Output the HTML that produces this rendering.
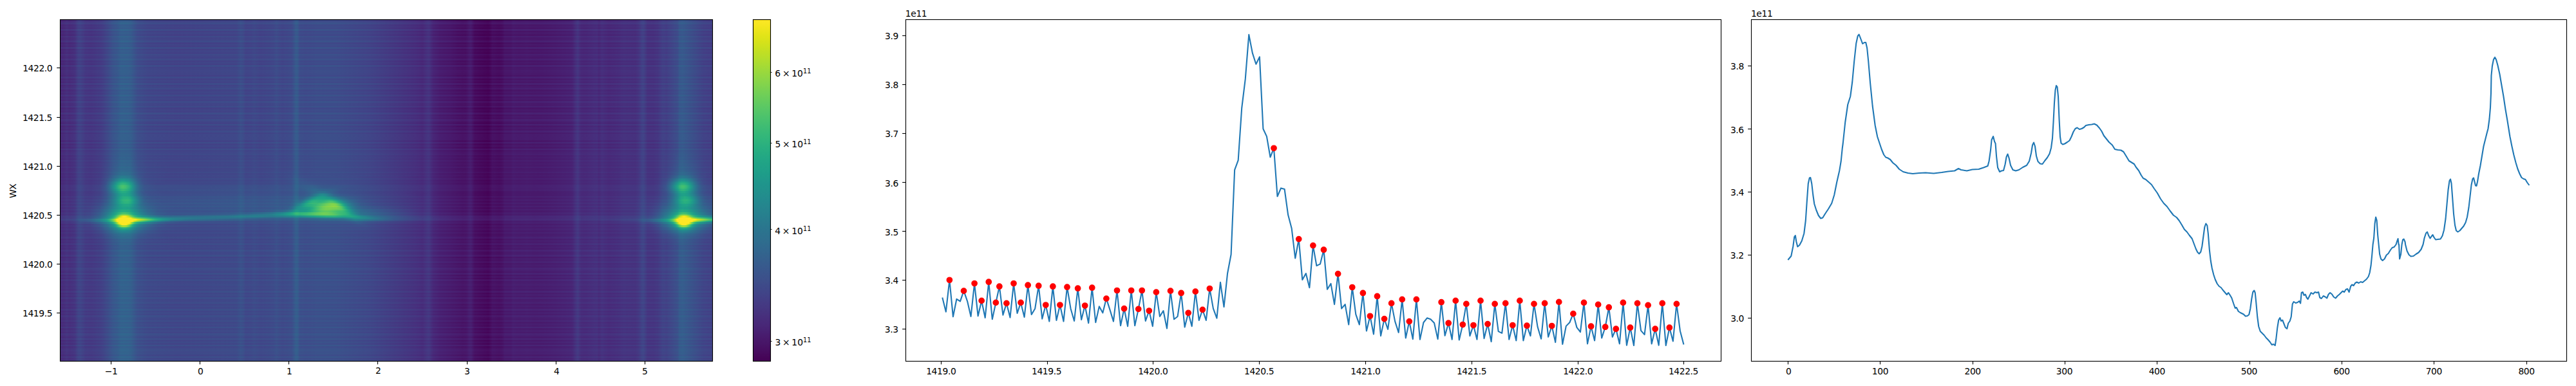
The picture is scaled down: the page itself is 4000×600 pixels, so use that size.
<!DOCTYPE html>
<html lang="en"><head><meta charset="utf-8"><title>wx spectra</title>
<style>html,body{margin:0;padding:0;background:#fff}svg{display:block}text{font-family:'DejaVu Sans','Liberation Sans',sans-serif;fill:#000;letter-spacing:-0.4px}tspan{letter-spacing:0}</style></head><body>
<div id="fig" style="position:relative;width:4000px;height:600px;overflow:hidden;background:#fff">
<style>#hm{position:absolute;left:93px;top:30px;width:1014px;height:532px;overflow:hidden;background:#3f4788}#hm i{position:absolute;left:0;width:100%;display:block}
.r0{background:linear-gradient(90deg,#472d7c 0.06%,#46317e 0.68%,#453681 1.06%,#46327f 1.43%,#453882 2.3%,#404788 2.8%,#3f4889 3.17%,#433e85 3.92%,#433c84 4.91%,#414387 6.41%,#3c4f8a 7.4%,#37598c 8.15%,#355d8d 8.77%,#32658e 9.39%,#32648e 10.39%,#34618d 10.88%,#3a538b 11.88%,#3d4c8a 13.37%,#3e4989 17.97%,#3d4c8a 27.05%,#3a548b 27.67%,#3b518b 28.05%,#3e4b89 28.42%,#3d4c8a 29.29%,#3c4e8a 29.79%,#3e4a89 30.78%,#3d4e8a 32.65%,#3b528b 33.15%,#3d4c8a 34.02%,#3c508b 35.51%,#37598c 35.88%,#34608d 36.13%,#345f8d 36.38%,#3b528b 36.75%,#3b508b 37.75%,#3a538b 39.49%,#3b528b 42.35%,#3e4a89 47.33%,#463480 54.66%,#47307d 55.53%,#453681 56.03%,#443a83 56.41%,#453782 56.65%,#472b7a 57.15%,#482475 58.15%,#481e70 60.01%,#48186a 61.75%,#481a6c 62.25%,#482273 62.75%,#482173 63%,#481466 63.5%,#460b5e 65.61%,#470f62 65.86%,#481769 66.23%,#481466 67.35%,#48186a 67.85%,#481d6f 68.1%,#481d6f 69.09%,#482273 69.34%,#482071 70.21%,#482172 71.58%,#482071 72.7%,#482072 73.45%,#482273 74.69%,#482374 75.81%,#482978 78.42%,#453781 79.04%,#433c84 79.29%,#47307d 79.79%,#472e7c 80.41%,#463480 82.28%,#472e7c 82.52%,#453580 83.02%,#472f7d 84.02%,#46337f 85.63%,#453781 86.26%,#453581 88.12%,#443b83 88.62%,#404688 89.12%,#3f4888 89.37%,#443882 89.99%,#453882 90.86%,#443c84 91.6%,#404788 92.35%,#414487 92.85%,#3c4f8a 94.09%,#3a538b 94.59%,#39568c 94.71%,#365d8d 94.84%,#345f8d 95.34%,#3f4788 98.57%,#404588 99.94%)}
.r1{background:linear-gradient(90deg,#482979 0.06%,#472d7b 0.68%,#46327f 1.06%,#472e7c 1.43%,#463480 2.3%,#414387 2.8%,#414487 3.17%,#443a83 3.92%,#453882 4.91%,#423f85 6.41%,#3e4b89 7.4%,#39558c 8.15%,#375a8c 8.77%,#34618d 9.39%,#34608d 10.39%,#355e8d 10.88%,#3c4f8a 11.88%,#3f4889 13.37%,#404588 17.85%,#3f4889 27.05%,#3c508b 27.67%,#3d4d8a 28.05%,#404788 28.42%,#3f4889 29.29%,#3e4a89 29.79%,#404688 30.78%,#3e4a89 32.65%,#3c4e8a 33.15%,#3f4889 34.02%,#3d4c8a 35.51%,#39568c 35.88%,#365c8d 36.13%,#365c8d 36.38%,#3c4f8a 36.75%,#3d4c8a 37.62%,#3c4f8a 39.49%,#3c4e8a 42.35%,#404688 47.2%,#47307d 54.66%,#472c7a 55.53%,#46327e 56.03%,#453681 56.41%,#46337f 56.65%,#482777 57.15%,#481f71 58.15%,#48196c 60.01%,#481366 61.75%,#481568 62.25%,#481d6f 62.75%,#481d6f 63%,#470f62 63.5%,#450659 65.61%,#460a5d 65.86%,#471265 66.23%,#470f61 67.35%,#481366 67.85%,#48196b 68.1%,#48196b 69.09%,#481d6f 69.34%,#481b6d 70.21%,#481d6f 71.58%,#481b6d 72.57%,#481c6e 73.45%,#481d6f 74.69%,#481f70 75.81%,#482475 78.42%,#46337f 79.04%,#453882 79.29%,#472b7a 79.79%,#482a79 80.41%,#46307e 82.28%,#472a79 82.52%,#46317e 83.02%,#472b7a 84.02%,#472f7d 85.63%,#46337f 86.26%,#46317e 88.12%,#453781 88.62%,#414287 89.12%,#414487 89.37%,#463480 89.99%,#463480 90.86%,#453782 91.6%,#414387 92.35%,#424086 92.85%,#3e4b8a 94.09%,#3c4f8a 94.59%,#3b528b 94.71%,#37598c 94.84%,#365c8d 95.34%,#414387 98.57%,#424186 99.94%)}
.r2{background:linear-gradient(90deg,#46327e 0.06%,#453681 0.68%,#443a83 1.06%,#453681 1.43%,#433c84 2.3%,#3e4b89 2.8%,#3e4c8a 3.17%,#414287 3.92%,#424086 4.91%,#3f4788 6.41%,#3a538b 7.4%,#365d8d 8.15%,#34618d 8.77%,#31688e 9.39%,#31668e 10.76%,#39568c 11.88%,#3c508b 13.37%,#3d4d8a 17.97%,#3c508b 27.05%,#38578c 27.67%,#39558c 28.05%,#3c4e8a 28.42%,#3c4f8b 29.29%,#3b528b 29.79%,#3d4e8a 30.78%,#3b518b 32.65%,#39568c 33.15%,#3c508b 34.02%,#3a548b 35.51%,#365d8d 35.88%,#33638d 36.13%,#33638d 36.38%,#39568c 36.75%,#3a548c 37.75%,#39568c 39.49%,#39568c 42.35%,#3d4e8a 47.33%,#453882 54.66%,#463480 55.66%,#433e85 56.41%,#443b84 56.65%,#472f7d 57.15%,#482878 58.15%,#482273 60.01%,#481d6f 61.75%,#481e70 62.25%,#482676 62.75%,#482676 63%,#48186b 63.5%,#471163 65.61%,#481467 65.86%,#481b6d 66.23%,#48186b 67.35%,#481c6e 67.85%,#482273 68.22%,#482273 69.09%,#482676 69.34%,#482575 70.34%,#482676 71.58%,#482475 72.7%,#482575 73.45%,#482777 75.19%,#482877 75.81%,#472d7b 78.42%,#443b84 79.04%,#424086 79.29%,#46337f 79.91%,#453580 81.16%,#443982 82.28%,#46337f 82.52%,#443983 83.02%,#46337f 84.02%,#453782 85.63%,#443b84 86.26%,#443983 88.12%,#433f85 88.62%,#3e4a89 89.12%,#3e4b8a 89.37%,#433d84 89.99%,#433c84 90.98%,#424186 91.73%,#3e4b89 92.35%,#3f4889 92.85%,#3a538b 94.22%,#37598c 94.71%,#34608d 94.84%,#33638d 95.34%,#3e4b8a 98.57%,#3f4989 99.94%)}
.r3{background:linear-gradient(90deg,#482878 0.06%,#472c7a 0.68%,#46307e 1.06%,#472d7b 1.43%,#46327f 2.3%,#424186 2.8%,#414287 3.17%,#443882 3.92%,#453781 4.91%,#433e85 6.41%,#3e4a89 7.4%,#3a548c 8.15%,#38588c 8.77%,#34608d 9.39%,#355f8d 10.39%,#365d8d 10.88%,#3d4d8a 11.88%,#3f4788 13.37%,#414487 17.85%,#3f4788 27.05%,#3c4f8a 27.67%,#3d4c8a 28.05%,#404588 28.42%,#404688 29.29%,#3f4989 29.79%,#404588 30.78%,#3f4889 32.65%,#3d4d8a 33.15%,#404788 34.02%,#3e4b89 35.51%,#3a548c 35.88%,#375b8d 36.13%,#375b8d 36.38%,#3d4d8a 36.75%,#3e4b8a 37.62%,#3d4e8a 39.49%,#3d4d8a 42.35%,#404588 47.2%,#472f7d 54.54%,#472a79 55.53%,#47307d 56.03%,#463480 56.41%,#46327e 56.65%,#482576 57.15%,#481e70 58.15%,#48186a 60.01%,#471264 61.75%,#481366 62.25%,#481c6e 62.75%,#481c6d 63%,#470d60 63.5%,#450458 65.61%,#46085b 65.86%,#471063 66.23%,#470e61 66.98%,#470d60 67.35%,#471164 67.85%,#48176a 68.1%,#48176a 69.09%,#481c6e 69.34%,#481a6c 70.21%,#481b6d 71.58%,#481a6c 72.33%,#481a6c 73.57%,#481d6f 75.81%,#482374 78.42%,#46317e 79.04%,#453781 79.29%,#482a79 79.79%,#482878 80.41%,#472f7d 82.28%,#482978 82.52%,#472f7d 83.02%,#482979 84.02%,#472d7c 85.63%,#46317e 86.26%,#47307d 88.12%,#453580 88.62%,#424186 89.12%,#414287 89.37%,#46337f 89.99%,#46327f 90.86%,#453681 91.6%,#424186 92.35%,#433f85 92.85%,#3e4a89 94.09%,#3d4e8a 94.59%,#3b518b 94.71%,#38588c 94.84%,#375b8d 95.34%,#414287 98.57%,#423f85 99.94%)}
.r4{background:linear-gradient(90deg,#472c7b 0.06%,#47307d 0.68%,#463580 1.06%,#46317e 1.43%,#453781 2.3%,#404588 2.8%,#404688 3.17%,#433d84 3.92%,#443b83 4.91%,#414286 6.41%,#3d4e8a 7.4%,#38588c 8.15%,#365c8d 8.77%,#33638d 9.39%,#33638d 10.39%,#34608d 10.88%,#3b518b 11.88%,#3e4b89 13.37%,#3f4889 17.85%,#3e4b89 27.05%,#3a528b 27.67%,#3c508b 28.05%,#3f4989 28.42%,#3e4a89 29.29%,#3d4d8a 29.79%,#3f4989 30.78%,#3d4c8a 32.65%,#3b518b 33.15%,#3e4b89 34.02%,#3c4f8a 35.51%,#38588c 35.88%,#355f8d 36.13%,#355e8d 36.38%,#3b518b 36.75%,#3c4f8a 37.75%,#3b518b 39.37%,#3b518b 42.35%,#3f4989 47.33%,#46327f 54.66%,#472e7c 55.53%,#463480 56.03%,#443982 56.41%,#453681 56.65%,#482a79 57.15%,#482273 58.15%,#481c6e 60.01%,#481769 61.75%,#48186a 62.25%,#482072 62.75%,#482071 63%,#471265 63.5%,#46095d 65.61%,#470d60 65.86%,#481568 66.23%,#471265 67.35%,#481669 67.85%,#481c6e 68.1%,#481c6e 69.09%,#482072 69.34%,#481e70 70.21%,#482071 71.58%,#481e70 72.7%,#481f71 73.45%,#482072 74.69%,#482273 75.81%,#482777 78.42%,#453581 79.04%,#443b83 79.29%,#472e7c 79.79%,#472c7b 80.41%,#46337f 82.28%,#472d7b 82.52%,#463380 83.02%,#472d7c 84.02%,#46327e 85.63%,#453581 86.26%,#463480 88.12%,#443983 88.62%,#404588 89.12%,#404688 89.37%,#453782 89.99%,#453681 90.86%,#443a83 91.6%,#404588 92.35%,#414387 92.85%,#3d4e8a 94.09%,#3b518b 94.59%,#3a548c 94.71%,#365c8d 94.84%,#355e8d 95.34%,#404688 98.57%,#414387 99.94%)}
.r5{background:linear-gradient(90deg,#472f7d 0.06%,#46337f 0.68%,#453782 1.06%,#463480 1.43%,#443983 2.3%,#3f4889 2.8%,#3f4989 3.17%,#423f85 3.92%,#433d85 4.91%,#404487 6.41%,#3c508b 7.4%,#375a8c 8.15%,#355e8d 8.77%,#32668e 9.39%,#32658e 10.39%,#33628d 10.88%,#3a548b 11.88%,#3d4e8a 13.37%,#3e4b89 17.97%,#3d4d8a 27.05%,#39558c 27.67%,#3a528b 28.05%,#3d4c8a 28.42%,#3d4d8a 29.29%,#3c4f8b 29.79%,#3e4b8a 30.78%,#3c4f8a 32.65%,#3a538b 33.15%,#3d4d8a 34.02%,#3b518b 35.51%,#375b8d 35.88%,#34618d 36.13%,#34608d 36.38%,#3a548b 36.75%,#3b528b 37.75%,#3a548b 39.49%,#3a538b 42.35%,#3e4b8a 47.33%,#453581 54.66%,#46317e 55.53%,#453782 56.03%,#443b84 56.41%,#443982 56.65%,#472d7b 57.15%,#482576 58.15%,#481f71 60.01%,#481a6c 61.75%,#481b6d 62.25%,#482374 62.75%,#482374 63%,#481568 63.5%,#470d60 65.61%,#471164 65.86%,#48186b 66.23%,#481568 67.35%,#48196b 67.85%,#481f70 68.1%,#481f70 69.09%,#482374 69.34%,#482172 70.21%,#482374 71.58%,#482172 72.7%,#482273 73.45%,#482374 75.06%,#482575 75.81%,#472a79 78.42%,#453882 79.04%,#433d85 79.29%,#46317e 79.79%,#472f7d 80.41%,#453681 82.28%,#47307d 82.52%,#453681 83.02%,#46307e 84.02%,#463480 85.63%,#453882 86.26%,#453781 88.12%,#433c84 88.62%,#3f4889 89.12%,#3f4989 89.37%,#443a83 89.99%,#443983 90.86%,#433d84 91.6%,#3f4889 92.35%,#404588 92.85%,#3b518b 94.22%,#38578c 94.71%,#355e8d 94.84%,#34608d 95.34%,#3f4989 98.57%,#404688 99.94%)}
.r6{background:linear-gradient(90deg,#46307e 0.06%,#463480 0.68%,#443982 1.06%,#453580 1.43%,#443b83 2.3%,#3e4989 2.8%,#3e4a89 3.17%,#424186 3.92%,#433f85 4.91%,#404688 6.41%,#3b518b 7.4%,#365b8d 8.15%,#34608d 8.77%,#31678e 9.39%,#31668e 10.39%,#33648d 10.88%,#39558c 11.88%,#3c4f8a 13.37%,#3d4c8a 17.97%,#3c4f8a 27.05%,#39568c 27.67%,#3a548b 28.05%,#3d4d8a 28.42%,#3c4e8a 29.29%,#3b518b 29.79%,#3d4d8a 30.78%,#3c508b 32.65%,#3a548c 33.15%,#3c4f8a 34.02%,#3a528b 35.51%,#365c8d 35.88%,#33628d 36.13%,#33628d 36.38%,#39558c 36.75%,#3a538b 37.75%,#39558c 39.49%,#3a548c 42.35%,#3d4d8a 47.33%,#453781 54.66%,#46337f 55.66%,#433d84 56.41%,#443a83 56.65%,#472e7c 57.15%,#482777 58.15%,#482172 60.01%,#481b6d 61.75%,#481d6f 62.25%,#482575 62.75%,#482475 63%,#481769 63.5%,#470f62 65.61%,#471265 65.86%,#481a6c 66.23%,#481769 67.35%,#481b6d 67.85%,#482172 68.22%,#482072 69.09%,#482575 69.34%,#482374 70.34%,#482475 71.58%,#482273 72.7%,#482374 73.45%,#482576 75.19%,#482676 75.81%,#472c7b 78.42%,#443a83 79.04%,#433f85 79.29%,#46317e 79.91%,#463480 81.16%,#453782 82.28%,#46317e 82.52%,#453882 83.02%,#46327e 84.02%,#453681 85.63%,#443a83 86.26%,#453882 88.12%,#433d85 88.62%,#3f4989 89.12%,#3e4a89 89.37%,#443b84 89.99%,#443b83 90.86%,#424086 91.73%,#3e4989 92.35%,#404788 92.85%,#3b528b 94.22%,#38588c 94.71%,#355f8d 94.84%,#33628d 95.34%,#3e4a89 98.57%,#3f4788 99.94%)}
.r7{background:linear-gradient(90deg,#472b7a 0.06%,#472e7c 0.68%,#46337f 1.06%,#472f7d 1.43%,#453581 2.3%,#414487 2.8%,#404588 3.17%,#443b84 3.92%,#443983 4.91%,#424086 6.41%,#3d4c8a 7.4%,#39578c 8.15%,#375b8d 8.77%,#33628d 9.39%,#34618d 10.39%,#355f8d 10.88%,#3c508b 11.88%,#3e4a89 13.37%,#404788 17.85%,#3e4989 27.05%,#3b518b 27.67%,#3c4f8a 28.05%,#3f4889 28.42%,#3f4989 29.29%,#3e4c8a 29.79%,#3f4788 30.78%,#3e4b89 32.65%,#3c4f8b 33.15%,#3e4989 34.02%,#3d4d8a 35.51%,#38578c 35.88%,#355d8d 36.13%,#365d8d 36.38%,#3c508b 36.75%,#3d4e8a 37.75%,#3c508b 39.37%,#3c508b 42.35%,#3f4889 47.2%,#46317e 54.66%,#472d7b 55.53%,#46337f 56.03%,#453782 56.41%,#463480 56.65%,#482878 57.15%,#482172 58.15%,#481b6d 60.01%,#481567 61.75%,#481769 62.25%,#481f70 62.75%,#481f70 63%,#471063 63.5%,#46085b 65.61%,#460c5f 65.86%,#481466 66.23%,#471063 67.35%,#481567 67.85%,#481a6c 68.1%,#481a6c 69.09%,#481f70 69.34%,#481d6e 70.21%,#481e70 71.58%,#481d6e 72.7%,#481e6f 73.45%,#481f70 74.69%,#482072 75.81%,#482676 78.42%,#463480 79.04%,#443983 79.29%,#472d7b 79.79%,#472b7a 80.41%,#46327e 82.28%,#472c7a 82.52%,#46327f 83.02%,#472c7b 84.02%,#46307e 85.63%,#463480 86.26%,#46337f 88.12%,#453882 88.62%,#414487 89.12%,#404588 89.37%,#453681 89.99%,#453580 90.86%,#443982 91.6%,#414487 92.35%,#424186 92.85%,#3d4d8a 94.09%,#3b508b 94.59%,#3a538b 94.71%,#375a8d 94.84%,#365d8d 95.34%,#404588 98.57%,#414287 99.94%)}
.r8{background:linear-gradient(90deg,#482676 0.06%,#472a79 0.68%,#472f7d 1.06%,#472b7a 1.43%,#46317e 2.3%,#424086 2.8%,#424186 3.17%,#453782 3.92%,#453580 4.91%,#433c84 6.41%,#3f4889 7.4%,#3a538b 8.15%,#38578c 8.77%,#355f8d 9.39%,#355e8d 10.39%,#365b8d 10.88%,#3d4c8a 11.88%,#404688 13.37%,#414387 17.85%,#404688 27.05%,#3d4d8a 27.67%,#3e4b89 28.05%,#414487 28.42%,#404588 29.29%,#3f4888 29.79%,#414387 30.78%,#3f4788 32.65%,#3e4c8a 33.15%,#404588 34.02%,#3e4a89 35.51%,#3a538b 35.88%,#375a8c 36.13%,#37598c 36.38%,#3d4c8a 36.75%,#3e4a89 37.62%,#3d4c8a 39.37%,#3d4c8a 42.35%,#414487 47.2%,#472e7c 54.54%,#482978 55.53%,#472f7d 56.03%,#46337f 56.41%,#47307d 56.65%,#482475 57.15%,#481c6e 58.15%,#48176a 59.89%,#471264 61.01%,#471163 62.13%,#481b6d 62.87%,#481669 63.12%,#460b5e 63.5%,#450356 65.61%,#45065a 65.86%,#470f62 66.23%,#460c5f 66.98%,#460b5e 67.35%,#471062 67.85%,#481668 68.1%,#481668 69.09%,#481a6c 69.34%,#48186a 70.21%,#481a6c 71.58%,#48196b 72.2%,#48186b 73.57%,#481c6e 75.81%,#482173 78.42%,#47307d 79.04%,#453580 79.29%,#482878 79.79%,#482777 80.41%,#472d7c 82.28%,#482777 82.52%,#472e7c 83.02%,#482878 84.02%,#472c7b 85.63%,#47307d 86.26%,#472e7c 88.12%,#463480 88.62%,#424086 89.12%,#424186 89.37%,#46317e 89.99%,#46317e 90.86%,#463580 91.6%,#424086 92.35%,#433d85 92.85%,#3f4989 94.09%,#3d4c8a 94.59%,#3c4f8b 94.71%,#38578c 94.84%,#37598c 95.34%,#424186 98.57%,#433e85 99.94%)}
.r9{background:linear-gradient(90deg,#482575 0.06%,#482978 0.68%,#472d7c 1.06%,#482a79 1.43%,#47307d 2.3%,#433f85 2.8%,#424086 3.17%,#453681 3.92%,#463480 4.91%,#443b83 6.41%,#3f4788 7.4%,#3b528b 8.15%,#39568c 8.77%,#355e8d 9.39%,#365d8d 10.39%,#375a8c 10.88%,#3e4b89 11.88%,#404487 13.37%,#424186 17.85%,#414487 27.05%,#3d4c8a 27.67%,#3e4a89 28.05%,#414387 28.42%,#414487 29.29%,#404688 29.79%,#414287 30.66%,#404688 32.65%,#3e4a89 33.15%,#414487 34.02%,#3f4889 35.51%,#3b528b 35.88%,#38598c 36.13%,#38588c 36.38%,#3e4b89 36.75%,#3f4989 37.62%,#3e4b89 39.37%,#3e4a89 42.35%,#414287 47.2%,#472c7b 54.54%,#482777 55.53%,#472d7c 56.03%,#46327e 56.41%,#472f7d 56.65%,#482273 57.15%,#481b6d 58.15%,#481668 59.89%,#471063 61.01%,#470f62 62.13%,#48196b 62.75%,#48186b 63%,#46095d 63.5%,#440154 65.61%,#450558 65.86%,#470d60 66.23%,#460a5d 66.98%,#46095d 67.35%,#470e61 67.85%,#481467 68.1%,#481467 69.09%,#48196b 69.34%,#481669 70.21%,#48186a 71.58%,#481769 72.08%,#48176a 73.45%,#48186b 74.56%,#481a6c 75.81%,#482071 78.42%,#472e7c 79.04%,#463480 79.29%,#482777 79.79%,#482576 80.41%,#472c7b 82.28%,#482676 82.52%,#472c7b 83.02%,#482676 84.02%,#472a7a 85.63%,#472e7c 86.26%,#472d7b 88.12%,#46327f 88.62%,#433e85 89.12%,#423f86 89.37%,#47307d 89.99%,#472f7d 90.86%,#46337f 91.6%,#433f85 92.35%,#433c84 92.85%,#3f4788 94.09%,#3e4b89 94.59%,#3c4e8a 94.71%,#39568c 94.84%,#38588c 95.34%,#423f85 98.57%,#433d84 99.94%)}
.r10{background:linear-gradient(90deg,#482878 0.06%,#472c7b 0.68%,#46307e 1.06%,#472d7b 1.43%,#46337f 2.3%,#424286 2.8%,#414387 3.17%,#443982 3.92%,#453782 4.91%,#423f85 6.41%,#3e4b8a 7.4%,#39568c 8.15%,#365b8d 8.77%,#33638d 9.39%,#34618d 10.76%,#3c508b 11.88%,#3f4889 13.37%,#414487 17.35%,#3f4788 27.05%,#3c4f8a 27.67%,#3d4c8a 28.05%,#404588 28.42%,#404788 29.29%,#3f4989 29.79%,#404588 30.78%,#3f4889 32.65%,#3d4d8a 33.15%,#3f4788 34.02%,#3e4b89 35.51%,#3a558c 35.88%,#365b8d 36.13%,#375b8d 36.38%,#3d4d8a 36.75%,#3e4b8a 37.62%,#3d4e8a 39.49%,#3d4d8a 42.35%,#404588 47.2%,#472f7d 54.54%,#472a79 55.53%,#47307d 56.03%,#463480 56.41%,#46327e 56.65%,#482576 57.15%,#481e70 58.15%,#48186a 60.01%,#471264 61.75%,#481466 62.25%,#481c6e 62.75%,#481c6d 63%,#470d60 63.5%,#450458 65.61%,#46085b 65.86%,#471063 66.23%,#470e61 66.98%,#470d60 67.35%,#471164 67.85%,#48176a 68.1%,#48176a 69.09%,#481c6e 69.34%,#481a6c 70.21%,#481b6d 71.58%,#481a6c 72.33%,#481a6c 73.57%,#481d6f 75.81%,#482374 78.42%,#46317e 79.04%,#453781 79.29%,#482a79 79.79%,#482878 80.41%,#472f7d 82.28%,#482978 82.52%,#472f7d 83.02%,#482979 84.02%,#472d7c 85.63%,#46317e 86.26%,#47307d 88.12%,#453581 88.62%,#424186 89.12%,#414287 89.37%,#46337f 89.99%,#46337f 90.86%,#453782 91.6%,#414387 92.35%,#424086 92.85%,#3d4d8a 94.09%,#3b518b 94.59%,#3a548b 94.71%,#365b8d 94.84%,#355e8d 95.34%,#414387 98.69%,#424086 99.94%)}
.r11{background:linear-gradient(90deg,#472b7a 0.06%,#472f7c 0.68%,#46337f 1.06%,#47307d 1.43%,#453581 2.3%,#404487 2.8%,#404588 3.17%,#443c84 3.92%,#443a83 4.91%,#414287 6.41%,#3c4f8a 7.4%,#375a8c 8.15%,#355f8d 8.77%,#31678e 9.39%,#32658e 10.76%,#3a538b 11.88%,#3e4c8a 13.37%,#3f4788 17.23%,#3e4a89 27.05%,#3b518b 27.67%,#3c4f8a 28.05%,#3f4889 28.42%,#3f4989 29.29%,#3d4c8a 29.79%,#3f4888 30.78%,#3e4b89 32.65%,#3c508b 33.15%,#3e4a89 34.02%,#3d4e8a 35.51%,#38578c 35.88%,#355d8d 36.13%,#365d8d 36.38%,#3c508b 36.75%,#3d4e8a 37.75%,#3b508b 39.37%,#3c508b 42.35%,#3f4889 47.2%,#46317e 54.66%,#472d7b 55.53%,#46337f 56.03%,#453782 56.41%,#463480 56.65%,#482878 57.15%,#482172 58.15%,#481b6d 60.01%,#481567 61.75%,#481769 62.25%,#481f70 62.75%,#481f70 63%,#471063 63.5%,#46085b 65.61%,#460c5f 65.86%,#481466 66.23%,#471063 67.35%,#481567 67.85%,#481a6c 68.1%,#481a6c 69.09%,#481f70 69.34%,#481d6e 70.21%,#481e70 71.58%,#481d6e 72.7%,#481e6f 73.45%,#481f70 74.69%,#482072 75.81%,#482676 78.42%,#463480 79.04%,#443983 79.29%,#472d7b 79.79%,#472b7a 80.41%,#46327e 82.28%,#472c7a 82.52%,#46327f 83.02%,#472c7b 84.02%,#46307e 85.63%,#463480 86.26%,#46337f 88.12%,#453882 88.62%,#414487 89.12%,#404588 89.37%,#453681 89.99%,#453681 90.86%,#443a83 91.6%,#404688 92.35%,#414487 92.85%,#3b518b 94.22%,#38588c 94.71%,#355f8d 94.84%,#33618d 95.34%,#404688 98.69%,#414387 99.94%)}
.r12{background:linear-gradient(90deg,#482677 0.06%,#472a7a 0.68%,#472f7d 1.06%,#472b7a 1.43%,#46317e 2.3%,#424086 2.8%,#424186 3.17%,#453882 3.92%,#453681 4.79%,#433e85 6.28%,#3e4a89 7.28%,#38588c 8.15%,#355d8d 8.77%,#32658e 9.39%,#33638d 10.76%,#3c508b 12%,#3f4889 13.5%,#414387 16.98%,#404688 27.05%,#3d4e8a 27.67%,#3e4b89 28.05%,#414487 28.42%,#404588 29.29%,#3f4889 29.79%,#414487 30.78%,#3f4788 32.65%,#3d4c8a 33.15%,#404688 34.02%,#3e4a89 35.51%,#3a538b 35.88%,#375a8c 36.13%,#375a8c 36.38%,#3d4c8a 36.75%,#3e4a89 37.62%,#3d4c8a 39.37%,#3d4c8a 42.35%,#414487 47.2%,#472e7c 54.54%,#482978 55.53%,#472f7d 56.03%,#46337f 56.41%,#46307e 56.65%,#482475 57.15%,#481c6e 58.15%,#48176a 59.89%,#471264 61.01%,#471163 62.13%,#481b6d 62.87%,#481669 63.12%,#460b5e 63.5%,#450356 65.61%,#45065a 65.86%,#470f62 66.23%,#460c5f 66.98%,#460b5e 67.35%,#471062 67.85%,#481668 68.1%,#481668 69.09%,#481a6c 69.34%,#48186a 70.21%,#481a6c 71.58%,#48196b 72.2%,#48186b 73.57%,#481c6e 75.81%,#482173 78.42%,#47307d 79.04%,#453580 79.29%,#482878 79.79%,#482777 80.41%,#472d7c 82.28%,#482777 82.52%,#472e7c 83.02%,#482878 84.02%,#472c7b 85.63%,#47307d 86.26%,#472f7c 88.12%,#463480 88.62%,#424086 89.12%,#424186 89.37%,#46327f 89.99%,#46327f 90.86%,#453781 91.6%,#414387 92.35%,#424186 92.85%,#3c4f8a 94.09%,#3a538b 94.59%,#39568c 94.71%,#355d8d 94.84%,#34608d 95.34%,#3b508b 97.2%,#414387 98.82%,#424086 99.94%)}
.r13{background:linear-gradient(90deg,#472f7d 0.06%,#46337f 0.68%,#453882 1.06%,#463480 1.43%,#443a83 2.3%,#3f4989 2.8%,#3e4a89 3.17%,#424086 3.92%,#423f85 4.91%,#3f4889 6.41%,#39568c 7.4%,#34618d 8.15%,#31678e 8.77%,#2e6e8e 9.39%,#2f6d8e 10.76%,#37598c 12%,#3b518b 13.5%,#3e4b89 16.85%,#3d4e8a 27.05%,#39558c 27.67%,#3a538b 28.05%,#3d4c8a 28.42%,#3d4d8a 29.29%,#3c508b 29.79%,#3e4c8a 30.78%,#3c4f8a 32.65%,#3a538b 33.15%,#3d4e8a 34.02%,#3b518b 35.51%,#375b8d 35.88%,#34618d 36.13%,#34618d 36.38%,#3a548b 36.75%,#3b528b 37.75%,#3a548c 39.49%,#3a538b 42.35%,#3e4b8a 47.33%,#453581 54.66%,#46317e 55.53%,#453782 56.03%,#443b84 56.41%,#443982 56.65%,#472d7b 57.15%,#482576 58.15%,#481f71 60.01%,#481a6c 61.75%,#481b6d 62.25%,#482374 62.75%,#482374 63%,#481568 63.5%,#470d60 65.61%,#471164 65.86%,#48186b 66.23%,#481568 67.35%,#48196b 67.85%,#481f70 68.1%,#481f71 69.09%,#482374 69.34%,#482172 70.21%,#482374 71.58%,#482172 72.7%,#482273 73.45%,#482374 75.06%,#482575 75.81%,#472a7a 78.42%,#453882 79.04%,#433d85 79.29%,#46317e 79.79%,#472f7d 80.41%,#453681 82.28%,#47307d 82.52%,#453681 83.02%,#46307e 84.02%,#463480 85.63%,#453882 86.26%,#453782 88.12%,#433d84 88.62%,#3f4889 89.12%,#3e4a89 89.37%,#443b84 89.99%,#443b84 90.86%,#424086 91.6%,#3d4c8a 92.35%,#3e4b89 92.85%,#37598c 94.22%,#34608d 94.71%,#31678e 94.84%,#306a8e 95.34%,#375a8c 97.2%,#3d4c8a 98.94%,#3f4989 99.94%)}
.r14{background:linear-gradient(90deg,#482979 0.06%,#472d7c 0.68%,#46327f 1.06%,#472e7c 1.43%,#463480 2.3%,#414387 2.8%,#404587 3.17%,#443b84 3.92%,#443a83 4.79%,#414387 6.28%,#3a538b 7.4%,#34608d 8.15%,#31688e 8.89%,#2e6f8e 9.51%,#2f6c8e 10.76%,#38588c 12%,#3d4e8a 13.5%,#404688 16.48%,#3f4989 27.05%,#3b508b 27.67%,#3d4e8a 28.05%,#3f4788 28.42%,#3f4889 29.29%,#3e4b89 29.79%,#404788 30.78%,#3e4a89 32.65%,#3c4f8a 33.15%,#3f4889 34.02%,#3d4d8a 35.51%,#39568c 35.88%,#365c8d 36.13%,#365c8d 36.38%,#3c4f8a 36.75%,#3d4d8a 37.62%,#3c4f8b 39.49%,#3c4f8a 42.35%,#404688 47.33%,#47307d 54.66%,#472c7b 55.53%,#46327e 56.03%,#453681 56.41%,#46337f 56.65%,#482777 57.15%,#481f71 58.15%,#48196c 60.01%,#481466 61.75%,#481568 62.25%,#481d6f 62.75%,#481d6f 63%,#470f62 63.5%,#450659 65.61%,#460a5d 65.86%,#471265 66.23%,#470f62 67.35%,#481366 67.85%,#48196b 68.1%,#48196b 69.09%,#481d6f 69.34%,#481b6d 70.21%,#481d6f 71.58%,#481b6d 72.57%,#481c6e 73.45%,#481d6f 74.69%,#481f70 75.81%,#482475 78.42%,#46337f 79.04%,#453882 79.29%,#472b7a 79.79%,#482a79 80.41%,#46307e 82.28%,#472a79 82.52%,#46317e 83.02%,#472b7a 84.02%,#472f7d 85.63%,#46337f 86.26%,#46327e 88.12%,#453782 88.62%,#414387 89.12%,#404587 89.37%,#453681 89.99%,#453781 90.86%,#433c84 91.6%,#3f4989 92.35%,#3f4889 92.85%,#38578c 94.09%,#365c8d 94.59%,#345f8d 94.71%,#31668e 94.84%,#30698e 95.34%,#365c8d 96.95%,#3f4989 98.82%,#404587 99.94%)}
.r15{background:linear-gradient(90deg,#482878 0.06%,#472c7b 0.68%,#46317e 1.06%,#472d7b 1.43%,#46337f 2.3%,#414287 2.8%,#414487 3.17%,#443a83 3.92%,#443983 4.79%,#414487 6.28%,#39568c 7.4%,#33638d 8.15%,#2f6c8e 8.89%,#2c738e 9.51%,#2d708e 10.76%,#375b8d 12%,#3c4f8a 13.5%,#404688 16.11%,#3f4788 26.93%,#3c4f8b 27.67%,#3d4d8a 28.05%,#404688 28.42%,#3f4788 29.29%,#3e4a89 29.79%,#404588 30.78%,#3f4989 32.65%,#3d4d8a 33.15%,#3f4788 34.02%,#3e4b8a 35.51%,#39558c 35.88%,#365b8d 36.13%,#365b8d 36.38%,#3d4e8a 36.75%,#3d4c8a 37.62%,#3c4e8a 39.49%,#3d4d8a 42.35%,#404588 47.45%,#472e7c 54.66%,#472a7a 55.53%,#46307e 56.03%,#463480 56.41%,#46327e 56.65%,#482576 57.15%,#481e70 58.15%,#48186a 60.01%,#471264 61.75%,#481466 62.25%,#481c6e 62.75%,#481c6d 63%,#470d60 63.5%,#450458 65.61%,#46085b 65.86%,#471163 66.23%,#470e61 66.98%,#470d60 67.35%,#471164 67.85%,#48176a 68.1%,#48176a 69.09%,#481c6e 69.34%,#481a6c 70.21%,#481b6d 71.58%,#481a6c 72.33%,#481a6c 73.57%,#481d6f 75.81%,#482374 78.42%,#46317e 79.04%,#453781 79.29%,#482a79 79.79%,#482878 80.41%,#472f7d 82.28%,#482978 82.52%,#472f7d 83.02%,#482979 84.02%,#472d7c 85.63%,#46317e 86.26%,#46307e 88.12%,#453681 88.62%,#414287 89.12%,#414487 89.37%,#453581 89.99%,#453681 90.86%,#433c84 91.6%,#3e4a89 92.35%,#3e4a89 92.85%,#365c8d 94.22%,#32648e 94.71%,#2f6b8e 94.84%,#2e6e8e 95.34%,#33638d 96.7%,#3e4b89 98.82%,#404588 99.94%)}
.r16{background:linear-gradient(90deg,#472e7c 0.06%,#46327e 0.68%,#453681 1.06%,#46337f 1.43%,#443983 2.3%,#3f4889 2.8%,#3f4989 3.17%,#424086 3.92%,#424086 4.79%,#3d4c8a 6.28%,#355e8d 7.4%,#2e6e8e 8.27%,#277e8e 9.39%,#287d8e 10.51%,#2a768e 11.01%,#33628d 12.13%,#39568c 13.5%,#3d4c8a 15.98%,#3e4b8a 22.95%,#3d4d8a 27.05%,#3a558c 27.67%,#3b528b 28.05%,#3e4b8a 28.42%,#3d4d8a 29.29%,#3c4f8a 29.79%,#3e4b89 30.78%,#3c4e8a 32.65%,#3a538b 33.15%,#3d4d8a 34.02%,#3b518b 35.51%,#375a8c 35.88%,#34608d 36.13%,#34608d 36.38%,#3a538b 36.75%,#3b518b 37.75%,#3a538b 39.49%,#3a538b 42.35%,#3e4a89 47.57%,#463480 54.66%,#47307d 55.53%,#453681 56.03%,#443a83 56.41%,#453782 56.65%,#472b7a 57.15%,#482475 58.15%,#481e70 60.01%,#48186a 61.75%,#481a6c 62.25%,#482273 62.75%,#482273 63%,#481466 63.5%,#460b5f 65.61%,#470f62 65.86%,#481769 66.23%,#481466 67.35%,#48186a 67.85%,#481d6f 68.1%,#481e6f 69.09%,#482273 69.34%,#482071 70.21%,#482173 71.58%,#482071 72.7%,#482172 73.45%,#482273 74.69%,#482374 75.81%,#482978 78.42%,#453781 79.04%,#433c84 79.29%,#47307d 79.79%,#472e7c 80.41%,#463580 82.28%,#472f7c 82.52%,#453580 83.02%,#472f7d 84.02%,#46337f 85.63%,#453782 86.26%,#453681 88.12%,#433c84 88.62%,#3f4889 89.12%,#3e4989 89.37%,#443c84 89.99%,#433d85 90.86%,#414487 91.6%,#3b528b 92.35%,#3a538b 92.85%,#31678e 94.22%,#2d6f8e 94.71%,#2a768e 94.84%,#297b8e 95.34%,#2c718e 96.46%,#3a548c 98.69%,#3d4c8a 99.94%)}
.r17{background:linear-gradient(90deg,#482878 0.06%,#472c7b 0.68%,#46317e 1.06%,#472d7c 1.43%,#46327e 2.18%,#443b83 2.55%,#414387 2.8%,#414487 3.17%,#443c84 3.92%,#443c84 4.79%,#3e4a89 6.28%,#355f8d 7.4%,#2d718e 8.27%,#24878e 9.39%,#23888e 9.89%,#25838e 10.63%,#31668e 12%,#39568c 13.37%,#3f4889 15.73%,#404688 21.33%,#3f4889 27.05%,#3c508b 27.67%,#3d4d8a 28.05%,#404788 28.42%,#3f4889 29.29%,#3e4a89 29.79%,#404688 30.78%,#3e4a89 32.65%,#3c4e8a 33.15%,#3f4889 34.02%,#3d4c8a 35.51%,#39558c 35.88%,#365c8d 36.13%,#365b8d 36.38%,#3c4e8a 36.75%,#3d4c8a 37.62%,#3c4e8a 39.49%,#3d4e8a 42.35%,#404688 47.57%,#472e7c 54.66%,#472a7a 55.53%,#46307e 56.03%,#463580 56.41%,#46327f 56.65%,#482676 57.15%,#481e70 58.15%,#48186a 60.01%,#471265 61.75%,#481466 62.25%,#481c6e 62.75%,#481c6e 63%,#470d60 63.5%,#450458 65.61%,#46085b 65.86%,#471163 66.23%,#470e61 66.98%,#470d60 67.35%,#471164 67.85%,#48176a 68.1%,#48176a 69.09%,#481c6e 69.34%,#481a6c 70.21%,#481b6d 71.58%,#481a6c 72.33%,#481a6c 73.57%,#481d6f 75.81%,#482374 78.42%,#46317e 79.04%,#453781 79.29%,#482a79 79.79%,#482878 80.41%,#472f7d 82.28%,#482978 82.52%,#472f7d 83.02%,#482979 84.02%,#472e7c 85.63%,#46327e 86.26%,#46307e 88%,#453781 88.62%,#414387 89.12%,#404588 89.37%,#453781 89.99%,#443982 90.73%,#424186 91.6%,#3b518b 92.35%,#3a538b 92.85%,#2c728e 94.59%,#2b768e 94.71%,#287d8e 94.84%,#25848e 95.34%,#27808e 95.96%,#38578c 98.45%,#3f4989 99.94%)}
.r18{background:linear-gradient(90deg,#472d7b 0.06%,#46317e 0.68%,#453581 1.06%,#46327f 1.43%,#453882 2.3%,#3f4788 2.8%,#3f4989 3.17%,#424186 3.92%,#424186 4.79%,#3b518b 6.28%,#30688e 7.4%,#23898d 8.77%,#1e9d89 9.39%,#1fa187 9.76%,#1f998a 10.51%,#2b758e 11.75%,#34608d 13.12%,#3c4f8a 15.24%,#3e4a89 17.97%,#3d4c8a 27.05%,#3a548c 27.67%,#3b528b 28.05%,#3e4b89 28.42%,#3d4c8a 29.29%,#3c4f8a 29.79%,#3e4a89 30.78%,#3d4e8a 32.65%,#3b528b 33.15%,#3d4c8a 34.02%,#3c508b 35.51%,#37598c 35.88%,#34608d 36.13%,#345f8d 36.38%,#3a528b 36.75%,#3b508b 37.75%,#3a538b 39.49%,#3b528b 42.35%,#3d4d8a 46.46%,#46337f 54.66%,#472f7d 55.53%,#453580 56.03%,#443983 56.41%,#453681 56.65%,#472a79 57.15%,#482374 58.15%,#481d6e 60.01%,#481769 61.75%,#48186b 62.25%,#482172 62.75%,#482072 63%,#471265 63.5%,#460a5d 65.61%,#470e60 65.86%,#481568 66.23%,#471265 67.35%,#481669 67.85%,#481c6e 68.1%,#481c6e 69.09%,#482072 69.34%,#481e70 70.21%,#482071 71.58%,#481e70 72.7%,#481f71 73.45%,#482072 74.69%,#482273 75.81%,#482777 78.42%,#453681 79.04%,#443b83 79.29%,#472e7c 79.79%,#472d7b 80.41%,#46337f 82.28%,#472d7c 82.52%,#463480 83.02%,#472e7c 84.02%,#46327f 85.63%,#453681 86.26%,#453580 88%,#443b84 88.62%,#3f4889 89.12%,#3f4989 89.37%,#433c84 89.99%,#433e85 90.73%,#3f4889 91.6%,#37598c 92.35%,#365c8d 92.85%,#277f8e 94.47%,#23898e 94.71%,#20918c 94.84%,#1e9b8a 95.21%,#1e9c89 95.58%,#1f958c 96.08%,#2d718e 97.45%,#37598c 98.94%,#3c4f8b 99.94%)}
.r19{background:linear-gradient(90deg,#482878 0.06%,#472c7b 0.68%,#46317e 1.06%,#472e7c 1.43%,#46327f 2.18%,#443b84 2.55%,#414487 2.8%,#404588 3.17%,#433e85 3.79%,#433e85 4.66%,#3d4d8a 6.03%,#31688e 7.28%,#228d8d 8.52%,#1f9f88 8.89%,#26ac82 9.14%,#3aba76 9.51%,#41bd72 9.76%,#3ebc74 10.01%,#2aaf7f 10.51%,#20a586 10.76%,#1f988b 11.01%,#26838e 11.5%,#2d708e 12.25%,#365d8d 13.5%,#3d4c8a 15.36%,#3f4788 17.85%,#3f4989 27.05%,#3b518b 27.67%,#3c4e8a 28.05%,#3f4888 28.42%,#3f4989 29.29%,#3e4b8a 29.79%,#3f4788 30.78%,#3e4b89 32.65%,#3c4f8a 33.15%,#3f4989 34.02%,#3d4d8a 35.51%,#39568c 35.88%,#365d8d 36.13%,#365c8d 36.38%,#3c4f8a 36.75%,#3d4d8a 37.75%,#3c4f8b 39.37%,#3c4f8a 42.35%,#3e4c8a 44.84%,#3e4a89 47.08%,#424186 49.32%,#472d7b 54.91%,#472b7a 55.66%,#453580 56.41%,#46327f 56.65%,#482676 57.15%,#481e70 58.15%,#48186a 60.01%,#471265 61.75%,#481466 62.25%,#481c6e 62.75%,#481c6e 63%,#470d60 63.5%,#450458 65.61%,#46085c 65.86%,#471163 66.23%,#470e61 66.98%,#470d60 67.35%,#471264 67.85%,#48176a 68.1%,#48176a 69.09%,#481c6e 69.34%,#481a6c 70.21%,#481b6d 71.58%,#481a6c 72.33%,#481a6c 73.57%,#481d6f 75.81%,#482374 78.42%,#46317e 79.04%,#453781 79.29%,#472a79 79.79%,#482878 80.41%,#472f7d 82.28%,#482979 82.52%,#47307d 83.02%,#482979 84.02%,#472e7c 85.63%,#46327f 86.26%,#46317e 88%,#453882 88.62%,#404487 89.12%,#404688 89.37%,#443983 89.99%,#433c84 90.73%,#3f4888 91.6%,#375a8c 92.35%,#355f8d 92.85%,#287c8e 93.97%,#218f8d 94.47%,#1e9c89 94.71%,#22a785 94.84%,#33b67a 95.21%,#3aba76 95.46%,#38b977 95.71%,#29af80 96.08%,#20a486 96.33%,#1f988b 96.58%,#277f8e 97.2%,#306a8e 98.07%,#39568c 99.32%,#3c4f8a 99.94%)}
.r20{background:linear-gradient(90deg,#472d7b 0.06%,#46317e 0.68%,#453681 1.06%,#46327f 1.43%,#453781 2.18%,#424086 2.55%,#3f4889 2.8%,#3e4a89 3.17%,#414387 3.79%,#414487 4.66%,#3a558c 6.03%,#2d718e 7.28%,#20948c 8.27%,#1fa088 8.52%,#22a884 8.64%,#2bb17e 8.77%,#39ba76 8.89%,#60ca60 9.14%,#89d548 9.39%,#99d93d 9.51%,#a5db36 9.64%,#aadc32 9.76%,#aadc32 9.89%,#a5db36 10.01%,#9bd93c 10.14%,#8ed645 10.26%,#6bcd5a 10.51%,#35b778 10.88%,#29af80 11.01%,#21a685 11.13%,#1f988b 11.38%,#25848e 11.88%,#2f6c8e 13%,#39578c 14.74%,#3d4e8a 16.36%,#3e4b8a 21.83%,#3d4e8a 27.05%,#39558c 27.67%,#3a538b 28.05%,#3d4c8a 28.42%,#3d4d8a 29.29%,#3c508b 29.79%,#3d4c8a 30.78%,#3c4f8a 32.65%,#3a538b 33.15%,#3d4d8a 34.02%,#3b518b 35.51%,#375a8d 35.88%,#34618d 36.13%,#34608d 36.38%,#3a538b 36.75%,#3b518b 37.75%,#3a548b 39.49%,#3a538b 42.35%,#3b518b 44.71%,#3b518b 46.83%,#3f4889 48.45%,#46327f 54.79%,#47307d 55.66%,#443983 56.41%,#453681 56.65%,#472a7a 57.15%,#482374 58.15%,#481d6f 60.01%,#481769 61.75%,#48196b 62.25%,#482172 62.75%,#482072 63%,#471265 63.5%,#460a5d 65.61%,#470e61 65.86%,#481668 66.23%,#471265 67.35%,#481669 67.85%,#481c6e 68.1%,#481c6e 69.09%,#482072 69.34%,#481e70 70.21%,#482071 71.58%,#481e70 72.7%,#481f71 73.45%,#482072 74.69%,#482273 75.81%,#482878 78.42%,#453681 79.04%,#443b83 79.29%,#472e7c 79.79%,#472d7b 80.41%,#463380 82.28%,#472d7c 82.52%,#463480 83.02%,#472e7c 84.02%,#46327f 85.63%,#453681 86.26%,#453681 88%,#433c84 88.62%,#3f4989 89.12%,#3e4b89 89.37%,#433f85 89.99%,#414287 90.73%,#3c4f8a 91.6%,#33628d 92.35%,#31688e 92.85%,#26818e 93.72%,#1f978b 94.22%,#1f9e89 94.34%,#22a785 94.47%,#2ab07f 94.59%,#3aba76 94.71%,#53c568 94.84%,#7cd250 95.09%,#8cd645 95.21%,#99d93d 95.34%,#a0da39 95.46%,#a1da38 95.58%,#9dd93b 95.71%,#93d741 95.83%,#85d44a 95.96%,#4dc36b 96.33%,#3cbb75 96.46%,#2eb37d 96.58%,#24aa83 96.7%,#1fa287 96.83%,#1f948c 97.08%,#26818e 97.57%,#31688e 98.69%,#39568c 99.94%)}
.r21{background:linear-gradient(90deg,#482777 0.06%,#472c7b 0.68%,#46317e 1.06%,#472d7c 1.43%,#46327f 2.18%,#443b84 2.55%,#414487 2.8%,#404588 3.17%,#423f85 3.79%,#424186 4.66%,#3a548c 6.03%,#2b748e 7.28%,#20918c 8.02%,#1f9e89 8.27%,#21a685 8.4%,#29af80 8.52%,#38b977 8.64%,#4fc46a 8.77%,#6dce59 8.89%,#b1dd2e 9.14%,#d2e21b 9.27%,#ede51b 9.39%,#fde725 9.51%,#fde725 10.14%,#f5e61f 10.26%,#dee318 10.39%,#c3e023 10.51%,#84d44b 10.76%,#65cb5e 10.88%,#4ac26d 11.01%,#36b878 11.13%,#28ae80 11.26%,#21a685 11.38%,#1f988b 11.63%,#25858e 12.13%,#2f6b8e 13.37%,#3a538b 15.11%,#3f4989 16.85%,#3f4788 21.7%,#3e4989 27.05%,#3b518b 27.67%,#3c4f8a 28.05%,#3f4889 28.42%,#3f4989 29.29%,#3e4c8a 29.79%,#3f4788 30.78%,#3e4b89 32.65%,#3c4f8b 33.15%,#3f4989 34.02%,#3d4d8a 35.51%,#39568c 35.88%,#365d8d 36.13%,#365c8d 36.38%,#3c4f8b 36.75%,#3d4d8a 37.75%,#3c508b 39.49%,#3c4f8b 42.35%,#3d4d8a 44.47%,#3b528b 46.08%,#3e4a89 47.33%,#414487 48.57%,#472e7c 54.66%,#482a79 55.53%,#47307d 56.03%,#463480 56.41%,#46317e 56.65%,#482575 57.15%,#481d6f 58.15%,#481769 60.01%,#471163 61.75%,#471265 62.25%,#481b6d 62.75%,#481a6c 63%,#460c5f 63.5%,#450356 65.61%,#46075a 65.86%,#470f62 66.23%,#470c5f 66.98%,#460b5f 67.35%,#471063 67.85%,#481668 68.1%,#481668 69.09%,#481a6c 69.34%,#48186a 70.21%,#481a6c 71.58%,#48196b 72.2%,#48196b 73.57%,#481c6e 75.81%,#482273 78.42%,#46307e 79.04%,#453581 79.29%,#482978 79.79%,#482777 80.41%,#472e7c 82.28%,#482878 82.52%,#472e7c 83.02%,#482878 84.02%,#472d7b 85.63%,#46317e 86.26%,#46317e 88%,#453882 88.62%,#404588 89.12%,#404788 89.37%,#443b84 89.99%,#424086 90.73%,#3c4e8a 91.6%,#33638d 92.35%,#2f6a8e 92.85%,#26838e 93.59%,#1f958b 93.97%,#1e9d89 94.09%,#21a685 94.22%,#2ab07f 94.34%,#3bbb75 94.47%,#55c667 94.59%,#75d054 94.71%,#a0da39 94.84%,#c2df23 94.96%,#dfe318 95.09%,#f5e61f 95.21%,#fde725 95.34%,#fde725 95.83%,#efe51c 95.96%,#d8e219 96.08%,#bade28 96.21%,#7ad251 96.46%,#5dc963 96.58%,#44bf70 96.7%,#31b57b 96.83%,#25ac82 96.95%,#20a387 97.08%,#1f958b 97.33%,#26838e 97.82%,#31678e 99.07%,#38588c 99.94%)}
.r22{background:linear-gradient(90deg,#472f7d 0.06%,#463480 0.68%,#443982 1.06%,#453581 1.43%,#433d84 2.3%,#3d4c8a 2.8%,#3c4f8a 3.17%,#3e4a89 3.79%,#3c4e8a 4.66%,#32648e 6.03%,#26818e 7.15%,#1f9a8a 7.77%,#22a785 8.02%,#28ae80 8.15%,#33b67a 8.27%,#43bf71 8.4%,#5bc864 8.52%,#79d151 8.64%,#9fda3a 8.77%,#c8e020 8.89%,#f1e51d 9.02%,#fde725 9.14%,#fde725 10.63%,#ede51b 10.76%,#c8e020 10.88%,#a3da37 11.01%,#81d34d 11.13%,#65cc5e 11.26%,#4fc46a 11.38%,#3fbc73 11.5%,#33b67a 11.63%,#25ab82 11.88%,#1f9f88 12.25%,#24878e 13.25%,#31678e 14.99%,#38588c 16.36%,#3c508b 18.35%,#3c4f8b 26.55%,#3b518b 27.18%,#38578c 27.67%,#39558c 28.05%,#3c4f8a 28.42%,#3c508b 29.29%,#3b528b 29.79%,#3c4e8a 30.78%,#3b528b 32.65%,#39568c 33.15%,#3c508b 34.14%,#3a538b 35.51%,#365d8d 35.88%,#33638d 36.13%,#33628d 36.38%,#39568c 36.75%,#3a548c 37.75%,#38578c 39.61%,#38578c 42.35%,#38578c 44.34%,#355e8d 45.71%,#39558c 46.95%,#3d4e8a 48.2%,#463480 54.79%,#46317e 55.66%,#443a83 56.41%,#453882 56.65%,#472c7a 57.15%,#482475 58.15%,#481e70 60.01%,#48186a 61.75%,#481a6c 62.25%,#482273 62.75%,#482172 63%,#481366 63.5%,#460b5e 65.61%,#470f62 65.86%,#481669 66.23%,#481366 67.35%,#48176a 67.85%,#481d6f 68.1%,#481d6f 69.09%,#482172 69.34%,#481f71 70.21%,#482172 71.58%,#481f71 72.7%,#482071 73.45%,#482172 74.69%,#482374 75.81%,#482878 78.42%,#453781 79.04%,#443c84 79.29%,#472f7d 79.79%,#472e7c 80.41%,#463480 82.28%,#472e7c 82.52%,#453580 83.02%,#47307d 84.02%,#453580 85.63%,#443983 86.26%,#443983 88%,#433e85 88.5%,#3b508b 89.24%,#3c508b 89.49%,#3f4889 89.86%,#3e4a89 90.36%,#365b8d 91.48%,#2b768e 92.48%,#287c8e 92.85%,#20928c 93.47%,#1f9e89 93.72%,#21a585 93.84%,#27ad81 93.97%,#34b679 94.09%,#47c06f 94.22%,#61ca60 94.34%,#83d44b 94.47%,#acdc31 94.59%,#d8e219 94.71%,#fde725 94.84%,#fde725 96.33%,#e7e419 96.46%,#c1df24 96.58%,#9cd93b 96.7%,#7cd250 96.83%,#61ca60 96.95%,#4bc26c 97.08%,#3bbb75 97.2%,#30b47c 97.33%,#23a983 97.57%,#1e9d89 97.95%,#277e8e 99.19%,#2d6f8e 99.94%)}
.r23{background:linear-gradient(90deg,#47307d 0.06%,#453580 0.68%,#443a83 1.06%,#453782 1.43%,#423f85 2.3%,#3b518b 2.92%,#3a548b 3.3%,#3a538b 3.92%,#355d8d 4.79%,#29798e 6.16%,#1f978b 7.15%,#20a387 7.4%,#29af7f 7.65%,#3ebc74 7.9%,#4dc36b 8.02%,#60ca61 8.15%,#76d053 8.27%,#91d742 8.4%,#b2dd2d 8.52%,#d8e219 8.64%,#fde725 8.77%,#fde725 11.13%,#ebe51a 11.26%,#d2e21b 11.38%,#bbde27 11.5%,#97d83f 11.75%,#7cd24f 12%,#5fca61 12.38%,#39ba76 13%,#26ac81 13.5%,#1fa187 13.87%,#21908d 14.49%,#2b758e 15.73%,#33638d 17.1%,#38588c 19.22%,#3c508b 24.94%,#3b518b 27.18%,#38578c 27.67%,#3a548c 28.05%,#3d4e8a 28.42%,#3c4f8a 29.29%,#3b518b 29.79%,#3d4d8a 30.78%,#3c508b 32.65%,#3a548c 33.27%,#3c4f8b 34.02%,#3b528b 35.51%,#365b8d 35.88%,#34618d 36.13%,#34618d 36.38%,#3a548c 36.75%,#3a538b 37.75%,#38598c 40.24%,#38588c 42.72%,#375b8d 44.09%,#31678e 45.34%,#33638d 46.21%,#39578c 47.82%,#453580 54.54%,#472f7d 55.53%,#453580 56.03%,#443982 56.41%,#453681 56.65%,#482a79 57.15%,#482273 58.15%,#481c6e 60.01%,#481568 61.75%,#481769 62.25%,#481f70 62.75%,#481f70 63%,#471163 63.5%,#46085b 65.61%,#460c5f 65.86%,#481466 66.23%,#471063 67.35%,#481567 67.85%,#481a6c 68.1%,#481a6c 69.09%,#481e70 69.34%,#481c6e 70.21%,#481e70 71.58%,#481c6e 72.7%,#481d6f 73.45%,#481f70 74.69%,#482071 75.81%,#482676 78.42%,#463480 79.04%,#443983 79.29%,#472d7b 79.79%,#472b7a 80.41%,#46327e 82.28%,#472c7b 82.52%,#46337f 83.02%,#472e7c 84.02%,#453580 85.63%,#443a83 86.26%,#433c84 88%,#414286 88.5%,#38578c 89.24%,#38588c 89.49%,#3a538b 89.86%,#38578c 90.36%,#2e6d8e 91.48%,#238a8d 92.48%,#20928c 92.85%,#1fa287 93.22%,#28ae80 93.47%,#31b57b 93.59%,#3dbc74 93.72%,#4dc36b 93.84%,#62ca60 93.97%,#7bd250 94.09%,#9ad93d 94.22%,#bedf25 94.34%,#e6e419 94.47%,#fde725 94.59%,#fde725 96.83%,#e8e419 96.95%,#cee11d 97.08%,#b8de2a 97.2%,#a4db36 97.33%,#85d44a 97.57%,#64cb5e 97.95%,#43be71 98.45%,#2bb07e 98.94%,#21a685 99.32%,#1f978b 99.81%,#20938c 99.94%)}
.r24{background:linear-gradient(90deg,#443a83 0.06%,#423f85 0.68%,#414487 1.06%,#414286 1.55%,#3f4889 2.3%,#375a8c 2.92%,#365b8d 3.3%,#375b8d 3.92%,#33638d 4.79%,#287c8e 6.03%,#1f9a8a 7.03%,#20a586 7.28%,#2bb17e 7.52%,#41bd72 7.77%,#60ca61 8.02%,#8cd646 8.27%,#a8db34 8.4%,#c8e020 8.52%,#ebe51a 8.64%,#fde725 8.77%,#fde725 11.5%,#fbe723 11.63%,#eee51b 11.75%,#e3e418 11.88%,#cfe11d 12.13%,#97d83e 12.87%,#59c765 13.74%,#3aba76 14.24%,#2ab07f 14.61%,#20a586 15.11%,#1f968b 15.86%,#25838e 17.23%,#2c738e 19.71%,#33628d 26.55%,#33638d 27.3%,#31678e 27.67%,#32648e 28.05%,#355d8d 28.42%,#365d8d 29.29%,#355e8d 29.79%,#37598c 30.78%,#365b8d 32.65%,#345f8d 33.27%,#365b8d 34.14%,#355e8d 35.51%,#32668e 35.88%,#2f6b8e 36.13%,#2f6b8e 36.38%,#34608d 36.75%,#34608d 37.87%,#30698e 40.49%,#2f6c8e 43.47%,#2a768e 44.34%,#26838e 45.21%,#27808e 46.08%,#2e6f8e 48.57%,#38578c 51.31%,#433e85 55.53%,#414387 56.03%,#404688 56.41%,#414387 56.65%,#453882 57.15%,#472f7d 58.27%,#482878 60.01%,#482273 61.88%,#482575 62.38%,#472b7a 62.87%,#482777 63.12%,#481d6f 63.5%,#481668 65.61%,#48196b 65.86%,#482071 66.23%,#481d6f 67.35%,#482172 67.85%,#482777 68.22%,#482676 69.09%,#482a79 69.34%,#482978 70.34%,#482a79 71.58%,#482878 72.7%,#482979 73.45%,#472c7a 75.81%,#46317e 78.42%,#414387 79.29%,#453681 79.91%,#443b83 81.9%,#433c84 82.28%,#453781 82.52%,#433e85 83.02%,#443983 84.02%,#423f85 85.63%,#414487 86.26%,#404688 88%,#3e4b89 88.5%,#355f8d 89.24%,#365d8d 89.61%,#375a8c 89.99%,#32668e 90.86%,#2b768e 91.6%,#20918c 92.48%,#1f9a8a 92.85%,#20a586 93.1%,#2ab07f 93.35%,#3fbd73 93.59%,#4ec36b 93.72%,#60ca60 93.84%,#76d153 93.97%,#91d743 94.09%,#b0dd2e 94.22%,#d3e21b 94.34%,#f7e620 94.47%,#fde725 94.59%,#fde725 97.2%,#f7e620 97.33%,#ebe51a 97.45%,#dfe318 97.57%,#cbe11e 97.82%,#76d054 98.94%,#3cbb75 99.81%,#36b878 99.94%)}
.r25{background:linear-gradient(90deg,#463480 0.06%,#443882 0.68%,#433d85 1.06%,#443b83 1.55%,#424186 2.3%,#3c508b 2.8%,#3b528b 3.17%,#3d4e8a 3.92%,#3a538b 4.79%,#30698e 6.03%,#238a8d 7.15%,#1f9f88 7.65%,#25ab82 7.9%,#2cb17e 8.02%,#36b878 8.15%,#44bf71 8.27%,#55c667 8.4%,#6cce5a 8.52%,#88d548 8.64%,#a9dc33 8.77%,#cde11d 8.89%,#f0e51c 9.02%,#fde725 9.14%,#fde725 10.88%,#e8e419 11.01%,#d1e11c 11.13%,#aadc33 11.38%,#8dd645 11.63%,#79d152 11.88%,#5ec962 12.38%,#39ba76 13.25%,#24aa83 13.99%,#1e9d89 14.61%,#238a8d 15.98%,#27808e 17.72%,#2a788e 21.21%,#2d718e 27.18%,#2b758e 27.67%,#2d6f8e 28.17%,#306a8e 28.79%,#2f6a8e 29.79%,#33638d 31.03%,#33628d 32.65%,#32658e 33.27%,#33628d 34.02%,#31678e 35.63%,#2c728e 36.13%,#2c728e 36.38%,#30688e 36.75%,#2e6d8e 38%,#287c8e 40.36%,#26818e 42.23%,#26818e 43.35%,#238b8d 44.22%,#1f978b 45.09%,#20948c 45.83%,#25848e 47.45%,#2c738e 48.69%,#375a8c 51.06%,#433c84 55.53%,#424086 56.03%,#414487 56.41%,#424186 56.65%,#453580 57.15%,#472c7b 58.27%,#482576 60.01%,#481e70 61.88%,#482172 62.38%,#482777 62.87%,#482374 63.12%,#481a6c 63.5%,#471265 65.61%,#481568 65.86%,#481c6e 66.23%,#48196b 67.35%,#481d6f 67.85%,#482374 68.22%,#482273 69.09%,#482677 69.34%,#482576 70.34%,#482676 71.58%,#482475 72.7%,#482576 73.45%,#482878 75.81%,#472e7c 78.42%,#443b84 79.04%,#424086 79.29%,#46337f 79.91%,#453681 81.28%,#443983 82.28%,#463380 82.52%,#443a83 83.02%,#463480 84.02%,#443983 85.63%,#433d85 86.26%,#433e85 88%,#404588 88.62%,#3b528b 89.12%,#3a548c 89.37%,#3e4c8a 89.99%,#3b528b 90.73%,#33638d 91.6%,#287d8e 92.48%,#25848e 92.85%,#1e9d89 93.47%,#23a983 93.72%,#2ab07f 93.84%,#35b779 93.97%,#44bf70 94.09%,#58c765 94.22%,#71cf57 94.34%,#8fd744 94.47%,#b2dd2d 94.59%,#d8e219 94.71%,#fde725 94.84%,#fde725 96.46%,#f7e620 96.58%,#e0e318 96.7%,#cae01f 96.83%,#a4db36 97.08%,#88d549 97.33%,#6cce59 97.7%,#48c16e 98.45%,#2db27d 99.19%,#20a486 99.81%,#1fa287 99.94%)}
.r26{background:linear-gradient(90deg,#453580 0.06%,#443983 0.68%,#433e85 1.06%,#443b83 1.43%,#424186 2.3%,#3c508b 2.8%,#3b528b 3.17%,#3d4c8a 3.79%,#3c4f8a 4.66%,#33618d 5.91%,#277e8e 7.03%,#1f9a8a 7.77%,#20a486 8.02%,#29af80 8.27%,#31b57b 8.4%,#3dbc74 8.52%,#4dc36b 8.64%,#61ca60 8.77%,#92d742 9.02%,#c5e021 9.27%,#dae319 9.39%,#eae51a 9.51%,#f5e61f 9.64%,#fbe723 9.76%,#fce724 9.89%,#f9e722 10.01%,#f2e61d 10.14%,#e7e419 10.26%,#d9e219 10.39%,#c8e020 10.51%,#89d548 10.88%,#62ca60 11.13%,#45c070 11.38%,#33b67a 11.63%,#25ab82 12%,#1f9f88 12.5%,#25858e 13.87%,#2c728e 15.24%,#2f6b8e 16.73%,#2d708e 21.83%,#2a788e 26.18%,#277e8e 27.3%,#26828e 27.8%,#287c8e 28.54%,#277f8e 29.79%,#297a8e 31.41%,#29798e 32.52%,#277e8e 33.27%,#277e8e 34.02%,#23898d 35.63%,#20948c 36.13%,#20938c 36.5%,#218e8d 36.75%,#1fa187 38.74%,#2ab07f 40.73%,#2cb27d 41.98%,#23a884 43.22%,#22a784 44.59%,#1fa088 45.21%,#228b8d 46.21%,#2d6f8e 48.2%,#3c508b 52.18%,#443b83 55.53%,#423f85 56.03%,#414387 56.41%,#424086 56.65%,#463480 57.15%,#472c7b 58.15%,#482576 60.01%,#481f71 61.75%,#482172 62.25%,#482878 62.75%,#482878 63%,#481b6d 63.5%,#471365 65.61%,#481669 65.86%,#481d6f 66.23%,#481a6c 67.35%,#481e70 67.85%,#482475 68.22%,#482474 69.09%,#482777 69.34%,#482676 70.34%,#482777 71.58%,#482576 72.7%,#482677 73.45%,#482979 75.81%,#472f7d 78.42%,#433c84 79.04%,#424186 79.29%,#463480 79.91%,#453782 81.28%,#443a83 82.28%,#453580 82.52%,#443b84 83.02%,#453581 84.02%,#443a83 85.63%,#433e85 86.26%,#433e85 88%,#404588 88.62%,#3b518b 89.12%,#3a538b 89.37%,#3f4989 89.99%,#3c4f8a 90.73%,#355e8d 91.6%,#2a768e 92.48%,#26818e 92.97%,#1e9c8a 93.72%,#22a785 93.97%,#27ad81 94.09%,#2fb47c 94.22%,#3cbb75 94.34%,#4dc36c 94.47%,#62ca60 94.59%,#7bd250 94.71%,#9dd93b 94.84%,#b7de2a 94.96%,#cde11e 95.09%,#dee318 95.21%,#ebe51a 95.34%,#f2e61d 95.46%,#f5e61f 95.58%,#f2e61d 95.71%,#ebe51a 95.83%,#e0e318 95.96%,#d0e11c 96.08%,#bddf26 96.21%,#7dd24f 96.58%,#59c864 96.83%,#40bd73 97.08%,#2fb47c 97.33%,#23a984 97.7%,#1e9d89 98.2%,#277f8e 99.69%,#297a8e 99.94%)}
.r27{background:linear-gradient(90deg,#472b7a 0.06%,#472f7d 0.68%,#463480 1.06%,#46317e 1.43%,#453681 2.18%,#423f85 2.55%,#3f4788 2.8%,#3f4989 3.17%,#414387 3.79%,#404688 4.66%,#38588c 5.91%,#2a788e 7.15%,#1e9c8a 8.15%,#20a486 8.4%,#29af7f 8.64%,#3dbc74 8.89%,#67cc5d 9.27%,#7dd24f 9.51%,#84d44b 9.64%,#88d548 9.76%,#88d548 9.89%,#7fd34e 10.14%,#70cf57 10.39%,#42be72 10.88%,#2db27d 11.13%,#22a884 11.38%,#1f9a8a 11.75%,#297b8e 13%,#34618d 14.61%,#39568c 15.98%,#3a538b 18.1%,#34618d 25.68%,#2f6a8e 27.18%,#2c728e 27.67%,#2d708e 28.17%,#2d708e 28.79%,#2a788e 29.79%,#297b8e 31.28%,#27808e 32.4%,#228c8d 33.27%,#20918c 34.02%,#1fa287 35.14%,#26ac81 35.76%,#31b57b 36.13%,#34b779 36.38%,#2eb37d 36.75%,#42be71 38.12%,#5cc863 39.37%,#69cd5b 40.36%,#69cd5c 41.11%,#5ec962 41.85%,#55c667 42.23%,#43be71 42.72%,#36b878 43.35%,#2cb17e 44.09%,#20a486 44.59%,#20948c 45.09%,#287b8e 45.83%,#2e6f8e 46.58%,#34618d 48.32%,#433e85 53.3%,#47307d 55.53%,#453580 56.03%,#443982 56.41%,#453581 56.65%,#482979 57.15%,#482172 58.15%,#481a6c 60.01%,#481466 61.75%,#481568 62.25%,#481e6f 62.75%,#481d6f 63%,#470f62 63.5%,#450659 65.61%,#460a5d 65.86%,#471265 66.23%,#470e61 67.35%,#471365 67.85%,#48196b 68.1%,#48196b 69.09%,#481d6e 69.34%,#481b6d 70.21%,#481c6e 71.58%,#481b6d 72.57%,#481c6d 73.45%,#481d6f 74.69%,#481e70 75.81%,#482475 78.42%,#46337f 79.04%,#453882 79.29%,#472b7a 79.79%,#482a79 80.41%,#46317e 82.28%,#472b7a 82.52%,#46317e 83.02%,#472b7a 84.02%,#46307e 85.63%,#463480 86.26%,#463580 88%,#433c84 88.62%,#3f4989 89.12%,#3e4b89 89.37%,#424086 89.99%,#404588 90.73%,#39558c 91.6%,#2f6b8e 92.35%,#2a778e 92.97%,#1f988b 93.97%,#22a785 94.34%,#27ad81 94.47%,#2fb37c 94.59%,#3aba76 94.71%,#4ec36b 94.84%,#68cc5c 95.09%,#7ad251 95.34%,#7ed34e 95.46%,#7fd34e 95.58%,#7dd24f 95.71%,#6fce58 95.96%,#42be71 96.46%,#2fb37c 96.7%,#23a983 96.95%,#1e9c8a 97.33%,#287d8e 98.45%,#33638d 99.81%,#34618d 99.94%)}
.r28{background:linear-gradient(90deg,#472f7d 0.06%,#46337f 0.68%,#453882 1.06%,#453580 1.43%,#433c84 2.3%,#3e4b8a 2.8%,#3d4d8a 3.17%,#404788 3.79%,#3f4989 4.66%,#365c8d 6.03%,#287b8e 7.28%,#1e9b8a 8.27%,#21a685 8.64%,#29af7f 8.89%,#42be71 9.39%,#4bc26d 9.64%,#4ac26d 10.01%,#3dbb74 10.51%,#26ad81 11.01%,#1fa088 11.38%,#25848e 12.38%,#2e6e8e 13.5%,#365d8d 14.99%,#39558c 16.73%,#39568c 22.08%,#365c8d 26.68%,#34618d 27.3%,#32668e 27.67%,#32648e 28.05%,#34608d 28.42%,#32648e 29.29%,#30688e 29.79%,#2f6b8e 30.91%,#2a778e 32.52%,#25838e 33.27%,#23888e 34.02%,#1f9e89 35.14%,#24aa83 35.63%,#38b977 36.13%,#3bba76 36.38%,#31b57b 36.75%,#39ba76 37.75%,#4ac26d 38.5%,#66cc5d 39.61%,#71cf57 40.36%,#6ece58 40.98%,#62ca5f 41.6%,#41be72 42.72%,#33b67a 43.72%,#25ab82 44.22%,#1e9c89 44.59%,#287e8e 45.46%,#2d718e 46.08%,#33628d 48.45%,#423f85 53.79%,#463480 55.53%,#443983 56.03%,#433d84 56.41%,#443a83 56.65%,#472d7c 57.15%,#482576 58.15%,#481f70 60.01%,#48186b 61.75%,#481a6c 62.25%,#482273 62.75%,#482173 63%,#481466 63.5%,#460b5e 65.61%,#470f62 65.86%,#481669 66.23%,#481366 67.35%,#48176a 67.85%,#481d6f 68.1%,#481d6f 69.09%,#482172 69.34%,#481f70 70.21%,#482172 71.58%,#481f70 72.7%,#482071 73.45%,#482172 74.69%,#482374 75.81%,#482978 78.42%,#453781 79.04%,#433c84 79.29%,#47307d 79.79%,#472e7c 80.41%,#453580 82.28%,#472f7d 82.52%,#453581 83.02%,#47307d 84.02%,#463480 85.63%,#443982 86.26%,#443982 88%,#424086 88.62%,#3d4c8a 89.12%,#3c4e8a 89.37%,#414387 89.99%,#3f4889 90.73%,#39568c 91.6%,#2f6b8e 92.35%,#2b758e 92.97%,#1f9a8a 94.22%,#21a685 94.59%,#25ab82 94.71%,#2fb37c 94.84%,#3fbd73 95.21%,#44bf70 95.46%,#40bd73 95.83%,#29af80 96.46%,#20a386 96.83%,#1f948c 97.33%,#2d718e 98.82%,#355f8d 99.94%)}
.r29{background:linear-gradient(90deg,#482979 0.06%,#472e7c 0.68%,#46337f 1.06%,#472f7d 1.43%,#463480 2.18%,#433d85 2.55%,#404688 2.8%,#3f4889 3.17%,#424186 3.79%,#414387 4.66%,#39558c 6.03%,#2c738e 7.28%,#21908c 8.27%,#1fa188 8.89%,#26ad81 9.39%,#29af7f 9.89%,#24a983 10.63%,#1e9c89 11.13%,#277e8e 12.25%,#30698e 13.37%,#38578c 14.99%,#3c508b 16.85%,#3b518b 22.95%,#3a548c 27.05%,#365c8d 27.67%,#37598c 28.05%,#3a548b 28.42%,#39558c 29.29%,#38588c 29.79%,#39568c 30.78%,#355e8d 32.52%,#31678e 33.27%,#31678e 33.89%,#2d718e 34.64%,#24868e 35.51%,#1f9e89 36.13%,#1fa088 36.38%,#1f998a 36.88%,#1f9f88 37.75%,#24aa83 38.37%,#3ebc74 39.24%,#5ac864 40.11%,#62ca5f 40.61%,#61ca60 41.11%,#53c568 41.85%,#44bf70 42.6%,#3bbb75 43.35%,#2bb07e 43.84%,#20a387 44.22%,#20928c 44.59%,#287c8e 45.21%,#2f6c8e 45.96%,#365c8d 48.2%,#433c84 53.3%,#472e7c 55.53%,#46337f 56.03%,#453781 56.41%,#463480 56.65%,#482777 57.15%,#481f71 58.15%,#48186b 60.01%,#471264 61.75%,#481366 62.25%,#481c6e 62.75%,#481b6d 63%,#470d60 63.5%,#450457 65.61%,#46075b 65.86%,#471062 66.23%,#470d60 66.98%,#470c5f 67.35%,#471163 67.85%,#481669 68.1%,#481669 69.09%,#481b6d 69.34%,#48196b 70.21%,#481a6c 71.58%,#48196b 72.2%,#48196b 73.57%,#481d6e 75.81%,#482374 78.42%,#46317e 79.04%,#453681 79.29%,#482a79 79.79%,#482878 80.41%,#472f7d 82.28%,#482979 82.52%,#47307d 83.02%,#482a79 84.02%,#472f7d 85.63%,#46337f 86.26%,#46337f 88%,#443a83 88.62%,#3f4788 89.12%,#3f4989 89.37%,#433d85 89.99%,#414286 90.73%,#3c4f8a 91.6%,#33638d 92.35%,#2e6d8e 92.97%,#20948c 94.47%,#1e9c89 94.71%,#20a387 94.84%,#25ab82 95.34%,#23a884 95.96%,#1f9a8a 96.7%,#2b758e 98.2%,#34618d 99.32%,#38588c 99.94%)}
.r30{background:linear-gradient(90deg,#472f7d 0.06%,#463480 0.68%,#443882 1.06%,#453580 1.43%,#433c84 2.3%,#3e4b89 2.8%,#3d4d8a 3.17%,#404688 3.92%,#3f4889 4.79%,#37598c 6.16%,#2c728e 7.28%,#228d8d 8.27%,#1f9f88 9.02%,#22a884 9.51%,#22a785 10.51%,#1e9d89 11.01%,#27808e 12.13%,#306a8e 13.37%,#375a8c 15.11%,#39558c 17.35%,#37598c 27.05%,#34608d 27.67%,#355e8d 28.05%,#38588c 28.42%,#37598c 29.29%,#365b8d 29.79%,#38588c 30.78%,#365c8d 32.65%,#34618d 33.27%,#355e8d 34.02%,#32658e 34.76%,#2c738e 35.39%,#26828e 35.76%,#20948c 36.13%,#1f988b 36.38%,#1f958c 36.88%,#1e9d89 37.87%,#22a884 38.37%,#31b57b 38.87%,#5ec962 39.86%,#70cf57 40.36%,#78d152 40.86%,#74d054 41.48%,#60ca60 42.85%,#53c568 43.22%,#35b779 43.72%,#26ac82 43.97%,#1fa088 44.22%,#238a8d 44.71%,#2a778e 45.34%,#30698e 46.21%,#375b8d 48.57%,#443a83 54.54%,#463380 55.53%,#443982 56.03%,#433c84 56.41%,#443983 56.65%,#472d7c 57.15%,#482576 58.15%,#481f70 60.01%,#48186b 61.75%,#481a6c 62.25%,#482273 62.75%,#482173 63%,#481466 63.5%,#460b5e 65.61%,#470f61 65.86%,#481669 66.23%,#471365 67.35%,#481769 67.85%,#481d6e 68.1%,#481d6e 69.09%,#482172 69.34%,#481f70 70.21%,#482072 71.58%,#481f70 72.7%,#482071 73.45%,#482172 74.69%,#482374 75.81%,#482878 78.42%,#453781 79.04%,#433c84 79.29%,#472f7d 79.79%,#472e7c 80.41%,#453580 82.28%,#472f7d 82.52%,#453581 83.02%,#47307d 84.02%,#463580 85.63%,#443982 86.26%,#443982 88%,#424086 88.62%,#3d4c8a 89.12%,#3d4e8a 89.37%,#414287 89.99%,#404688 90.73%,#3b518b 91.6%,#32648e 92.35%,#2f6c8e 92.97%,#20938c 94.59%,#1f978b 94.71%,#1f9e89 94.84%,#20a586 95.34%,#1fa187 96.08%,#20918c 96.95%,#2f6b8e 98.69%,#365b8d 99.94%)}
.r31{background:linear-gradient(90deg,#482a79 0.06%,#472e7c 0.68%,#46337f 1.06%,#47307d 1.43%,#453681 2.3%,#404688 2.8%,#3f4788 3.17%,#424086 3.92%,#424286 4.79%,#3b528b 6.16%,#306a8e 7.28%,#25858e 8.27%,#1e9d89 9.27%,#1fa287 9.76%,#1f9f88 10.63%,#228c8d 11.38%,#2c738e 12.38%,#33638d 13.37%,#39558c 15.11%,#3b508b 17.6%,#39558c 27.05%,#365c8d 27.67%,#375a8c 28.05%,#3a548b 28.42%,#39558c 29.29%,#38578c 29.79%,#3a538b 30.78%,#39568c 32.65%,#375a8d 33.27%,#39578c 34.02%,#365d8d 34.89%,#2f6a8e 35.51%,#287c8e 35.88%,#218e8d 36.26%,#20928c 36.5%,#20948c 36.88%,#20a486 38.25%,#29af80 38.74%,#42be71 39.37%,#6cce59 40.24%,#79d151 40.73%,#7dd24f 41.36%,#78d152 42.35%,#6ece58 42.72%,#59c765 43.1%,#30b47b 43.59%,#22a784 43.84%,#1f9a8a 44.09%,#277e8e 44.71%,#2f6b8e 45.46%,#355f8d 46.33%,#3b528b 48.45%,#46337f 54.54%,#472d7c 55.53%,#46337f 56.03%,#453781 56.41%,#463480 56.65%,#482777 57.15%,#481f71 58.15%,#48196b 60.01%,#471265 61.75%,#481466 62.25%,#481c6e 62.75%,#481b6d 63%,#470d60 63.5%,#450457 65.61%,#46075b 65.86%,#471063 66.23%,#470d60 66.98%,#470c5f 67.35%,#471163 67.85%,#481769 68.1%,#481769 69.09%,#481b6d 69.34%,#48196b 70.21%,#481a6c 71.58%,#48196b 72.2%,#48196b 73.57%,#481d6e 75.81%,#482374 78.42%,#46317e 79.04%,#453681 79.29%,#482a79 79.79%,#482878 80.41%,#472f7d 82.28%,#482979 82.52%,#47307d 83.02%,#472a79 84.02%,#472f7d 85.63%,#46337f 86.26%,#46337f 88%,#443a83 88.62%,#404788 89.12%,#3f4889 89.37%,#433c84 89.99%,#423f85 90.73%,#3e4a89 91.6%,#365c8d 92.35%,#34618d 92.85%,#218e8d 94.71%,#1f968b 94.84%,#1e9d89 95.34%,#1f9a8a 96.08%,#238b8d 96.95%,#32668e 98.57%,#39558c 99.94%)}
.r32{background:linear-gradient(90deg,#472f7d 0.06%,#463480 0.68%,#443982 1.06%,#453581 1.43%,#433c84 2.3%,#3e4b89 2.8%,#3d4c8a 3.17%,#404588 3.92%,#404688 4.79%,#3a538b 6.16%,#306a8e 7.28%,#24888e 8.4%,#1e9d89 9.14%,#21a585 9.64%,#21a586 10.51%,#1f9f88 10.88%,#24888e 11.63%,#2c728e 12.5%,#32648e 13.37%,#38588c 15.24%,#39568c 18.35%,#375a8c 27.05%,#34618d 27.67%,#355f8d 28.05%,#37598c 28.42%,#375a8c 29.29%,#365c8d 29.79%,#38588c 30.78%,#365b8d 32.65%,#355f8d 33.27%,#375a8d 34.02%,#34608d 35.01%,#30688e 35.51%,#2a788e 35.88%,#238a8d 36.26%,#21908c 36.5%,#1f968b 36.88%,#21a585 37.5%,#2ab07f 38.5%,#37b878 38.99%,#51c469 39.61%,#74d055 40.36%,#84d44b 40.98%,#8fd744 41.85%,#8cd645 42.23%,#84d44b 42.48%,#75d054 42.72%,#54c568 43.1%,#30b47b 43.47%,#22a785 43.72%,#1f998a 43.97%,#25838e 44.47%,#2d6f8e 45.21%,#34608d 46.21%,#3a538b 48.32%,#453782 54.66%,#46337f 55.66%,#433c84 56.41%,#443983 56.65%,#472d7b 57.15%,#482576 58.15%,#481f70 60.01%,#48186b 61.75%,#481a6c 62.25%,#482273 62.75%,#482173 63%,#481466 63.5%,#460b5e 65.61%,#470f61 65.86%,#481669 66.23%,#471366 67.35%,#481769 67.85%,#481d6f 68.1%,#481d6f 69.09%,#482172 69.34%,#481f70 70.21%,#482072 71.58%,#481f70 72.7%,#482071 73.45%,#482172 74.69%,#482374 75.81%,#482978 78.42%,#453781 79.04%,#433c84 79.29%,#47307d 79.79%,#472e7c 80.41%,#453580 82.28%,#472f7d 82.52%,#453681 83.02%,#47307d 84.02%,#453580 85.63%,#443983 86.26%,#443982 88%,#423f85 88.62%,#3e4b8a 89.12%,#3d4d8a 89.37%,#424186 89.99%,#414387 90.73%,#3d4c8a 91.6%,#365d8d 92.35%,#34618d 92.85%,#228c8d 94.59%,#21908c 94.71%,#1f988b 94.84%,#1fa188 95.34%,#1fa088 95.96%,#1f948c 96.7%,#2f6b8e 98.32%,#355e8d 99.19%,#38588c 99.94%)}
.r33{background:linear-gradient(90deg,#482a79 0.06%,#472e7c 0.68%,#46337f 1.06%,#47307d 1.43%,#453681 2.3%,#404588 2.8%,#3f4788 3.17%,#423f85 3.92%,#423f85 4.79%,#3d4c8a 6.16%,#33638d 7.28%,#218f8d 8.77%,#1f9f88 9.27%,#22a784 9.76%,#22a784 10.51%,#1fa088 10.88%,#218e8d 11.38%,#2c728e 12.25%,#34618d 13.12%,#39558c 14.74%,#3b518b 17.1%,#39568c 27.05%,#365d8d 27.67%,#375b8d 28.05%,#3a558c 28.42%,#39568c 29.29%,#38588c 29.79%,#3a548b 30.78%,#39578c 32.65%,#375a8d 33.27%,#39568c 34.02%,#375a8d 35.14%,#33638d 35.63%,#287d8e 36.26%,#24868e 36.75%,#1f9a8a 37.25%,#24aa83 37.75%,#2db27d 38.5%,#38b977 39.24%,#4cc26c 39.86%,#70cf57 40.86%,#84d44b 41.6%,#85d44a 41.98%,#7ed34f 42.23%,#6fcf58 42.48%,#42be71 42.97%,#2db27d 43.22%,#20a486 43.47%,#1f978b 43.72%,#26818e 44.22%,#2f6c8e 44.96%,#37598c 46.08%,#3d4c8a 48.07%,#46327f 54.54%,#472d7b 55.53%,#46327f 56.03%,#453681 56.41%,#463380 56.65%,#482777 57.15%,#481f71 58.15%,#48196b 60.01%,#471265 61.75%,#481466 62.25%,#481c6e 62.75%,#481b6d 63%,#470d60 63.5%,#450457 65.61%,#46075b 65.86%,#471063 66.23%,#470d60 66.98%,#470c5f 67.35%,#471163 67.85%,#481769 68.1%,#481769 69.09%,#481b6d 69.34%,#48196b 70.21%,#481a6c 71.58%,#48196b 72.2%,#48196b 73.57%,#481d6e 75.81%,#482374 78.42%,#46317e 79.04%,#453681 79.29%,#482a79 79.79%,#482878 80.41%,#472f7d 82.28%,#482979 82.52%,#47307d 83.02%,#472a7a 84.02%,#472f7d 85.63%,#463380 86.26%,#46337f 88%,#443a83 88.62%,#404688 89.12%,#3f4888 89.37%,#443a83 89.99%,#433c84 90.73%,#404588 91.6%,#39568c 92.35%,#37598c 92.85%,#23898d 94.59%,#218e8d 94.71%,#1f978b 94.84%,#1fa287 95.34%,#20a387 95.96%,#1f998a 96.58%,#2c738e 97.82%,#355e8d 98.69%,#3b518b 99.94%)}
.r34{background:linear-gradient(90deg,#472f7d 0.06%,#463480 0.68%,#443882 1.06%,#453580 1.43%,#443b84 2.3%,#3e4a89 2.8%,#3d4c8a 3.17%,#414487 3.92%,#414387 4.79%,#3b508b 6.28%,#32648e 7.28%,#218f8d 8.64%,#1f9e89 9.02%,#27ad81 9.51%,#2db27d 10.01%,#2cb27e 10.51%,#23a983 10.88%,#1e9b8a 11.26%,#297a8e 12.13%,#31678e 12.87%,#355d8d 13.74%,#39568c 15.86%,#375a8d 27.05%,#34618d 27.67%,#355f8d 28.05%,#37598c 28.42%,#375a8c 29.29%,#365c8d 29.79%,#38588c 30.78%,#365c8d 32.77%,#355f8d 33.27%,#375a8c 34.02%,#355f8d 35.26%,#32648e 35.63%,#2a778e 36.13%,#287d8e 36.5%,#287e8e 36.75%,#1f988b 37.38%,#22a884 37.75%,#31b57b 38.25%,#38b977 38.74%,#3aba76 39.49%,#46c06f 40.11%,#72cf56 41.36%,#76d153 41.73%,#71cf56 41.98%,#65cb5e 42.23%,#3dbc74 42.72%,#2bb07e 42.97%,#20a486 43.22%,#1f988b 43.47%,#27808e 44.09%,#2f6b8e 44.96%,#375a8c 46.21%,#3c4e8a 48.32%,#453681 54.79%,#46337f 55.66%,#433c84 56.41%,#443983 56.65%,#472d7b 57.15%,#482576 58.15%,#481f70 60.01%,#48196b 61.75%,#481a6c 62.25%,#482273 62.75%,#482173 63%,#481466 63.5%,#460b5e 65.61%,#470f61 65.86%,#481669 66.23%,#471366 67.35%,#481769 67.85%,#481d6f 68.1%,#481d6f 69.09%,#482172 69.34%,#481f70 70.21%,#482072 71.58%,#481f70 72.7%,#482071 73.45%,#482172 74.69%,#482374 75.81%,#482978 78.42%,#453781 79.04%,#433c84 79.29%,#47307d 79.79%,#472e7c 80.41%,#453580 82.28%,#472f7d 82.52%,#453681 83.02%,#47307d 84.02%,#453580 85.63%,#443983 86.26%,#443983 88.12%,#433f85 88.62%,#3e4b89 89.12%,#3d4c8a 89.37%,#423f85 89.99%,#424186 90.86%,#3f4889 91.6%,#38588c 92.35%,#375b8d 92.85%,#297a8e 93.97%,#218f8d 94.59%,#1f958b 94.71%,#1f9e89 94.84%,#25ab82 95.34%,#28ae80 95.83%,#23a884 96.33%,#1e9b8a 96.83%,#297b8e 97.7%,#32658e 98.45%,#375a8c 99.19%,#3a548c 99.94%)}
.r35{background:linear-gradient(90deg,#482a79 0.06%,#472e7c 0.68%,#46337f 1.06%,#472f7d 1.43%,#453681 2.3%,#404588 2.8%,#404688 3.17%,#433e85 3.92%,#433d84 4.79%,#3e4989 6.28%,#375a8c 7.15%,#24888e 8.52%,#1f9d89 9.02%,#25ab82 9.39%,#2eb37d 9.76%,#31b57b 10.26%,#2cb27d 10.63%,#21a685 11.01%,#1f958b 11.38%,#2b768e 12.13%,#34618d 12.87%,#38588c 13.62%,#3b508b 15.61%,#39558c 27.05%,#365c8d 27.67%,#375a8c 28.05%,#3a548c 28.42%,#39558c 29.29%,#38578c 29.79%,#3a538b 30.78%,#39568c 32.65%,#375a8c 33.27%,#39558c 34.02%,#375a8c 35.39%,#34618d 35.76%,#2e6e8e 36.13%,#2d708e 36.5%,#2e6e8e 36.75%,#29798e 37.13%,#1f9a8a 37.87%,#23a984 38.25%,#2cb17e 38.62%,#2fb37c 38.99%,#2bb17e 39.86%,#34b779 40.49%,#4bc26d 41.36%,#49c16e 41.73%,#3bba75 42.1%,#23a884 42.6%,#1f9e89 42.85%,#26818e 43.59%,#2e6d8e 44.34%,#39568c 45.83%,#3f4989 48.07%,#46317e 54.66%,#472c7b 55.53%,#46327f 56.03%,#453681 56.41%,#46337f 56.65%,#482777 57.15%,#481f71 58.15%,#48196b 60.01%,#471265 61.75%,#481466 62.25%,#481c6e 62.75%,#481b6d 63%,#470d60 63.5%,#450457 65.61%,#46075b 65.86%,#471063 66.23%,#470d60 66.98%,#470c5f 67.35%,#471163 67.85%,#481769 68.1%,#481769 69.09%,#481b6d 69.34%,#48196b 70.21%,#481a6c 71.58%,#48196b 72.2%,#48196b 73.57%,#481d6e 75.81%,#482374 78.42%,#46317e 79.04%,#453681 79.29%,#482a79 79.79%,#482878 80.41%,#472f7d 82.28%,#482979 82.52%,#47307d 83.02%,#472a79 84.02%,#472f7d 85.63%,#46337f 86.26%,#46337f 88.12%,#443983 88.62%,#404588 89.12%,#404788 89.37%,#443982 89.99%,#443a83 90.86%,#424186 91.6%,#3b518b 92.35%,#3a548c 92.85%,#2e6e8e 93.72%,#218e8d 94.59%,#1e9d89 94.84%,#24aa83 95.21%,#2bb07e 95.71%,#27ad81 96.21%,#1fa088 96.7%,#228d8d 97.2%,#2f6b8e 98.07%,#375a8d 98.69%,#3b518b 99.56%,#3c4e8a 99.94%)}
.r36{background:linear-gradient(90deg,#472f7d 0.06%,#46337f 0.68%,#453882 1.06%,#463580 1.43%,#443b83 2.3%,#3e4a89 2.8%,#3e4b89 3.17%,#414287 3.92%,#424186 4.79%,#3d4d8a 6.28%,#365d8d 7.15%,#238b8d 8.52%,#1e9b8a 8.89%,#21a685 9.14%,#31b57b 9.64%,#37b877 10.14%,#35b779 10.51%,#28ae80 10.88%,#20a486 11.13%,#20938c 11.5%,#2b748e 12.25%,#34618d 13%,#38598c 13.99%,#3a548b 16.36%,#37598c 27.05%,#34608d 27.67%,#355e8d 28.05%,#38588c 28.42%,#37598c 29.29%,#365b8d 29.79%,#38578c 30.78%,#365b8d 32.77%,#355e8d 33.27%,#38598c 34.02%,#355e8d 35.51%,#31688e 35.88%,#2d708e 36.26%,#2e6e8e 36.5%,#30698e 36.75%,#2d6f8e 37.13%,#25848e 37.75%,#1f9a8a 38.25%,#24aa83 38.74%,#28ae80 39.24%,#26ac81 40.24%,#2fb37c 41.23%,#2bb17e 41.6%,#21a586 42.1%,#1f988b 42.48%,#287c8e 43.35%,#30698e 44.34%,#39568c 46.21%,#3e4b8a 48.82%,#463480 54.91%,#46327f 55.66%,#443c84 56.41%,#443982 56.65%,#472d7b 57.15%,#482576 58.15%,#481f70 60.01%,#48186b 61.75%,#481a6c 62.25%,#482273 62.75%,#482173 63%,#481466 63.5%,#460b5e 65.61%,#470f61 65.86%,#481669 66.23%,#471365 67.35%,#481769 67.85%,#481d6e 68.1%,#481d6e 69.09%,#482172 69.34%,#481f70 70.21%,#482072 71.58%,#481f70 72.7%,#482071 73.45%,#482172 74.69%,#482374 75.81%,#482878 78.42%,#453781 79.04%,#433c84 79.29%,#472f7d 79.79%,#472e7c 80.41%,#453580 82.28%,#472f7d 82.52%,#453681 83.02%,#47307d 84.02%,#463580 85.63%,#443982 86.26%,#453882 88.12%,#433e85 88.62%,#3e4a89 89.12%,#3e4b8a 89.37%,#433d85 89.99%,#433f85 90.86%,#404588 91.6%,#3a548b 92.35%,#39578c 92.85%,#2d708e 93.72%,#20918c 94.59%,#1fa188 94.84%,#27ae81 95.21%,#30b47b 95.71%,#2db27d 96.08%,#22a884 96.58%,#1f9a8a 96.95%,#297a8e 97.7%,#33628d 98.45%,#38588c 99.07%,#3b518b 99.94%)}
.r37{background:linear-gradient(90deg,#482979 0.06%,#472d7c 0.68%,#46327f 1.06%,#472f7d 1.43%,#453580 2.3%,#414487 2.8%,#404588 3.17%,#433c84 3.92%,#443b84 4.79%,#404688 6.28%,#39568c 7.15%,#25858e 8.52%,#1e9b8a 9.02%,#23a884 9.39%,#2ab07f 9.76%,#2bb17e 10.39%,#24ab82 10.76%,#1e9c89 11.13%,#297b8e 11.88%,#33638d 12.62%,#38578c 13.25%,#3c508b 14.86%,#3c508b 20.09%,#3a548b 27.05%,#375b8d 27.67%,#38598c 28.05%,#3a528b 28.42%,#3a548b 29.29%,#39568c 29.79%,#3b528b 30.78%,#39558c 32.65%,#38588c 33.27%,#3a538b 34.02%,#38588c 35.51%,#34618d 35.88%,#31688e 36.13%,#30688e 36.38%,#355f8d 36.75%,#33638d 37.25%,#2c738e 37.87%,#1f978b 38.87%,#1fa188 39.37%,#1fa187 40.36%,#1e9c89 41.23%,#218f8d 41.85%,#2c728e 42.97%,#355d8d 44.34%,#3c4e8a 46.46%,#46317e 54.54%,#472c7b 55.53%,#46327e 56.03%,#453681 56.41%,#46337f 56.65%,#482777 57.15%,#481f70 58.15%,#48186b 60.01%,#471265 61.75%,#481366 62.25%,#481c6e 62.75%,#481b6d 63%,#470d60 63.5%,#450457 65.61%,#46075b 65.86%,#471062 66.23%,#470d60 66.98%,#470c5f 67.35%,#471163 67.85%,#481669 68.1%,#481669 69.09%,#481b6d 69.34%,#48196b 70.21%,#481a6c 71.58%,#48196b 72.2%,#48196b 73.57%,#481d6e 75.81%,#482374 78.42%,#46317e 79.04%,#453681 79.29%,#482a79 79.79%,#482878 80.41%,#472f7d 82.28%,#482979 82.52%,#47307d 83.02%,#482a79 84.02%,#472f7d 85.63%,#46337f 86.26%,#46327f 88.12%,#453882 88.62%,#414487 89.12%,#404588 89.37%,#453782 89.99%,#453882 90.86%,#433e85 91.6%,#3d4d8a 92.35%,#3b508b 92.85%,#306a8e 93.72%,#228b8d 94.59%,#1e9b8a 94.84%,#22a785 95.21%,#27ad81 95.71%,#23a983 96.21%,#1e9b8a 96.7%,#287d8e 97.45%,#33628d 98.2%,#3a548b 98.82%,#3e4b89 99.94%)}
.r38{background:linear-gradient(90deg,#472f7d 0.06%,#46337f 0.68%,#453882 1.06%,#463480 1.43%,#443a83 2.3%,#3f4989 2.8%,#3e4a89 3.17%,#424186 3.92%,#424086 4.91%,#3e4a89 6.28%,#375a8c 7.15%,#228b8d 8.64%,#1f9f88 9.14%,#26ac82 9.64%,#27ad81 10.26%,#23a983 10.63%,#1e9d89 11.01%,#25838e 11.63%,#2e6d8e 12.25%,#365d8d 13%,#39558c 14.24%,#3b528b 17.23%,#38578c 27.05%,#355f8d 27.67%,#365c8d 28.05%,#39568c 28.42%,#38578c 29.29%,#37598c 29.79%,#39568c 30.78%,#38588c 32.65%,#365c8d 33.27%,#39578c 34.02%,#375b8d 35.51%,#32648e 35.88%,#306a8e 36.13%,#306a8e 36.38%,#345f8d 36.75%,#33618d 37.38%,#2f6c8e 38%,#1f958b 39.37%,#1e9d89 39.86%,#1e9b8a 40.49%,#238a8d 41.36%,#2d708e 42.48%,#34618d 43.72%,#3b528b 46.33%,#453781 54.54%,#46317e 55.53%,#453782 56.03%,#443b84 56.41%,#453882 56.65%,#472c7b 57.15%,#482575 58.15%,#481e70 60.01%,#48186a 61.75%,#481a6c 62.25%,#482273 62.75%,#482172 63%,#481366 63.5%,#460b5e 65.61%,#470e61 65.86%,#481669 66.23%,#471365 67.35%,#481769 67.85%,#481d6e 68.1%,#481d6e 69.09%,#482172 69.34%,#481f70 70.21%,#482072 71.58%,#481f70 72.7%,#482071 73.45%,#482172 74.69%,#482273 75.81%,#482878 78.42%,#453681 79.04%,#443c84 79.29%,#472f7d 79.79%,#472e7c 80.41%,#453580 82.28%,#472f7d 82.52%,#453581 83.02%,#472f7d 84.02%,#463480 85.63%,#453882 86.26%,#453882 88.12%,#433d85 88.62%,#3f4989 89.12%,#3e4a89 89.37%,#433c84 89.99%,#433d84 90.86%,#414287 91.6%,#3b518b 92.35%,#3a548b 92.85%,#2e6d8e 93.72%,#228b8d 94.59%,#20918c 94.71%,#1f9a8a 94.84%,#21a585 95.21%,#24aa83 95.71%,#20a486 96.21%,#1f978b 96.7%,#2c728e 97.7%,#365d8d 98.45%,#3a538b 99.19%,#3c4f8a 99.94%)}
.r39{background:linear-gradient(90deg,#482978 0.06%,#472d7b 0.68%,#46327e 1.06%,#472e7c 1.43%,#463480 2.3%,#414387 2.8%,#404487 3.17%,#443b84 3.92%,#443a83 4.79%,#414287 6.16%,#3a548c 7.15%,#24878e 8.64%,#1f9a8a 9.14%,#21a586 9.64%,#20a386 10.39%,#1e9c89 10.76%,#25838e 11.38%,#30688e 12.13%,#38588c 12.87%,#3b508b 13.74%,#3d4c8a 16.23%,#3b518b 27.05%,#38598c 27.67%,#39568c 28.05%,#3c508b 28.42%,#3b518b 29.29%,#3a538b 29.79%,#3c4f8b 30.78%,#3a528b 32.65%,#39568c 33.27%,#3b518b 34.02%,#3a548c 35.51%,#355e8d 35.88%,#32648e 36.13%,#32648d 36.38%,#38588c 36.75%,#38598c 37.38%,#34618d 38.12%,#228b8d 39.74%,#218f8d 40.24%,#24888e 40.73%,#31688e 41.98%,#365b8d 42.97%,#3b528b 44.84%,#453681 53.17%,#472b7a 55.53%,#46317e 56.03%,#453581 56.41%,#46327f 56.65%,#482676 57.15%,#481f70 58.15%,#48186a 60.01%,#471264 61.75%,#481366 62.25%,#481b6d 62.75%,#481b6d 63%,#470c5f 63.5%,#450457 65.61%,#46075b 65.86%,#471062 66.23%,#470d60 66.98%,#460c5f 67.35%,#471063 67.85%,#481669 68.1%,#481669 69.09%,#481b6d 69.34%,#48186b 70.21%,#481a6c 71.58%,#48196b 72.2%,#48196b 73.57%,#481c6e 75.81%,#482273 78.42%,#46317e 79.04%,#453681 79.29%,#482979 79.79%,#482878 80.41%,#472f7d 82.28%,#482978 82.52%,#472f7d 83.02%,#482a79 84.02%,#472e7c 85.63%,#46327f 86.26%,#46327e 88.12%,#453782 88.62%,#414387 89.12%,#404487 89.37%,#453681 89.99%,#453681 90.86%,#433c84 91.6%,#3e4b89 92.35%,#3c4e8a 92.85%,#30688e 93.72%,#24878e 94.59%,#1f958b 94.84%,#1f9f88 95.21%,#1fa187 95.71%,#1e9b8a 96.21%,#25848e 96.95%,#34618d 97.95%,#3b518b 98.69%,#3f4889 99.94%)}
.r40{background:linear-gradient(90deg,#482878 0.06%,#472c7b 0.68%,#46317e 1.06%,#472e7c 1.43%,#463480 2.3%,#414387 2.8%,#414487 3.17%,#443b83 3.92%,#443982 4.79%,#424186 6.16%,#3a558c 7.15%,#25858e 8.52%,#1e9d89 9.14%,#21a586 9.51%,#21a585 10.01%,#1e9d89 10.63%,#238a8d 11.13%,#30698e 12%,#38578c 12.75%,#3c508b 13.62%,#3e4b89 16.23%,#3c508b 27.05%,#38578c 27.67%,#39558c 28.05%,#3c4f8a 28.42%,#3c508b 29.29%,#3b528b 29.79%,#3c4e8a 30.78%,#3b518b 32.65%,#39558c 33.27%,#3c4f8b 34.02%,#3a538b 35.51%,#365c8d 35.88%,#33628d 36.13%,#33628d 36.38%,#39568c 36.75%,#39578c 37.38%,#34608d 38.25%,#277e8e 39.86%,#27808e 40.36%,#2b758e 40.98%,#355f8d 41.98%,#39558c 42.97%,#443a83 51.8%,#472e7c 54.91%,#472b7a 55.66%,#453580 56.41%,#46327f 56.65%,#482676 57.15%,#481e70 58.15%,#48186a 60.01%,#471164 61.75%,#481366 62.25%,#481b6d 62.75%,#481b6d 63%,#470c5f 63.5%,#450357 65.61%,#46075a 65.86%,#470f62 66.23%,#470d60 66.98%,#460c5f 67.35%,#471063 67.85%,#481669 68.1%,#481669 69.09%,#481b6d 69.34%,#48186b 70.21%,#481a6c 71.58%,#48196b 72.2%,#48196b 73.57%,#481c6e 75.81%,#482273 78.42%,#46317e 79.04%,#453681 79.29%,#482979 79.79%,#482878 80.41%,#472f7d 82.28%,#482978 82.52%,#472f7d 83.02%,#482979 84.02%,#472e7c 85.63%,#46327f 86.26%,#46317e 88.12%,#453781 88.62%,#414387 89.12%,#414487 89.37%,#453581 89.99%,#453581 90.86%,#443b84 91.6%,#3e4a89 92.35%,#3c4e8a 92.85%,#306a8e 93.72%,#218f8d 94.71%,#1f988b 94.84%,#1fa188 95.21%,#1fa187 95.71%,#1f988b 96.21%,#287b8e 97.08%,#355e8d 97.95%,#3c4f8a 98.69%,#404788 99.94%)}
.r41{background:linear-gradient(90deg,#482878 0.06%,#472c7b 0.68%,#46317e 1.06%,#472d7c 1.43%,#463380 2.3%,#414287 2.8%,#414487 3.17%,#443a83 3.92%,#453882 4.79%,#424186 6.16%,#3b528b 7.03%,#2e6e8e 7.77%,#1f958b 8.77%,#20a386 9.14%,#25ac82 9.51%,#24ab82 10.01%,#1f9f88 10.63%,#21908c 11.01%,#2f6b8e 11.88%,#375a8d 12.5%,#3c508b 13.25%,#3e4a89 15.73%,#3c4f8a 27.05%,#39568c 27.67%,#3a548b 28.05%,#3d4d8a 28.42%,#3c4e8a 29.29%,#3b518b 29.79%,#3d4d8a 30.78%,#3c508b 32.65%,#3a548b 33.27%,#3c4e8a 34.02%,#3b528b 35.51%,#375b8d 35.88%,#34618d 36.13%,#34618d 36.38%,#39568c 36.75%,#39578c 37.38%,#2e6f8e 39.74%,#2d6f8e 40.49%,#355f8d 41.73%,#3a538b 42.85%,#3c4e8a 44.96%,#453681 52.92%,#472b7a 55.53%,#46317e 56.03%,#453580 56.41%,#46327f 56.65%,#482676 57.15%,#481e70 58.15%,#48186a 60.01%,#471164 61.75%,#471365 62.25%,#481b6d 62.75%,#481b6d 63%,#470c5f 63.5%,#450357 65.61%,#46075a 65.86%,#470f62 66.23%,#470c5f 66.98%,#460c5f 67.35%,#471063 67.85%,#481669 68.1%,#481669 69.09%,#481a6d 69.34%,#48186b 70.21%,#481a6c 71.58%,#48196b 72.2%,#48196b 73.57%,#481c6e 75.81%,#482273 78.42%,#46307e 79.04%,#453681 79.29%,#482979 79.79%,#482877 80.41%,#472e7c 82.28%,#482878 82.52%,#472f7d 83.02%,#482979 84.02%,#472e7c 85.63%,#46327e 86.26%,#46317e 88.12%,#453681 88.62%,#414287 89.12%,#414387 89.37%,#453580 89.99%,#453580 90.86%,#443a83 91.6%,#3e4a89 92.35%,#3c4f8a 92.85%,#2e6e8e 93.72%,#21908c 94.59%,#1f9f88 94.84%,#22a784 95.21%,#22a884 95.58%,#1f9f88 96.08%,#218f8d 96.58%,#32648e 97.7%,#3b518b 98.45%,#3f4989 99.19%,#404688 99.94%)}
.r42{background:linear-gradient(90deg,#472e7c 0.06%,#46327e 0.68%,#453681 1.06%,#46337f 1.43%,#443982 2.3%,#3f4788 2.8%,#3f4889 3.17%,#423f85 3.92%,#433d85 4.79%,#404688 6.16%,#38578c 7.03%,#2d6f8e 7.65%,#1f958b 8.52%,#1fa088 8.77%,#29af7f 9.14%,#35b779 9.51%,#36b878 9.76%,#29af7f 10.39%,#20a486 10.76%,#1f988b 11.01%,#2b748e 11.75%,#34618d 12.38%,#39558c 13.12%,#3c4e8a 15.36%,#3b528b 27.05%,#375a8c 27.67%,#38578c 28.05%,#3b518b 28.42%,#3b528b 29.29%,#3a548c 29.79%,#3b508b 30.78%,#3a538b 32.65%,#38578c 33.27%,#3b528b 34.02%,#39568c 35.51%,#355f8d 35.88%,#32658e 36.13%,#32658e 36.38%,#375a8d 36.75%,#355d8d 37.5%,#30698e 38.99%,#33628d 41.48%,#39558c 43.1%,#3e4b89 47.7%,#463480 54.66%,#46317e 55.66%,#443a83 56.41%,#453782 56.65%,#472b7a 57.15%,#482474 58.15%,#481e6f 60.01%,#48186a 61.75%,#48196b 62.25%,#482172 62.75%,#482172 63%,#471365 63.5%,#460a5d 65.61%,#470e61 65.86%,#481668 66.23%,#471265 67.35%,#481769 67.85%,#481c6e 68.1%,#481c6e 69.09%,#482072 69.34%,#481e70 70.21%,#482071 71.58%,#481e70 72.7%,#481f71 73.45%,#482172 74.69%,#482273 75.81%,#482878 78.42%,#453681 79.04%,#443b84 79.29%,#472f7d 79.79%,#472d7c 80.41%,#463480 82.28%,#472e7c 82.52%,#463580 83.02%,#472f7d 84.02%,#46337f 85.63%,#453782 86.26%,#453681 88.12%,#443b84 88.62%,#3f4788 89.12%,#3f4889 89.37%,#443a83 89.99%,#443a83 90.86%,#423f85 91.6%,#3c4f8a 92.35%,#3a558c 92.85%,#2d718e 93.59%,#1f978b 94.47%,#1fa287 94.71%,#24ab82 94.84%,#2fb37c 95.21%,#2fb47c 95.58%,#24aa83 96.08%,#1e9c89 96.46%,#26818e 97.08%,#32648e 97.82%,#39558c 98.45%,#3d4d8a 99.19%,#3e4a89 99.94%)}
.r43{background:linear-gradient(90deg,#472c7b 0.06%,#47307d 0.68%,#463580 1.06%,#46317e 1.43%,#453781 2.3%,#404688 2.8%,#404788 3.17%,#433d85 3.92%,#443b84 4.79%,#414487 6.16%,#39568c 7.03%,#2d708e 7.65%,#20948c 8.4%,#1fa088 8.64%,#26ac82 8.89%,#39b976 9.27%,#41be72 9.51%,#43be71 9.76%,#39ba76 10.14%,#26ad81 10.63%,#1fa187 10.88%,#20948c 11.13%,#2b748e 11.75%,#33638d 12.25%,#3a548c 13%,#3d4d8a 14.61%,#3d4c8a 19.71%,#3c508b 27.05%,#38578c 27.67%,#39558c 28.05%,#3c4e8a 28.42%,#3c508b 29.29%,#3b528b 29.79%,#3d4e8a 30.78%,#3b518b 32.65%,#39558c 33.27%,#3c4f8b 34.02%,#3a548b 35.51%,#365d8d 35.88%,#32648e 36.13%,#32648e 36.38%,#375a8c 36.75%,#355f8d 37.75%,#32648e 38.87%,#365c8d 40.61%,#375a8c 41.98%,#3b518b 43.72%,#3e4a89 47.33%,#46337f 54.66%,#472e7c 55.53%,#463480 56.03%,#443882 56.41%,#453681 56.65%,#482a79 57.15%,#482273 58.15%,#481c6e 60.01%,#481668 61.75%,#48176a 62.25%,#481f71 62.75%,#481f71 63%,#471164 63.5%,#46085c 65.61%,#470c5f 65.86%,#481467 66.23%,#471163 67.35%,#481567 67.85%,#481b6d 68.1%,#481b6d 69.09%,#481f70 69.34%,#481d6f 70.21%,#481f70 71.58%,#481d6f 72.7%,#481e6f 73.45%,#481f71 74.69%,#482172 75.81%,#482677 78.42%,#463580 79.04%,#443a83 79.29%,#472d7c 79.79%,#472c7a 80.41%,#46327f 82.28%,#472c7b 82.52%,#46337f 83.02%,#472d7b 84.02%,#46317e 85.63%,#453581 86.26%,#463480 88.12%,#443a83 88.62%,#404588 89.12%,#404788 89.37%,#453882 89.99%,#453882 90.86%,#433d85 91.6%,#3c4f8a 92.48%,#3a548c 92.85%,#2c738e 93.59%,#1f978b 94.34%,#1fa287 94.59%,#23a984 94.71%,#2cb17e 94.84%,#3aba76 95.21%,#3cbb75 95.46%,#33b67a 95.83%,#21a685 96.33%,#1e9b8a 96.58%,#287d8e 97.2%,#33638d 97.82%,#3a538b 98.45%,#3e4b89 99.19%,#3f4788 99.94%)}
.r44{background:linear-gradient(90deg,#472d7c 0.06%,#46317e 0.68%,#453681 1.06%,#46327f 1.43%,#453882 2.3%,#404788 2.8%,#3f4889 3.17%,#433e85 3.92%,#433c84 4.79%,#404588 6.16%,#3a548b 6.9%,#31668e 7.4%,#20918c 8.27%,#1e9d89 8.52%,#23a983 8.77%,#39b976 9.14%,#46c06f 9.39%,#4cc26c 9.64%,#45bf70 10.01%,#30b47b 10.51%,#20a486 10.88%,#1f968b 11.13%,#2b758e 11.75%,#33638d 12.25%,#3a558c 13%,#3d4e8a 14.61%,#3d4d8a 19.84%,#3c508b 27.05%,#38578c 27.67%,#39558c 28.05%,#3c4f8a 28.42%,#3c508b 29.29%,#3b528b 29.79%,#3c4e8a 30.78%,#3b518b 32.65%,#39558c 33.27%,#3c508b 34.02%,#3a548c 35.51%,#355e8d 35.88%,#32658e 36.13%,#31668e 36.38%,#365c8d 36.75%,#34618d 38.74%,#38588c 40.36%,#38578c 42.35%,#3b518b 44.47%,#3f4989 47.82%,#463480 54.66%,#47307d 55.53%,#453581 56.03%,#443a83 56.41%,#453781 56.65%,#472b7a 57.15%,#482374 58.15%,#481d6f 60.01%,#48176a 61.75%,#48196b 62.25%,#482172 62.75%,#482072 63%,#471365 63.5%,#460a5d 65.61%,#470e61 65.86%,#481668 66.23%,#471265 67.35%,#481769 67.85%,#481c6e 68.1%,#481c6e 69.09%,#482072 69.34%,#481e70 70.21%,#482071 71.58%,#481e70 72.7%,#481f71 73.45%,#482172 74.69%,#482273 75.81%,#482878 78.42%,#453681 79.04%,#443b84 79.29%,#472f7d 79.79%,#472d7b 80.41%,#463480 82.28%,#472e7c 82.52%,#463480 83.02%,#472e7c 84.02%,#46337f 85.63%,#453681 86.26%,#453581 88.12%,#443b83 88.62%,#404688 89.12%,#3f4888 89.37%,#443982 89.99%,#443982 90.86%,#433e85 91.6%,#3c508b 92.48%,#39558c 92.85%,#2b758e 93.59%,#1f9a8a 94.34%,#21a685 94.59%,#26ad81 94.71%,#31b57b 94.84%,#3ebc74 95.09%,#44bf70 95.34%,#42be72 95.58%,#34b779 95.96%,#23a983 96.33%,#1f9e89 96.58%,#25848e 97.08%,#30688e 97.7%,#39568c 98.32%,#3d4c8a 99.07%,#3f4889 99.94%)}
.r45{background:linear-gradient(90deg,#472d7b 0.06%,#46317e 0.68%,#453681 1.06%,#46327f 1.43%,#453882 2.3%,#404688 2.8%,#3f4788 3.17%,#433e85 3.92%,#433c84 4.79%,#414487 6.16%,#3a538b 6.9%,#32658e 7.4%,#218f8d 8.27%,#1fa187 8.64%,#27ad81 8.89%,#3cbb75 9.27%,#44bf70 9.51%,#45c070 9.76%,#3bbb75 10.14%,#27ad81 10.63%,#1fa287 10.88%,#20948c 11.13%,#2b748e 11.75%,#33628d 12.25%,#3a548b 13%,#3d4d8a 14.74%,#3d4c8a 21.46%,#3c4f8a 27.05%,#39568c 27.67%,#3a548c 28.05%,#3d4d8a 28.42%,#3c4f8a 29.29%,#3b518b 29.79%,#3d4d8a 30.78%,#3b508b 32.65%,#3a558c 33.15%,#3c4f8a 34.02%,#3a538b 35.39%,#375a8c 35.76%,#32668e 36.13%,#31668e 36.38%,#365c8d 36.75%,#365d8d 38.74%,#39568c 40.24%,#3a548c 42.6%,#3c508b 44.84%,#423f85 51.18%,#46327e 54.91%,#47307d 55.66%,#443983 56.41%,#453781 56.65%,#472b7a 57.15%,#482374 58.15%,#481d6f 60.01%,#481769 61.75%,#48196b 62.25%,#482172 62.75%,#482072 63%,#471365 63.5%,#460a5d 65.61%,#470e61 65.86%,#481668 66.23%,#471265 67.35%,#481669 67.85%,#481c6e 68.1%,#481c6e 69.09%,#482072 69.34%,#481e70 70.21%,#482071 71.58%,#481e70 72.7%,#481f71 73.45%,#482172 74.69%,#482273 75.81%,#482878 78.42%,#453681 79.04%,#443b84 79.29%,#472f7c 79.79%,#472d7b 80.41%,#463480 82.28%,#472e7c 82.52%,#463480 83.02%,#472e7c 84.02%,#46327f 85.63%,#453681 86.26%,#453580 88.12%,#443a83 88.62%,#404688 89.12%,#3f4788 89.37%,#443882 89.99%,#453882 90.86%,#433e85 91.6%,#3c4f8b 92.48%,#3a548c 92.85%,#2c738e 93.59%,#1f988b 94.34%,#20a486 94.59%,#24aa83 94.71%,#2eb37d 94.84%,#3dbb74 95.21%,#3ebc73 95.46%,#35b779 95.83%,#21a785 96.33%,#1e9b8a 96.58%,#287c8e 97.2%,#33638d 97.82%,#3b528b 98.45%,#3e4a89 99.19%,#3f4788 99.94%)}
.r46{background:linear-gradient(90deg,#482777 0.06%,#472b7a 0.68%,#47307d 1.06%,#472c7b 1.43%,#46327f 2.3%,#424186 2.8%,#414287 3.17%,#453882 3.92%,#453681 4.79%,#433e85 6.16%,#3b508b 7.03%,#306a8e 7.65%,#20918c 8.52%,#20a387 8.89%,#2ab07f 9.27%,#31b57b 9.64%,#2db27d 10.01%,#22a784 10.51%,#1f988b 10.88%,#2c728e 11.63%,#365c8d 12.25%,#3d4e8a 13%,#404688 14.86%,#3f4788 22.82%,#3f4989 27.05%,#3b518b 27.67%,#3c4e8a 28.05%,#3f4788 28.42%,#3f4989 29.29%,#3e4b89 29.79%,#3f4788 30.78%,#3e4a89 32.65%,#3c4f8a 33.15%,#3f4989 34.02%,#3d4e8a 35.39%,#39558c 35.76%,#34618d 36.13%,#33628d 36.38%,#38578c 36.75%,#3b528b 39.12%,#3c508b 40.86%,#3e4c8a 43.72%,#404487 47.45%,#472e7c 54.54%,#482979 55.53%,#472f7d 56.03%,#463480 56.41%,#46317e 56.65%,#482575 57.15%,#481d6f 58.15%,#48186a 59.89%,#471265 61.01%,#471164 62.13%,#481b6d 62.87%,#481769 63.12%,#460c5f 63.5%,#450356 65.61%,#45065a 65.86%,#470f62 66.23%,#470c5f 66.98%,#460b5e 67.35%,#471063 67.85%,#481668 68.1%,#481668 69.09%,#481a6c 69.34%,#48186a 70.21%,#481a6c 71.58%,#48196b 72.2%,#48186b 73.57%,#481c6e 75.81%,#482273 78.42%,#47307d 79.04%,#453581 79.29%,#482978 79.79%,#482777 80.41%,#472e7c 82.28%,#482878 82.52%,#472e7c 83.02%,#482878 84.02%,#472c7b 85.63%,#46307e 86.26%,#472f7d 88.12%,#463580 88.62%,#424186 89.12%,#414286 89.37%,#46337f 89.99%,#46327f 90.86%,#453882 91.6%,#3f4889 92.35%,#3d4e8a 92.85%,#2f6c8e 93.59%,#20938c 94.47%,#1f9f88 94.71%,#22a784 94.84%,#2bb07f 95.21%,#2ab07f 95.58%,#21a586 96.08%,#1f978b 96.46%,#2e6f8e 97.33%,#3a548c 98.07%,#3f4889 98.69%,#424186 99.94%)}
.r47{background:linear-gradient(90deg,#482a79 0.06%,#472e7c 0.68%,#46327f 1.06%,#472f7c 1.43%,#463480 2.3%,#414387 2.8%,#404487 3.17%,#443b83 3.92%,#443882 4.79%,#424086 6.16%,#3b518b 7.03%,#2f6d8e 7.77%,#20948c 8.77%,#1fa287 9.14%,#23a983 9.51%,#22a785 10.01%,#1f9a8a 10.63%,#277f8e 11.26%,#33628d 12%,#3b528b 12.75%,#3d4c8a 13.62%,#3f4788 16.48%,#3e4b89 27.05%,#3a528b 27.67%,#3c508b 28.05%,#3f4989 28.42%,#3e4a89 29.29%,#3d4d8a 29.79%,#3f4989 30.78%,#3d4c8a 32.65%,#3b518b 33.15%,#3e4b89 34.02%,#3b508b 35.39%,#38588c 35.76%,#33648d 36.13%,#32648e 36.38%,#38588c 36.75%,#3b518b 39.99%,#3c4f8b 42.6%,#3f4888 47.2%,#46317e 54.54%,#472c7b 55.53%,#46327f 56.03%,#453681 56.41%,#463380 56.65%,#482777 57.15%,#482071 58.15%,#481a6c 60.01%,#481466 61.75%,#481568 62.25%,#481e6f 62.75%,#481d6f 63%,#470f62 63.5%,#45065a 65.61%,#460a5d 65.86%,#471265 66.23%,#470f62 67.35%,#481366 67.85%,#48196b 68.1%,#48196b 69.09%,#481d6f 69.34%,#481b6d 70.21%,#481d6f 71.58%,#481b6d 72.57%,#481c6e 73.45%,#481d6f 74.69%,#481f70 75.81%,#482575 78.42%,#46337f 79.04%,#453882 79.29%,#472c7a 79.79%,#482a79 80.41%,#46317e 82.28%,#472a7a 82.52%,#46317e 83.02%,#472b7a 84.02%,#472f7d 85.63%,#46337f 86.26%,#46327f 88.12%,#453782 88.62%,#414387 89.12%,#414487 89.37%,#453580 89.99%,#453580 90.86%,#443a83 91.6%,#3e4989 92.35%,#3d4e8a 92.85%,#31688e 93.59%,#218f8d 94.59%,#1e9d89 94.84%,#20a586 95.21%,#20a486 95.58%,#1e9b8a 96.08%,#277f8e 96.83%,#355f8d 97.7%,#3d4d8a 98.45%,#404688 99.19%,#414387 99.94%)}
.r48{background:linear-gradient(90deg,#482777 0.06%,#472b7a 0.68%,#472f7d 1.06%,#472c7a 1.43%,#46317e 2.3%,#424186 2.8%,#424286 3.17%,#453882 3.92%,#453581 4.79%,#433d84 6.16%,#3c4f8a 7.15%,#287d8e 8.52%,#1f958b 9.27%,#1f998a 9.64%,#218f8d 10.51%,#277f8e 11.01%,#34608d 11.88%,#3c508b 12.62%,#3f4989 13.5%,#414487 16.48%,#3f4788 27.05%,#3c4f8b 27.67%,#3d4d8a 28.05%,#404688 28.42%,#3f4788 29.29%,#3e4a89 29.79%,#404588 30.78%,#3f4989 32.65%,#3d4d8a 33.15%,#3f4889 34.02%,#3c4e8a 35.39%,#39558c 35.76%,#34618d 36.13%,#34618d 36.38%,#3a548c 36.75%,#3c4f8a 38.25%,#3d4d8a 42.48%,#404588 47.08%,#472e7c 54.54%,#482979 55.53%,#472f7d 56.03%,#46337f 56.41%,#46307e 56.65%,#482475 57.15%,#481d6f 58.15%,#48186a 59.89%,#471265 61.01%,#471164 62.13%,#481b6d 62.87%,#481769 63.12%,#460b5e 63.5%,#450356 65.61%,#45065a 65.86%,#470f62 66.23%,#460c5f 66.98%,#460b5e 67.35%,#471063 67.85%,#481668 68.1%,#481668 69.09%,#481a6c 69.34%,#48186a 70.21%,#481a6c 71.58%,#48196b 72.2%,#48186b 73.57%,#481c6e 75.81%,#482273 78.42%,#47307d 79.04%,#453581 79.29%,#482978 79.79%,#482777 80.41%,#472e7c 82.28%,#482777 82.52%,#472e7c 83.02%,#482878 84.02%,#472c7b 85.63%,#46307e 86.26%,#472f7d 88.12%,#463480 88.62%,#424086 89.12%,#424186 89.37%,#46327f 89.99%,#46327f 90.86%,#453781 91.6%,#404588 92.35%,#3f4889 92.85%,#2f6c8e 93.97%,#25858e 94.71%,#228d8d 94.84%,#20948c 95.21%,#20928c 95.71%,#25848e 96.33%,#38588c 97.7%,#3f4989 98.45%,#414287 99.32%,#424086 99.94%)}
.r49{background:linear-gradient(90deg,#472c7b 0.06%,#46307e 0.68%,#453580 1.06%,#46317e 1.43%,#453782 2.3%,#404688 2.8%,#404788 3.17%,#433d84 3.92%,#443b84 4.91%,#414387 6.28%,#3b528b 7.15%,#2b748e 8.4%,#238b8d 9.27%,#228d8d 9.76%,#25858e 10.63%,#34608d 11.88%,#3b528b 12.75%,#3d4c8a 13.99%,#3f4989 17.23%,#3d4c8a 27.05%,#3a548b 27.67%,#3b518b 28.05%,#3e4b89 28.42%,#3d4c8a 29.29%,#3c4e8a 29.79%,#3e4a89 30.78%,#3d4e8a 32.65%,#3b528b 33.15%,#3d4d8a 34.02%,#3a548b 35.51%,#355e8d 35.88%,#32648e 36.13%,#33648d 36.38%,#39578c 36.75%,#3b528b 38%,#3b528b 42.23%,#3e4989 47.33%,#46337f 54.66%,#472f7d 55.53%,#463580 56.03%,#443982 56.41%,#453681 56.65%,#472a79 57.15%,#482374 58.15%,#481d6e 60.01%,#481769 61.75%,#48186b 62.25%,#482172 62.75%,#482072 63%,#471265 63.5%,#460a5d 65.61%,#470e60 65.86%,#481568 66.23%,#471265 67.35%,#481669 67.85%,#481c6e 68.1%,#481c6e 69.09%,#482072 69.34%,#481e70 70.21%,#482071 71.58%,#481e70 72.7%,#481f71 73.45%,#482072 74.69%,#482273 75.81%,#482777 78.42%,#453681 79.04%,#443b83 79.29%,#472e7c 79.79%,#472d7b 80.41%,#46337f 82.28%,#472d7c 82.52%,#463480 83.02%,#472e7c 84.02%,#46327f 85.63%,#453681 86.26%,#463480 88.12%,#443a83 88.62%,#404588 89.12%,#404788 89.37%,#453882 89.99%,#453782 90.86%,#433c84 91.6%,#3e4a89 92.35%,#3e4b89 92.85%,#2a778e 94.59%,#287b8e 94.71%,#25838e 94.84%,#23898e 95.21%,#24878e 95.71%,#29798e 96.46%,#39578c 97.82%,#3e4a89 98.69%,#404588 99.94%)}
.r50{background:linear-gradient(90deg,#482677 0.06%,#472a7a 0.68%,#472f7d 1.06%,#472b7a 1.43%,#46317e 2.3%,#424086 2.8%,#424186 3.17%,#453782 3.92%,#453580 4.79%,#433d85 6.28%,#3d4e8a 7.28%,#31668e 8.27%,#287d8e 9.39%,#287d8e 9.89%,#2a788e 10.63%,#39568c 12%,#3f4989 13.12%,#414387 16.36%,#404788 27.05%,#3c4e8a 27.67%,#3d4c8a 28.05%,#404588 28.42%,#404688 29.29%,#3f4989 29.79%,#404487 30.78%,#3f4889 32.65%,#3d4d8a 33.15%,#3f4788 34.02%,#3c4e8a 35.51%,#38588c 35.88%,#355e8d 36.13%,#355d8d 36.38%,#3c508b 36.75%,#3d4c8a 37.62%,#3d4d8a 41.85%,#3f4989 44.96%,#453882 51.43%,#472b7a 54.91%,#482979 55.66%,#46337f 56.41%,#46307e 56.65%,#482475 57.15%,#481d6e 58.15%,#48186a 59.89%,#471264 61.01%,#471163 62.13%,#481b6d 62.87%,#481769 63.12%,#460b5e 63.5%,#450356 65.61%,#45065a 65.86%,#470f62 66.23%,#460c5f 66.98%,#460b5e 67.35%,#471063 67.85%,#481668 68.1%,#481668 69.09%,#481a6c 69.34%,#48186a 70.21%,#481a6c 71.58%,#48196b 72.2%,#48186b 73.57%,#481c6e 75.81%,#482273 78.42%,#47307d 79.04%,#453581 79.29%,#482878 79.79%,#482777 80.41%,#472d7c 82.28%,#482777 82.52%,#472e7c 83.02%,#482878 84.02%,#472c7b 85.63%,#47307d 86.26%,#472f7c 88.12%,#463480 88.62%,#424086 89.12%,#424186 89.37%,#46327f 89.99%,#46317e 90.86%,#453681 91.6%,#414387 92.35%,#414487 92.85%,#30698e 94.59%,#2e6d8e 94.71%,#2b748e 94.84%,#29798e 95.34%,#2c728e 96.08%,#3e4b8a 98.07%,#414287 99.07%,#423f85 99.94%)}
.r51{background:linear-gradient(90deg,#482979 0.06%,#472d7c 0.68%,#46327f 1.06%,#472e7c 1.43%,#463480 2.3%,#414387 2.8%,#414487 3.17%,#443a83 3.92%,#453882 4.79%,#423f86 6.28%,#3c4e8a 7.28%,#33628d 8.15%,#2e6e8e 8.89%,#2a768e 9.39%,#2b758e 10.01%,#2d718e 10.76%,#38588c 11.88%,#3e4b8a 13.12%,#404688 16.6%,#3f4989 27.05%,#3b518b 27.67%,#3c4e8a 28.05%,#3f4788 28.42%,#3f4989 29.29%,#3e4b89 29.79%,#3f4788 30.78%,#3e4a89 32.65%,#3c4f8a 33.15%,#3e4a89 34.02%,#3c4f8b 35.51%,#38598c 35.88%,#355f8d 36.13%,#355e8d 36.38%,#3b518b 36.75%,#3d4e8a 37.62%,#3c508b 40.61%,#3f4889 46.83%,#46317e 54.54%,#472c7b 55.53%,#46327e 56.03%,#453681 56.41%,#46337f 56.65%,#482777 57.15%,#482071 58.15%,#48196c 60.01%,#481466 61.75%,#481568 62.25%,#481d6f 62.75%,#481d6f 63%,#470f62 63.5%,#450659 65.61%,#460a5d 65.86%,#471265 66.23%,#470f62 67.35%,#481366 67.85%,#48196b 68.1%,#48196b 69.09%,#481d6f 69.34%,#481b6d 70.21%,#481d6f 71.58%,#481b6d 72.57%,#481c6e 73.45%,#481d6f 74.69%,#481f70 75.81%,#482475 78.42%,#46337f 79.04%,#453882 79.29%,#472b7a 79.79%,#482a79 80.41%,#46307e 82.28%,#472a7a 82.52%,#46317e 83.02%,#472b7a 84.02%,#472f7d 85.63%,#46337f 86.26%,#46317e 88.12%,#453781 88.62%,#414387 89.12%,#414487 89.37%,#463580 89.99%,#463480 90.86%,#443882 91.6%,#404588 92.35%,#404588 92.85%,#33638d 94.59%,#31678e 94.71%,#2e6e8e 94.84%,#2c728e 95.34%,#30698e 96.33%,#3e4b89 98.2%,#414487 99.19%,#424286 99.94%)}
.r52{background:linear-gradient(90deg,#482677 0.06%,#472a7a 0.68%,#472f7d 1.06%,#472b7a 1.43%,#46317e 2.3%,#424086 2.8%,#424186 3.17%,#453782 3.92%,#453580 4.79%,#433c84 6.28%,#3e4b89 7.28%,#365c8d 8.15%,#31678e 8.89%,#2e6f8e 9.39%,#2f6c8e 10.63%,#3b508b 12.13%,#3f4888 13.37%,#414387 16.98%,#404688 27.05%,#3d4e8a 27.67%,#3e4b8a 28.05%,#404487 28.42%,#404688 29.29%,#3f4889 29.79%,#414487 30.78%,#3f4888 32.65%,#3d4c8a 33.15%,#3f4788 34.02%,#3d4c8a 35.51%,#39558c 35.88%,#365b8d 36.13%,#375b8d 36.38%,#3d4d8a 36.75%,#3e4a89 37.62%,#3d4d8a 39.49%,#3d4c8a 42.35%,#414487 47.2%,#472e7c 54.54%,#482978 55.53%,#472f7d 56.03%,#46337f 56.41%,#46307e 56.65%,#482475 57.15%,#481c6e 58.15%,#48176a 59.89%,#471264 61.01%,#471163 62.13%,#481b6d 62.87%,#481669 63.12%,#460b5e 63.5%,#450356 65.61%,#45065a 65.86%,#470f62 66.23%,#460c5f 66.98%,#460b5e 67.35%,#471063 67.85%,#481668 68.1%,#481668 69.09%,#481a6c 69.34%,#48186a 70.21%,#481a6c 71.58%,#48196b 72.2%,#48186b 73.57%,#481c6e 75.81%,#482173 78.42%,#47307d 79.04%,#453580 79.29%,#482878 79.79%,#482777 80.41%,#472d7c 82.28%,#482777 82.52%,#472e7c 83.02%,#482878 84.02%,#472c7b 85.63%,#47307d 86.26%,#472e7c 88.12%,#463480 88.62%,#424086 89.12%,#424186 89.37%,#46327e 89.99%,#46317e 90.86%,#453581 91.6%,#414287 92.35%,#424186 92.85%,#365c8d 94.59%,#355f8d 94.71%,#31668e 94.84%,#306a8e 95.34%,#34608d 96.46%,#404688 98.32%,#423f86 99.69%,#433f85 99.94%)}
.r53{background:linear-gradient(90deg,#472c7b 0.06%,#47307d 0.68%,#453580 1.06%,#46317e 1.43%,#453781 2.3%,#404688 2.8%,#404788 3.17%,#433d84 3.92%,#443b83 4.91%,#414286 6.28%,#3c4f8a 7.28%,#355f8d 8.15%,#30698e 8.89%,#2d708e 9.51%,#2f6c8e 10.76%,#39568c 12%,#3d4d8a 13.25%,#3f4889 16.98%,#3e4b89 27.05%,#3a538b 27.67%,#3b508b 28.05%,#3e4a89 28.42%,#3e4b89 29.29%,#3d4d8a 29.79%,#3f4989 30.78%,#3d4d8a 32.65%,#3b518b 33.15%,#3d4c8a 34.02%,#3c508b 35.51%,#37598c 35.88%,#345f8d 36.13%,#355f8d 36.38%,#3b528b 36.75%,#3c4f8b 37.62%,#3b528b 39.49%,#3b518b 42.35%,#3f4989 47.33%,#46327f 54.66%,#472f7c 55.53%,#463480 56.03%,#443982 56.41%,#453681 56.65%,#482a79 57.15%,#482273 58.15%,#481c6e 60.01%,#481769 61.75%,#48186a 62.25%,#482072 62.75%,#482071 63%,#471265 63.5%,#460a5d 65.61%,#470d60 65.86%,#481568 66.23%,#471265 67.35%,#481669 67.85%,#481c6e 68.1%,#481c6e 69.09%,#482072 69.34%,#481e70 70.21%,#482071 71.58%,#481e70 72.7%,#481f71 73.45%,#482072 74.69%,#482273 75.81%,#482777 78.42%,#453681 79.04%,#443b83 79.29%,#472e7c 79.79%,#472c7b 80.41%,#46337f 82.28%,#472d7b 82.52%,#463480 83.02%,#472d7c 84.02%,#46327e 85.63%,#453681 86.26%,#463480 88.12%,#443983 88.62%,#404588 89.12%,#404688 89.37%,#453782 89.99%,#453781 90.86%,#443b84 91.6%,#3f4788 92.35%,#404688 92.85%,#38588c 94.22%,#34608d 94.71%,#31678e 94.84%,#2f6b8e 95.34%,#34608d 96.58%,#3e4989 98.45%,#414487 99.94%)}
.r54{background:linear-gradient(90deg,#482878 0.06%,#472c7b 0.68%,#46307e 1.06%,#472d7b 1.43%,#46327f 2.3%,#424286 2.8%,#414287 3.17%,#443982 3.92%,#453681 4.79%,#433d85 6.28%,#3e4a89 7.28%,#375a8d 8.15%,#34618d 8.77%,#306a8e 9.39%,#31678e 10.76%,#3b518b 12%,#3f4889 13.37%,#414487 17.1%,#3f4788 27.05%,#3c4f8a 27.67%,#3d4c8a 28.05%,#404688 28.42%,#404788 29.29%,#3f4989 29.79%,#404588 30.78%,#3f4989 32.65%,#3d4d8a 33.15%,#3f4889 34.02%,#3e4c8a 35.51%,#39558c 35.88%,#365b8d 36.13%,#375b8d 36.38%,#3d4e8a 36.75%,#3e4b8a 37.62%,#3d4e8a 39.49%,#3d4d8a 42.35%,#404588 47.2%,#472f7d 54.54%,#472a79 55.53%,#46307d 56.03%,#463480 56.41%,#46327e 56.65%,#482576 57.15%,#481e70 58.15%,#48186a 60.01%,#471264 61.75%,#481466 62.25%,#481c6e 62.75%,#481c6d 63%,#470d60 63.5%,#450458 65.61%,#46085b 65.86%,#471063 66.23%,#470e61 66.98%,#470d60 67.35%,#471164 67.85%,#48176a 68.1%,#48176a 69.09%,#481c6e 69.34%,#481a6c 70.21%,#481b6d 71.58%,#481a6c 72.33%,#481a6c 73.57%,#481d6f 75.81%,#482374 78.42%,#46317e 79.04%,#453781 79.29%,#482a79 79.79%,#482878 80.41%,#472f7d 82.28%,#482978 82.52%,#472f7d 83.02%,#482979 84.02%,#472d7c 85.63%,#46317e 86.26%,#47307d 88.12%,#453581 88.62%,#424186 89.12%,#414287 89.37%,#46337f 89.99%,#46327f 90.86%,#453781 91.6%,#414387 92.35%,#424186 92.85%,#3a538b 94.22%,#375a8d 94.71%,#33628d 94.84%,#32658e 95.34%,#37598c 96.7%,#404588 98.45%,#424086 99.94%)}
.r55{background:linear-gradient(90deg,#482677 0.06%,#472a79 0.68%,#472f7d 1.06%,#472b7a 1.43%,#46317e 2.3%,#424086 2.8%,#424186 3.17%,#453782 3.92%,#453580 4.79%,#433c84 6.28%,#3f4989 7.28%,#38588c 8.15%,#355f8d 8.77%,#31678e 9.39%,#32658e 10.76%,#3c4f8b 12%,#3f4788 13.37%,#414387 17.1%,#404688 27.05%,#3d4e8a 27.67%,#3e4b89 28.05%,#414487 28.42%,#404588 29.29%,#3f4889 29.79%,#414487 30.78%,#3f4788 32.65%,#3d4c8a 33.15%,#404688 34.02%,#3e4a89 35.51%,#3a538b 35.88%,#375a8c 36.13%,#375a8c 36.38%,#3d4c8a 36.75%,#3e4a89 37.62%,#3d4c8a 39.37%,#3d4c8a 42.35%,#414487 47.2%,#472e7c 54.54%,#482978 55.53%,#472f7d 56.03%,#46337f 56.41%,#46307d 56.65%,#482475 57.15%,#481c6e 58.15%,#48176a 59.89%,#471264 61.01%,#471163 62.13%,#481b6d 62.87%,#481669 63.12%,#460b5e 63.5%,#450356 65.61%,#45065a 65.86%,#470f62 66.23%,#460c5f 66.98%,#460b5e 67.35%,#471062 67.85%,#481668 68.1%,#481668 69.09%,#481a6c 69.34%,#48186a 70.21%,#481a6c 71.58%,#48196b 72.2%,#48186b 73.57%,#481c6e 75.81%,#482173 78.42%,#47307d 79.04%,#453580 79.29%,#482878 79.79%,#482777 80.41%,#472d7c 82.28%,#482777 82.52%,#472e7c 83.02%,#482878 84.02%,#472c7b 85.63%,#47307d 86.26%,#472e7c 88.12%,#463480 88.62%,#424086 89.12%,#424186 89.37%,#46317e 89.99%,#46317e 90.86%,#453581 91.6%,#424186 92.35%,#424086 92.85%,#3b508b 94.22%,#38588c 94.71%,#355f8d 94.84%,#33628d 95.34%,#39558c 96.83%,#414387 98.45%,#433e85 99.94%)}
.r56{background:linear-gradient(90deg,#472c7b 0.06%,#47307d 0.68%,#453580 1.06%,#46317e 1.43%,#453781 2.3%,#404588 2.8%,#404688 3.17%,#433d84 3.92%,#443b83 4.91%,#424186 6.28%,#3d4d8a 7.28%,#365c8d 8.15%,#33628d 8.77%,#2f6b8e 9.39%,#30688e 10.76%,#3a548b 12%,#3d4c8a 13.37%,#3f4889 17.23%,#3e4b89 27.05%,#3a538b 27.67%,#3c508b 28.05%,#3e4989 28.42%,#3e4a89 29.29%,#3d4d8a 29.79%,#3f4989 30.78%,#3d4c8a 32.65%,#3b518b 33.15%,#3e4b89 34.02%,#3c4f8a 35.51%,#38588c 35.88%,#355f8d 36.13%,#355e8d 36.38%,#3b518b 36.75%,#3c4f8b 37.75%,#3b518b 39.37%,#3b518b 42.35%,#3f4989 47.33%,#46327f 54.66%,#472e7c 55.53%,#463480 56.03%,#443982 56.41%,#453681 56.65%,#482a79 57.15%,#482273 58.15%,#481c6e 60.01%,#481769 61.75%,#48186a 62.25%,#482072 62.75%,#482071 63%,#471265 63.5%,#46095d 65.61%,#470d60 65.86%,#481568 66.23%,#471265 67.35%,#481669 67.85%,#481c6e 68.1%,#481c6e 69.09%,#482072 69.34%,#481e70 70.21%,#482071 71.58%,#481e70 72.7%,#481f71 73.45%,#482072 74.69%,#482273 75.81%,#482777 78.42%,#453581 79.04%,#443b83 79.29%,#472e7c 79.79%,#472c7b 80.41%,#46337f 82.28%,#472d7b 82.52%,#463480 83.02%,#472d7c 84.02%,#46327e 85.63%,#453581 86.26%,#463480 88.12%,#443983 88.62%,#404588 89.12%,#404688 89.37%,#453782 89.99%,#453781 90.86%,#443b83 91.6%,#404788 92.35%,#404588 92.85%,#3a548c 94.22%,#365b8d 94.71%,#33638d 94.84%,#32668e 95.34%,#38588c 96.95%,#3f4889 98.57%,#414487 99.94%)}
.r57{background:linear-gradient(90deg,#482677 0.06%,#472a79 0.68%,#472f7d 1.06%,#472b7a 1.43%,#46317e 2.3%,#424086 2.8%,#424186 3.17%,#453782 3.92%,#453580 4.79%,#443c84 6.28%,#3f4889 7.28%,#38578c 8.15%,#365d8d 8.77%,#32658e 9.39%,#33638d 10.76%,#3c4e8a 12%,#404788 13.37%,#414387 17.23%,#404688 27.05%,#3d4d8a 27.67%,#3e4b89 28.05%,#414487 28.42%,#404588 29.29%,#3f4889 29.79%,#414387 30.78%,#3f4788 32.65%,#3d4c8a 33.15%,#404688 34.02%,#3e4a89 35.51%,#3a538b 35.88%,#375a8c 36.13%,#37598c 36.38%,#3d4c8a 36.75%,#3e4a89 37.62%,#3d4c8a 39.37%,#3d4c8a 42.35%,#414487 47.2%,#472e7c 54.54%,#482978 55.53%,#472f7d 56.03%,#46337f 56.41%,#46307d 56.65%,#482475 57.15%,#481c6e 58.15%,#48176a 59.89%,#471264 61.01%,#471163 62.13%,#481b6d 62.87%,#481669 63.12%,#460b5e 63.5%,#450356 65.61%,#45065a 65.86%,#470f62 66.23%,#460c5f 66.98%,#460b5e 67.35%,#471062 67.85%,#481668 68.1%,#481668 69.09%,#481a6c 69.34%,#48186a 70.21%,#481a6c 71.58%,#48196b 72.2%,#48186b 73.57%,#481c6e 75.81%,#482173 78.42%,#47307d 79.04%,#453580 79.29%,#482878 79.79%,#482777 80.41%,#472d7c 82.28%,#482777 82.52%,#472e7c 83.02%,#482878 84.02%,#472c7b 85.63%,#47307d 86.26%,#472e7c 88.12%,#463480 88.62%,#424086 89.12%,#424186 89.37%,#46317e 89.99%,#46317e 90.86%,#453580 91.6%,#424186 92.35%,#423f85 92.85%,#3c4f8a 94.22%,#39568c 94.71%,#355d8d 94.84%,#34608d 95.34%,#3b518b 97.08%,#414287 98.57%,#433e85 99.94%)}
.r58{background:linear-gradient(90deg,#482979 0.06%,#472d7b 0.68%,#46327f 1.06%,#472e7c 1.43%,#463480 2.3%,#414387 2.8%,#414487 3.17%,#443a83 3.92%,#453882 4.91%,#424086 6.41%,#3e4a89 7.28%,#38598c 8.15%,#355e8d 8.77%,#31678e 9.39%,#32658e 10.76%,#3b528b 11.88%,#3f4989 13.25%,#404588 17.35%,#3f4889 27.05%,#3c508b 27.67%,#3d4e8a 28.05%,#404788 28.42%,#3f4889 29.29%,#3e4a89 29.79%,#404688 30.78%,#3e4a89 32.65%,#3c4e8a 33.15%,#3f4889 34.02%,#3d4c8a 35.51%,#39568c 35.88%,#365c8d 36.13%,#365c8d 36.38%,#3c4f8a 36.75%,#3d4c8a 37.62%,#3c4f8a 39.49%,#3c4e8a 42.35%,#404688 47.2%,#47307d 54.66%,#472c7a 55.53%,#46327e 56.03%,#453681 56.41%,#46337f 56.65%,#482777 57.15%,#481f71 58.15%,#48196c 60.01%,#481366 61.75%,#481568 62.25%,#481d6f 62.75%,#481d6f 63%,#470f62 63.5%,#450659 65.61%,#460a5d 65.86%,#471265 66.23%,#470f61 67.35%,#481366 67.85%,#48196b 68.1%,#48196b 69.09%,#481d6f 69.34%,#481b6d 70.21%,#481d6f 71.58%,#481b6d 72.57%,#481c6e 73.45%,#481d6f 74.69%,#481f70 75.81%,#482475 78.42%,#46337f 79.04%,#453882 79.29%,#472b7a 79.79%,#482a79 80.41%,#46307e 82.28%,#472a79 82.52%,#46317e 83.02%,#472b7a 84.02%,#472f7d 85.63%,#46337f 86.26%,#46317e 88.12%,#453781 88.62%,#414287 89.12%,#414487 89.37%,#463480 89.99%,#463480 90.86%,#453882 91.6%,#414487 92.35%,#424286 92.85%,#3b508b 94.22%,#38578c 94.71%,#355f8d 94.84%,#33628d 95.34%,#3a538b 97.08%,#414487 98.69%,#424186 99.94%)}
.r59{background:linear-gradient(90deg,#482677 0.06%,#472a79 0.68%,#472f7d 1.06%,#472b7a 1.43%,#46317e 2.3%,#424086 2.8%,#424186 3.17%,#453782 3.92%,#453580 4.79%,#443b84 6.28%,#3f4788 7.28%,#39568c 8.15%,#365b8d 8.77%,#32648e 9.39%,#33628d 10.76%,#3c4f8a 11.88%,#404688 13.25%,#414387 17.35%,#404688 27.05%,#3d4d8a 27.67%,#3e4b89 28.05%,#414487 28.42%,#404588 29.29%,#3f4889 29.79%,#414387 30.78%,#3f4788 32.65%,#3d4c8a 33.15%,#404588 34.02%,#3e4a89 35.51%,#3a538b 35.88%,#375a8c 36.13%,#37598c 36.38%,#3d4c8a 36.75%,#3e4a89 37.62%,#3d4c8a 39.37%,#3d4c8a 42.35%,#414487 47.2%,#472e7c 54.54%,#482978 55.53%,#472f7d 56.03%,#46337f 56.41%,#47307d 56.65%,#482475 57.15%,#481c6e 58.15%,#48176a 59.89%,#471264 61.01%,#471163 62.13%,#481b6d 62.87%,#481669 63.12%,#460b5e 63.5%,#450356 65.61%,#45065a 65.86%,#470f62 66.23%,#460c5f 66.98%,#460b5e 67.35%,#471062 67.85%,#481668 68.1%,#481668 69.09%,#481a6c 69.34%,#48186a 70.21%,#481a6c 71.58%,#48196b 72.2%,#48186b 73.57%,#481c6e 75.81%,#482173 78.42%,#47307d 79.04%,#453580 79.29%,#482878 79.79%,#482777 80.41%,#472d7c 82.28%,#482777 82.52%,#472e7c 83.02%,#482878 84.02%,#472c7b 85.63%,#47307d 86.26%,#472e7c 88.12%,#463480 88.62%,#424086 89.12%,#424186 89.37%,#46317e 89.99%,#46317e 90.86%,#453580 91.6%,#424186 92.35%,#433f85 92.85%,#3d4d8a 94.22%,#3a548c 94.71%,#365c8d 94.84%,#355f8d 95.34%,#3c4e8a 97.2%,#424186 98.69%,#433e85 99.94%)}
.r60{background:linear-gradient(90deg,#472c7b 0.06%,#47307d 0.68%,#463580 1.06%,#46317e 1.43%,#453781 2.3%,#404588 2.8%,#404688 3.17%,#433d84 3.92%,#443b83 4.91%,#414287 6.41%,#3c4f8a 7.4%,#375a8d 8.15%,#345f8d 8.77%,#31688e 9.39%,#32668e 10.76%,#3a538b 11.88%,#3e4c8a 13.37%,#3f4889 17.48%,#3e4b89 27.05%,#3a538b 27.67%,#3c508b 28.05%,#3f4989 28.42%,#3e4a89 29.29%,#3d4d8a 29.79%,#3f4989 30.78%,#3d4c8a 32.65%,#3b518b 33.15%,#3e4b89 34.02%,#3c4f8a 35.51%,#38588c 35.88%,#355f8d 36.13%,#355e8d 36.38%,#3b518b 36.75%,#3c4f8a 37.75%,#3b518b 39.37%,#3b518b 42.35%,#3f4989 47.33%,#46327f 54.66%,#472e7c 55.53%,#463480 56.03%,#443982 56.41%,#453681 56.65%,#482a79 57.15%,#482273 58.15%,#481c6e 60.01%,#481769 61.75%,#48186a 62.25%,#482072 62.75%,#482071 63%,#471265 63.5%,#46095d 65.61%,#470d60 65.86%,#481568 66.23%,#471265 67.35%,#481669 67.85%,#481c6e 68.1%,#481c6e 69.09%,#482072 69.34%,#481e70 70.21%,#482071 71.58%,#481e70 72.7%,#481f71 73.45%,#482072 74.69%,#482273 75.81%,#482777 78.42%,#453581 79.04%,#443b83 79.29%,#472e7c 79.79%,#472c7b 80.41%,#46337f 82.28%,#472d7b 82.52%,#463380 83.02%,#472d7c 84.02%,#46327e 85.63%,#453581 86.26%,#463480 88.12%,#443983 88.62%,#404588 89.12%,#404688 89.37%,#453782 89.99%,#453781 90.86%,#443a83 91.6%,#404688 92.35%,#414487 92.85%,#3b528b 94.22%,#38588c 94.71%,#34608d 94.84%,#33628d 95.34%,#3a528b 97.2%,#404688 98.82%,#414487 99.94%)}
.r61{background:linear-gradient(90deg,#482676 0.06%,#472a79 0.68%,#472f7d 1.06%,#472b7a 1.43%,#46317e 2.3%,#424086 2.8%,#424186 3.17%,#453782 3.92%,#453581 4.91%,#433d84 6.41%,#3f4788 7.28%,#39558c 8.15%,#375a8c 8.77%,#33628d 9.39%,#34608d 10.76%,#3c4e8a 11.88%,#404688 13.37%,#414387 17.48%,#404688 27.05%,#3d4d8a 27.67%,#3e4b89 28.05%,#414487 28.42%,#404588 29.29%,#3f4888 29.79%,#414387 30.78%,#3f4788 32.65%,#3e4c8a 33.15%,#404588 34.02%,#3e4a89 35.51%,#3a538b 35.88%,#375a8c 36.13%,#37598c 36.38%,#3d4c8a 36.75%,#3e4a89 37.62%,#3d4c8a 39.37%,#3d4c8a 42.35%,#414487 47.2%,#472e7c 54.54%,#482978 55.53%,#472f7d 56.03%,#46337f 56.41%,#47307d 56.65%,#482475 57.15%,#481c6e 58.15%,#48176a 59.89%,#471264 61.01%,#471163 62.13%,#481b6d 62.87%,#481669 63.12%,#460b5e 63.5%,#450356 65.61%,#45065a 65.86%,#470f62 66.23%,#460c5f 66.98%,#460b5e 67.35%,#471062 67.85%,#481668 68.1%,#481668 69.09%,#481a6c 69.34%,#48186a 70.21%,#481a6c 71.58%,#48196b 72.2%,#48186b 73.57%,#481c6e 75.81%,#482173 78.42%,#47307d 79.04%,#453580 79.29%,#482878 79.79%,#482777 80.41%,#472d7c 82.28%,#482777 82.52%,#472e7c 83.02%,#482878 84.02%,#472c7b 85.63%,#47307d 86.26%,#472e7c 88.12%,#463480 88.62%,#424086 89.12%,#424186 89.37%,#46317e 89.99%,#46317e 90.86%,#453580 91.6%,#424186 92.35%,#433e85 92.85%,#3d4c8a 94.22%,#3a538b 94.71%,#375a8d 94.84%,#355d8d 95.34%,#3e4b8a 97.33%,#424086 98.82%,#433e85 99.94%)}
.r62{background:linear-gradient(90deg,#482979 0.06%,#472d7b 0.68%,#46327f 1.06%,#472e7c 1.43%,#463480 2.3%,#414387 2.8%,#414487 3.17%,#443a83 3.92%,#453882 4.91%,#423f85 6.41%,#3d4c8a 7.4%,#38578c 8.15%,#365c8d 8.77%,#32648e 9.39%,#33628d 10.76%,#3b508b 11.88%,#3f4989 13.37%,#404588 17.48%,#3f4889 27.05%,#3c508b 27.67%,#3d4d8a 28.05%,#404788 28.42%,#3f4889 29.29%,#3e4a89 29.79%,#404688 30.78%,#3e4a89 32.65%,#3c4e8a 33.15%,#3f4889 34.02%,#3d4c8a 35.51%,#39568c 35.88%,#365c8d 36.13%,#365c8d 36.38%,#3c4f8a 36.75%,#3d4c8a 37.62%,#3c4f8a 39.49%,#3c4e8a 42.35%,#404688 47.2%,#47307d 54.66%,#472c7a 55.53%,#46327e 56.03%,#453681 56.41%,#46337f 56.65%,#482777 57.15%,#481f71 58.15%,#48196c 60.01%,#481366 61.75%,#481568 62.25%,#481d6f 62.75%,#481d6f 63%,#470f62 63.5%,#450659 65.61%,#460a5d 65.86%,#471265 66.23%,#470f61 67.35%,#481366 67.85%,#48196b 68.1%,#48196b 69.09%,#481d6f 69.34%,#481b6d 70.21%,#481d6f 71.58%,#481b6d 72.57%,#481c6e 73.45%,#481d6f 74.69%,#481f70 75.81%,#482475 78.42%,#46337f 79.04%,#453882 79.29%,#472b7a 79.79%,#482a79 80.41%,#46307e 82.28%,#472a79 82.52%,#46317e 83.02%,#472b7a 84.02%,#472f7d 85.63%,#46337f 86.26%,#46317e 88.12%,#453781 88.62%,#414287 89.12%,#414487 89.37%,#463480 89.99%,#463480 90.86%,#453882 91.6%,#414387 92.35%,#424186 92.85%,#3c4e8a 94.22%,#39558c 94.71%,#365c8d 94.84%,#355f8d 95.34%,#414387 98.69%,#424186 99.94%)}
.r63{background:linear-gradient(90deg,#482676 0.06%,#472a79 0.68%,#472f7d 1.06%,#472b7a 1.43%,#46317e 2.3%,#424086 2.8%,#424186 3.17%,#453782 3.92%,#453580 4.91%,#433d84 6.41%,#404788 7.28%,#3a548c 8.15%,#37598c 8.77%,#34618d 9.39%,#345f8d 10.76%,#3d4e8a 11.88%,#404688 13.37%,#414387 17.48%,#404688 27.05%,#3d4d8a 27.67%,#3e4b89 28.05%,#414487 28.42%,#404588 29.29%,#3f4888 29.79%,#414387 30.78%,#3f4788 32.65%,#3e4c8a 33.15%,#404588 34.02%,#3e4a89 35.51%,#3a538b 35.88%,#375a8c 36.13%,#37598c 36.38%,#3d4c8a 36.75%,#3e4a89 37.62%,#3d4c8a 39.37%,#3d4c8a 42.35%,#414487 47.2%,#472e7c 54.54%,#482978 55.53%,#472f7d 56.03%,#46337f 56.41%,#47307d 56.65%,#482475 57.15%,#481c6e 58.15%,#48176a 59.89%,#471264 61.01%,#471163 62.13%,#481b6d 62.87%,#481669 63.12%,#460b5e 63.5%,#450356 65.61%,#45065a 65.86%,#470f62 66.23%,#460c5f 66.98%,#460b5e 67.35%,#471062 67.85%,#481668 68.1%,#481668 69.09%,#481a6c 69.34%,#48186a 70.21%,#481a6c 71.58%,#48196b 72.2%,#48186b 73.57%,#481c6e 75.81%,#482173 78.42%,#47307d 79.04%,#453580 79.29%,#482878 79.79%,#482777 80.41%,#472d7c 82.28%,#482777 82.52%,#472e7c 83.02%,#482878 84.02%,#472c7b 85.63%,#47307d 86.26%,#472e7c 88.12%,#463480 88.62%,#424086 89.12%,#424186 89.37%,#46317e 89.99%,#46317e 90.86%,#453580 91.6%,#424086 92.35%,#433e85 92.85%,#3e4b8a 94.22%,#3b528b 94.71%,#37598c 94.84%,#365c8d 95.34%,#424186 98.57%,#433e85 99.94%)}
.r64{background:linear-gradient(90deg,#482374 0.06%,#482777 0.68%,#472c7b 1.06%,#482878 1.43%,#472e7c 2.3%,#433d85 2.8%,#433e85 3.17%,#463480 3.92%,#46327f 4.79%,#443983 6.41%,#404688 7.4%,#3b508b 8.15%,#39558c 8.77%,#365c8d 9.39%,#365b8d 10.39%,#37598c 10.88%,#3e4a89 11.88%,#414387 13.37%,#424086 17.72%,#414387 27.05%,#3e4b89 27.67%,#3f4889 28.05%,#424186 28.42%,#414287 29.29%,#404588 29.79%,#424186 30.66%,#404487 32.65%,#3f4989 33.15%,#414387 34.02%,#3f4788 35.51%,#3b518b 35.88%,#38578c 36.13%,#38578c 36.38%,#3e4989 36.75%,#3f4788 37.62%,#3e4a89 39.37%,#3f4989 42.35%,#424186 47.2%,#472b7a 54.54%,#482676 55.53%,#472c7b 56.03%,#47307d 56.41%,#472d7c 56.65%,#482172 57.15%,#48196b 58.15%,#481467 59.89%,#470e61 61.01%,#470d60 62.13%,#481769 62.75%,#481769 63%,#46075b 63.5%,#440154 65.36%,#440154 65.73%,#460b5e 66.23%,#46085c 66.98%,#46075b 67.35%,#470c5f 67.85%,#471265 68.1%,#471365 69.09%,#481769 69.34%,#481567 70.21%,#481769 71.58%,#481567 72.08%,#481668 73.45%,#481769 74.56%,#48196b 75.81%,#481e70 78.42%,#472d7b 79.04%,#46327f 79.29%,#482576 79.79%,#482474 80.41%,#472a7a 82.28%,#482475 82.52%,#472b7a 83.02%,#482575 84.02%,#482979 85.63%,#472d7b 86.26%,#472b7a 88.12%,#46317e 88.62%,#433d84 89.12%,#433e85 89.37%,#472f7c 89.99%,#472e7c 90.86%,#46327f 91.6%,#433d85 92.35%,#443a83 92.85%,#404688 94.09%,#3e4a89 94.59%,#3d4d8a 94.71%,#3a548c 94.84%,#38578c 95.34%,#433e85 98.57%,#443b84 99.94%)}
.r65{background:linear-gradient(90deg,#482273 0.06%,#482676 0.68%,#472b7a 1.06%,#482777 1.43%,#472b7a 2.18%,#463480 2.55%,#433c84 2.8%,#433d84 3.17%,#46337f 3.92%,#46307e 4.79%,#453882 6.41%,#404487 7.4%,#3c4f8a 8.15%,#3a538b 8.77%,#365b8d 9.39%,#375a8c 10.39%,#38588c 10.88%,#3f4889 11.88%,#414286 13.37%,#433f85 17.72%,#424186 27.05%,#3e4989 27.67%,#3f4788 28.05%,#424086 28.42%,#424186 29.29%,#414487 29.79%,#423f85 30.66%,#414387 32.65%,#3f4888 33.15%,#424186 34.02%,#404688 35.51%,#3c4f8b 35.88%,#39568c 36.13%,#39568c 36.38%,#3f4889 36.75%,#404688 37.62%,#3f4889 39.37%,#3f4889 42.35%,#424086 47.2%,#482979 54.54%,#482475 55.53%,#472a79 56.03%,#472f7d 56.41%,#472c7b 56.65%,#481f71 57.15%,#48186a 58.15%,#471365 59.89%,#470c5f 61.01%,#460b5e 62.13%,#481668 62.75%,#481568 63%,#450659 63.5%,#440154 64.86%,#440254 65.86%,#46095d 66.23%,#450659 67.35%,#460a5e 67.85%,#471163 68.1%,#471164 69.09%,#481568 69.34%,#481366 70.21%,#481567 71.58%,#481366 72.08%,#481467 73.45%,#481567 74.44%,#481769 75.81%,#481d6f 78.42%,#472b7a 79.04%,#46317e 79.29%,#482475 79.79%,#482273 80.41%,#482979 82.28%,#482374 82.52%,#482979 83.02%,#482374 84.02%,#482777 85.63%,#472b7a 86.26%,#482a79 88.12%,#472f7d 88.62%,#443c84 89.12%,#433d84 89.37%,#472d7b 89.99%,#472c7b 90.86%,#46307e 91.6%,#433c84 92.35%,#443983 92.85%,#404588 94.09%,#3f4889 94.59%,#3e4b8a 94.71%,#3a538b 94.84%,#39568c 95.34%,#433c84 98.57%,#443a83 99.94%)}
.r66{background:linear-gradient(90deg,#482072 0.06%,#482475 0.68%,#482979 1.06%,#482576 1.43%,#482979 2.18%,#46327f 2.55%,#443a83 2.8%,#443b84 3.17%,#46317e 3.92%,#472f7d 4.79%,#453781 6.41%,#414387 7.4%,#3d4e8a 8.15%,#3b528b 8.77%,#375a8c 9.39%,#37598c 10.39%,#39568c 10.88%,#3f4788 11.88%,#424086 13.37%,#433d85 17.72%,#424086 27.05%,#3f4889 27.67%,#404688 28.05%,#433e85 28.42%,#424086 29.29%,#414287 29.79%,#433e85 30.66%,#424286 32.65%,#404688 33.15%,#424086 34.02%,#414487 35.51%,#3c4e8a 35.88%,#39558c 36.13%,#3a548c 36.38%,#404788 36.75%,#404487 37.62%,#3f4788 39.37%,#404688 42.35%,#433e85 47.2%,#482878 54.54%,#482374 55.53%,#482978 56.03%,#472d7c 56.41%,#472a79 56.65%,#481e6f 57.15%,#481668 58.15%,#471164 59.89%,#460b5e 60.88%,#46095d 62.13%,#481466 62.75%,#481466 63%,#450457 63.5%,#440154 64.49%,#440154 65.86%,#46085b 66.36%,#450457 67.35%,#46085c 67.85%,#470f62 68.1%,#470f62 69.09%,#481466 69.34%,#471164 70.21%,#481466 71.46%,#471264 72.08%,#471265 73.45%,#481366 74.44%,#481568 75.81%,#481b6d 78.42%,#482a79 79.04%,#472f7d 79.29%,#482273 79.79%,#482172 80.41%,#482777 82.28%,#482172 82.52%,#482878 83.02%,#482273 84.02%,#482676 85.63%,#482a79 86.26%,#482878 88.12%,#472e7c 88.62%,#443a83 89.12%,#443b84 89.37%,#472c7a 89.99%,#472b7a 90.86%,#472f7d 91.6%,#443a83 92.35%,#453882 92.85%,#414387 94.09%,#3f4788 94.59%,#3e4a89 94.71%,#3b528b 94.84%,#3a548c 95.34%,#443b84 98.57%,#453882 99.94%)}
</style>
<div id="hm"><i class="r0" style="top:529px;height:3px"></i><i class="r1" style="top:526px;height:3px"></i><i class="r2" style="top:524px;height:2px"></i><i class="r3" style="top:521px;height:3px"></i><i class="r0" style="top:519px;height:2px"></i><i class="r4" style="top:516px;height:3px"></i><i class="r5" style="top:513px;height:3px"></i><i class="r4" style="top:511px;height:2px"></i><i class="r3" style="top:508px;height:3px"></i><i class="r2" style="top:506px;height:2px"></i><i class="r3" style="top:503px;height:3px"></i><i class="r0" style="top:501px;height:2px"></i><i class="r3" style="top:498px;height:3px"></i><i class="r2" style="top:496px;height:2px"></i><i class="r3" style="top:493px;height:3px"></i><i class="r4" style="top:491px;height:2px"></i><i class="r6" style="top:488px;height:3px"></i><i class="r3" style="top:486px;height:2px"></i><i class="r4" style="top:483px;height:3px"></i><i class="r3" style="top:480px;height:3px"></i><i class="r2" style="top:478px;height:2px"></i><i class="r1" style="top:475px;height:3px"></i><i class="r4" style="top:473px;height:2px"></i><i class="r3" style="top:470px;height:3px"></i><i class="r6" style="top:468px;height:2px"></i><i class="r1" style="top:465px;height:3px"></i><i class="r7" style="top:463px;height:2px"></i><i class="r6" style="top:460px;height:3px"></i><i class="r3" style="top:458px;height:2px"></i><i class="r4" style="top:455px;height:3px"></i><i class="r3" style="top:453px;height:2px"></i><i class="r6" style="top:450px;height:3px"></i><i class="r3" style="top:447px;height:3px"></i><i class="r4" style="top:445px;height:2px"></i><i class="r3" style="top:442px;height:3px"></i><i class="r6" style="top:440px;height:2px"></i><i class="r7" style="top:437px;height:3px"></i><i class="r3" style="top:435px;height:2px"></i><i class="r6" style="top:432px;height:3px"></i><i class="r3" style="top:430px;height:2px"></i><i class="r4" style="top:427px;height:3px"></i><i class="r3" style="top:425px;height:2px"></i><i class="r6" style="top:422px;height:3px"></i><i class="r3" style="top:419px;height:3px"></i><i class="r4" style="top:417px;height:2px"></i><i class="r1" style="top:414px;height:3px"></i><i class="r0" style="top:412px;height:2px"></i><i class="r7" style="top:409px;height:3px"></i><i class="r3" style="top:407px;height:2px"></i><i class="r6" style="top:404px;height:3px"></i><i class="r8" style="top:402px;height:2px"></i><i class="r4" style="top:399px;height:3px"></i><i class="r8" style="top:397px;height:2px"></i><i class="r6" style="top:394px;height:3px"></i><i class="r8" style="top:392px;height:2px"></i><i class="r4" style="top:389px;height:3px"></i><i class="r6" style="top:386px;height:3px"></i><i class="r3" style="top:384px;height:2px"></i><i class="r7" style="top:381px;height:3px"></i><i class="r8" style="top:379px;height:2px"></i><i class="r5" style="top:376px;height:3px"></i><i class="r1" style="top:374px;height:2px"></i><i class="r7" style="top:371px;height:3px"></i><i class="r9" style="top:369px;height:2px"></i><i class="r6" style="top:366px;height:3px"></i><i class="r1" style="top:364px;height:2px"></i><i class="r1" style="top:361px;height:3px"></i><i class="r6" style="top:358px;height:3px"></i><i class="r8" style="top:356px;height:2px"></i><i class="r7" style="top:353px;height:3px"></i><i class="r8" style="top:351px;height:2px"></i><i class="r5" style="top:348px;height:3px"></i><i class="r10" style="top:346px;height:2px"></i><i class="r11" style="top:343px;height:3px"></i><i class="r12" style="top:341px;height:2px"></i><i class="r13" style="top:338px;height:3px"></i><i class="r14" style="top:336px;height:2px"></i><i class="r15" style="top:333px;height:3px"></i><i class="r16" style="top:331px;height:2px"></i><i class="r17" style="top:328px;height:3px"></i><i class="r18" style="top:325px;height:3px"></i><i class="r19" style="top:323px;height:2px"></i><i class="r20" style="top:320px;height:3px"></i><i class="r21" style="top:318px;height:2px"></i><i class="r22" style="top:315px;height:3px"></i><i class="r23" style="top:313px;height:2px"></i><i class="r24" style="top:310px;height:3px"></i><i class="r25" style="top:308px;height:2px"></i><i class="r26" style="top:305px;height:3px"></i><i class="r27" style="top:303px;height:2px"></i><i class="r28" style="top:300px;height:3px"></i><i class="r29" style="top:297px;height:3px"></i><i class="r30" style="top:295px;height:2px"></i><i class="r31" style="top:292px;height:3px"></i><i class="r32" style="top:290px;height:2px"></i><i class="r33" style="top:287px;height:3px"></i><i class="r34" style="top:285px;height:2px"></i><i class="r35" style="top:282px;height:3px"></i><i class="r36" style="top:280px;height:2px"></i><i class="r37" style="top:277px;height:3px"></i><i class="r38" style="top:275px;height:2px"></i><i class="r39" style="top:272px;height:3px"></i><i class="r40" style="top:270px;height:2px"></i><i class="r41" style="top:267px;height:3px"></i><i class="r42" style="top:264px;height:3px"></i><i class="r43" style="top:262px;height:2px"></i><i class="r44" style="top:259px;height:3px"></i><i class="r45" style="top:257px;height:2px"></i><i class="r46" style="top:254px;height:3px"></i><i class="r47" style="top:252px;height:2px"></i><i class="r48" style="top:249px;height:3px"></i><i class="r49" style="top:247px;height:2px"></i><i class="r50" style="top:244px;height:3px"></i><i class="r51" style="top:242px;height:2px"></i><i class="r52" style="top:239px;height:3px"></i><i class="r53" style="top:237px;height:2px"></i><i class="r54" style="top:234px;height:3px"></i><i class="r55" style="top:231px;height:3px"></i><i class="r56" style="top:229px;height:2px"></i><i class="r57" style="top:226px;height:3px"></i><i class="r58" style="top:224px;height:2px"></i><i class="r59" style="top:221px;height:3px"></i><i class="r60" style="top:219px;height:2px"></i><i class="r61" style="top:216px;height:3px"></i><i class="r62" style="top:214px;height:2px"></i><i class="r63" style="top:211px;height:3px"></i><i class="r4" style="top:209px;height:2px"></i><i class="r1" style="top:206px;height:3px"></i><i class="r8" style="top:203px;height:3px"></i><i class="r5" style="top:201px;height:2px"></i><i class="r64" style="top:198px;height:3px"></i><i class="r1" style="top:196px;height:2px"></i><i class="r64" style="top:193px;height:3px"></i><i class="r5" style="top:191px;height:2px"></i><i class="r64" style="top:188px;height:3px"></i><i class="r1" style="top:186px;height:2px"></i><i class="r1" style="top:183px;height:3px"></i><i class="r1" style="top:181px;height:2px"></i><i class="r1" style="top:178px;height:3px"></i><i class="r64" style="top:176px;height:2px"></i><i class="r0" style="top:173px;height:3px"></i><i class="r9" style="top:170px;height:3px"></i><i class="r1" style="top:168px;height:2px"></i><i class="r64" style="top:165px;height:3px"></i><i class="r5" style="top:163px;height:2px"></i><i class="r64" style="top:160px;height:3px"></i><i class="r3" style="top:158px;height:2px"></i><i class="r0" style="top:155px;height:3px"></i><i class="r9" style="top:153px;height:2px"></i><i class="r3" style="top:150px;height:3px"></i><i class="r64" style="top:148px;height:2px"></i><i class="r5" style="top:145px;height:3px"></i><i class="r9" style="top:142px;height:3px"></i><i class="r3" style="top:140px;height:2px"></i><i class="r65" style="top:137px;height:3px"></i><i class="r0" style="top:135px;height:2px"></i><i class="r8" style="top:132px;height:3px"></i><i class="r8" style="top:130px;height:2px"></i><i class="r0" style="top:127px;height:3px"></i><i class="r64" style="top:125px;height:2px"></i><i class="r3" style="top:122px;height:3px"></i><i class="r64" style="top:120px;height:2px"></i><i class="r0" style="top:117px;height:3px"></i><i class="r64" style="top:115px;height:2px"></i><i class="r3" style="top:112px;height:3px"></i><i class="r64" style="top:109px;height:3px"></i><i class="r0" style="top:107px;height:2px"></i><i class="r3" style="top:104px;height:3px"></i><i class="r64" style="top:102px;height:2px"></i><i class="r0" style="top:99px;height:3px"></i><i class="r64" style="top:97px;height:2px"></i><i class="r3" style="top:94px;height:3px"></i><i class="r65" style="top:92px;height:2px"></i><i class="r0" style="top:89px;height:3px"></i><i class="r65" style="top:87px;height:2px"></i><i class="r8" style="top:84px;height:3px"></i><i class="r3" style="top:81px;height:3px"></i><i class="r1" style="top:79px;height:2px"></i><i class="r8" style="top:76px;height:3px"></i><i class="r9" style="top:74px;height:2px"></i><i class="r0" style="top:71px;height:3px"></i><i class="r65" style="top:69px;height:2px"></i><i class="r8" style="top:66px;height:3px"></i><i class="r65" style="top:64px;height:2px"></i><i class="r4" style="top:61px;height:3px"></i><i class="r64" style="top:59px;height:2px"></i><i class="r8" style="top:56px;height:3px"></i><i class="r4" style="top:54px;height:2px"></i><i class="r64" style="top:51px;height:3px"></i><i class="r8" style="top:48px;height:3px"></i><i class="r65" style="top:46px;height:2px"></i><i class="r0" style="top:43px;height:3px"></i><i class="r65" style="top:41px;height:2px"></i><i class="r8" style="top:38px;height:3px"></i><i class="r66" style="top:36px;height:2px"></i><i class="r0" style="top:33px;height:3px"></i><i class="r8" style="top:31px;height:2px"></i><i class="r9" style="top:28px;height:3px"></i><i class="r4" style="top:26px;height:2px"></i><i class="r65" style="top:23px;height:3px"></i><i class="r8" style="top:20px;height:3px"></i><i class="r65" style="top:18px;height:2px"></i><i class="r0" style="top:15px;height:3px"></i><i class="r65" style="top:13px;height:2px"></i><i class="r8" style="top:10px;height:3px"></i><i class="r64" style="top:8px;height:2px"></i><i class="r0" style="top:5px;height:3px"></i><i class="r3" style="top:3px;height:2px"></i><i class="r64" style="top:0px;height:3px"></i></div>
<svg width="4000" height="600" viewBox="0 0 4000 600" style="position:absolute;left:0;top:0">
<defs><linearGradient id="cb" x1="0" y1="0" x2="0" y2="1"><stop offset="0" stop-color="#fde725"/><stop offset="0.0156" stop-color="#f6e620"/><stop offset="0.0312" stop-color="#ece51b"/><stop offset="0.0469" stop-color="#e2e418"/><stop offset="0.0625" stop-color="#d8e219"/><stop offset="0.0781" stop-color="#cde11d"/><stop offset="0.0938" stop-color="#c2df23"/><stop offset="0.1094" stop-color="#b8de29"/><stop offset="0.125" stop-color="#addc30"/><stop offset="0.1406" stop-color="#a2da37"/><stop offset="0.1562" stop-color="#98d83e"/><stop offset="0.1719" stop-color="#8ed645"/><stop offset="0.1875" stop-color="#84d44b"/><stop offset="0.2031" stop-color="#7ad151"/><stop offset="0.2188" stop-color="#70cf57"/><stop offset="0.2344" stop-color="#67cc5c"/><stop offset="0.25" stop-color="#5ec962"/><stop offset="0.2656" stop-color="#56c667"/><stop offset="0.2812" stop-color="#4ec36b"/><stop offset="0.2969" stop-color="#46c06f"/><stop offset="0.3125" stop-color="#3fbc73"/><stop offset="0.3281" stop-color="#38b977"/><stop offset="0.3438" stop-color="#32b67a"/><stop offset="0.3594" stop-color="#2db27d"/><stop offset="0.375" stop-color="#28ae80"/><stop offset="0.3906" stop-color="#25ab82"/><stop offset="0.4062" stop-color="#22a785"/><stop offset="0.4219" stop-color="#20a386"/><stop offset="0.4375" stop-color="#1fa088"/><stop offset="0.4531" stop-color="#1e9c89"/><stop offset="0.4688" stop-color="#1f988b"/><stop offset="0.4844" stop-color="#1f948c"/><stop offset="0.5" stop-color="#21918c"/><stop offset="0.5156" stop-color="#228d8d"/><stop offset="0.5312" stop-color="#23898e"/><stop offset="0.5469" stop-color="#25858e"/><stop offset="0.5625" stop-color="#26828e"/><stop offset="0.5781" stop-color="#277e8e"/><stop offset="0.5938" stop-color="#297a8e"/><stop offset="0.6094" stop-color="#2a768e"/><stop offset="0.625" stop-color="#2c728e"/><stop offset="0.6406" stop-color="#2e6f8e"/><stop offset="0.6562" stop-color="#2f6b8e"/><stop offset="0.6719" stop-color="#31678e"/><stop offset="0.6875" stop-color="#33638d"/><stop offset="0.7031" stop-color="#355f8d"/><stop offset="0.7188" stop-color="#375b8d"/><stop offset="0.7344" stop-color="#39568c"/><stop offset="0.75" stop-color="#3b528b"/><stop offset="0.7656" stop-color="#3d4e8a"/><stop offset="0.7812" stop-color="#3e4989"/><stop offset="0.7969" stop-color="#404588"/><stop offset="0.8125" stop-color="#424086"/><stop offset="0.8281" stop-color="#443b84"/><stop offset="0.8438" stop-color="#453781"/><stop offset="0.8594" stop-color="#46327e"/><stop offset="0.875" stop-color="#472d7b"/><stop offset="0.8906" stop-color="#482878"/><stop offset="0.9062" stop-color="#482374"/><stop offset="0.9219" stop-color="#481d6f"/><stop offset="0.9375" stop-color="#48186a"/><stop offset="0.9531" stop-color="#471365"/><stop offset="0.9688" stop-color="#470d60"/><stop offset="0.9844" stop-color="#46075a"/><stop offset="1" stop-color="#440154"/></linearGradient></defs><rect x="1169.5" y="30.5" width="27" height="531" fill="url(#cb)"/>
<polyline points="2776.3,404 2781.3,398 2784.29,383 2786.29,368 2787.79,366 2789.29,375.5 2791.29,383.5 2794.29,381 2797.78,374.5 2801.28,363 2803.78,343 2805.78,313 2807.78,285.5 2809.77,276.5 2811.27,276 2813.27,285.5 2815.27,303 2817.27,317 2820.27,326.5 2823.76,335 2827.26,339.5 2830.26,338.5 2834.26,332 2839.25,324.5 2844.25,316 2848.25,303 2852.24,283 2856.24,265.5 2858.74,250.5 2860.74,230.5 2861.74,223 2865.23,190 2869.23,162.5 2873.23,150 2876.23,127.5 2879.22,95 2882.22,67.5 2884.72,56 2886.72,53.5 2889.22,60 2892.21,68 2895.21,66 2897.21,66 2899.21,75 2901.21,95 2904.2,130 2907.7,165 2911.7,195 2915.2,212.5 2918.69,223 2921.69,232 2925.19,240.5 2928.19,244.5 2931.18,245.5 2935.18,248 2939.18,253 2944.17,257 2949.17,263 2955.17,267 2962.66,269 2970.16,270 2980.15,269 2990.14,268.5 3002.63,269.5 3015.12,268 3025.11,266.5 3035.11,265.5 3041.1,262 3045.1,264 3054.09,265.5 3062.59,263.5 3072.58,263 3080.07,260.5 3086.57,258 3088.57,250.5 3091.06,233 3092.56,217.5 3095.06,212 3097.06,220 3098.56,223 3100.06,243 3102.06,260.5 3105.05,267 3108.05,265.5 3111.05,265 3113.55,255.5 3115.55,244 3117.55,239.5 3119.54,245.5 3122.04,257 3125.54,264 3130.04,265.5 3135.03,264 3141.03,260 3147.02,257 3151.02,250.5 3154.02,238 3156.02,225.5 3158.01,221.5 3160.01,227.5 3162.01,242.5 3164.51,251 3168.01,254.5 3171.5,255 3175,250 3179,245 3182.5,239 3184.99,230 3186.99,215 3188.49,190 3189.99,160 3191.49,140 3192.99,133 3194.49,135 3195.99,150 3197.49,185 3198.98,212.5 3200.48,222.5 3202.98,224.5 3205.98,223.5 3209.98,221 3213.47,218.5 3216.47,212.5 3219.47,205 3222.47,200 3225.46,198.5 3228.96,201 3232.46,200 3235.96,198 3238.95,195 3243.45,194 3247.95,193.5 3251.94,192.5 3255.94,194.5 3259.94,199 3263.44,204 3266.93,211 3270.93,216 3274.93,221 3279.92,225.5 3283.92,232 3288.42,233 3293.41,233.5 3297.41,236 3301.41,242.5 3305.9,250 3309.9,252.5 3313.9,255 3316.9,260 3320.89,265 3324.89,272.5 3327.89,277 3331.88,279 3335.88,282.5 3340.88,287 3344.88,293 3349.87,300 3354.87,309 3359.86,316 3364.86,321 3369.86,328 3374.85,334.5 3379.85,338 3383.85,343 3387.84,349.5 3391.84,356.5 3395.84,360.5 3399.83,366 3403.83,371 3406.83,379 3409.83,387 3412.32,392 3414.82,394.5 3417.32,391.5 3419.32,383 3421.32,368 3423.32,353 3425.32,347.5 3427.31,350.5 3428.81,363 3430.81,388 3432.81,405.5 3434.81,417 3437.31,427 3439.8,434.5 3442.8,441 3445.8,445 3448.8,447 3451.8,451 3454.79,454.5 3457.79,458 3460.29,455 3462.29,458 3465.29,463 3468.28,472 3470.78,479 3472.78,478 3475.78,484 3478.78,486 3483.77,488.5 3486.77,491.5 3489.77,491 3492.27,489 3494.26,480 3496.26,465 3498.26,454 3500.26,451.5 3501.76,455 3503.26,470 3505.26,492.5 3507.25,507.5 3509.75,515 3512.75,518 3515.75,521 3518.75,525 3521.74,528 3524.74,531.5 3527.74,536 3530.24,535 3532.73,537 3534.23,527.5 3536.23,510 3538.23,497.5 3540.23,494 3542.23,499 3544.23,497.5 3546.22,502.5 3548.72,509 3551.22,511 3553.22,502.5 3555.72,499 3557.72,492.5 3559.71,472.5 3561.71,469 3564.71,471 3567.71,470 3570.21,468 3572.21,471.5 3573.7,455 3575.7,454 3577.7,459 3579.7,457.5 3581.7,462.5 3583.7,465 3586.19,460 3588.69,455 3591.69,457 3594.69,454 3597.69,455 3600.18,454 3602.18,462.5 3604.68,464 3607.68,460 3610.68,461.5 3613.17,463.5 3615.67,457.5 3618.17,455 3621.17,457.5 3623.67,461.5 3626.66,463.5 3629.66,460 3632.66,457.5 3635.16,455 3637.66,452.5 3640.15,454 3642.65,450 3645.15,449 3647.65,454 3650.15,445 3652.15,442.5 3654.64,444 3657.14,440 3659.64,438.5 3662.64,440 3665.64,438 3668.63,439 3671.63,436.5 3674.63,434 3677.63,430 3679.63,424 3681.62,412.5 3683.12,397.5 3684.62,380 3686.12,370 3687.62,347.5 3689.12,337.5 3690.62,342.5 3692.12,365 3693.61,380 3695.11,395 3697.11,402.5 3699.61,405 3702.61,402.5 3705.61,396.5 3708.6,394 3711.6,389 3714.6,385 3717.6,384 3720.59,380 3722.09,375 3723.59,371 3724.59,380 3725.09,380 3726.09,402.5 3728.09,395 3729.59,380 3731.09,372.5 3732.59,371.5 3734.58,376 3735.08,380 3737.58,390 3740.58,396 3743.58,398.5 3747.57,398 3751.57,395 3755.57,392.5 3759.57,387.5 3762.56,380 3764.56,370 3767.06,362.5 3769.06,360.5 3771.06,366 3773.55,370.5 3775.55,367.5 3777.55,365 3779.55,369 3782.05,372.5 3785.55,372 3789.54,371.5 3792.54,366.5 3795.04,357.5 3797.54,340 3799.54,317.5 3801.53,295 3803.53,281 3805.03,278.5 3806.53,285 3808.03,305 3810.03,332.5 3812.03,350 3814.02,358.5 3816.52,360.5 3819.52,358.5 3822.52,355 3825.52,351.5 3828.51,346 3831.01,337.5 3833.51,322.5 3835.51,305 3837.51,287.5 3839.51,278 3841,276.5 3842.5,282.5 3844,288.5 3845.5,289 3847,282.5 3849,270 3851.5,257.5 3853.99,242.5 3856.49,227.5 3858.99,217.5 3861.49,207.5 3863.49,200 3865.49,185 3866.99,167.5 3867.98,145 3868.48,117.5 3869.98,102.5 3871.98,92.5 3873.98,89 3875.98,92.5 3878.48,101.5 3881.47,115 3884.47,132.5 3887.47,150 3890.47,170 3893.47,187.5 3895.46,200 3897.46,212.5 3900.46,227.5 3903.46,241 3906.46,252.5 3909.45,262.5 3912.45,270 3915.45,276 3918.45,278 3921.44,279 3924.44,284 3927.44,288" fill="none" stroke="#1f77b4" stroke-width="2.08" stroke-linejoin="round"/>
<polyline points="1463.32,462.45 1468.85,484.66 1474.39,435.25 1479.92,492.29 1485.46,464.77 1490.99,468.42 1496.53,452.17 1502.06,468.08 1507.59,491.96 1513.13,440.56 1518.66,491.3 1524.2,467.42 1529.73,493.95 1535.27,438.24 1540.8,496.27 1546.33,470.41 1551.87,445.2 1557.4,489.64 1562.94,471.4 1568.47,493.62 1574.01,440.56 1579.54,486.99 1585.07,470.41 1590.61,492.95 1596.14,443.21 1601.68,488.98 1607.21,479.69 1612.75,444.21 1618.28,495.61 1623.81,474.05 1629.35,499.59 1634.88,445.2 1640.42,497.93 1645.95,474.05 1651.49,499.59 1657.02,446.2 1662.55,479.69 1668.09,498.92 1673.62,448.19 1679.16,496.93 1684.69,475.05 1690.23,502.24 1695.76,447.19 1701.29,501.25 1706.83,476.37 1712.36,486.32 1717.9,464.1 1723.43,481.35 1728.97,499.59 1734.5,451.5 1740.03,506.22 1745.57,479.69 1751.1,507.21 1756.64,451.5 1762.17,506.22 1767.71,480.35 1773.24,451.5 1778.78,498.92 1784.31,483.01 1789.84,507.21 1795.38,454.16 1800.91,491.96 1806.45,483.01 1811.98,510.53 1817.52,452.17 1823.05,496.27 1828.58,491.96 1834.12,455.48 1839.65,508.54 1845.19,486.32 1850.72,507.21 1856.26,453.16 1861.79,497.93 1867.32,481.35 1872.86,497.93 1878.39,448.52 1883.93,479.69 1889.46,494.61 1895,438.9 1900.53,477.04 1906.06,424.97 1911.6,395.5 1917.13,264.2 1922.67,249.2 1928.2,168 1933.74,122.9 1939.27,53.9 1944.8,82.4 1950.34,99.7 1955.87,88.4 1961.41,200.2 1966.94,212.1 1972.48,244.3 1978.01,230.3 1983.54,305.3 1989.08,292.4 1994.61,294 2000.15,334.1 2005.68,355 2011.22,401.5 2016.75,371.6 2022.28,434.9 2027.82,425 2033.35,447.2 2038.89,381.6 2044.42,413.1 2049.96,410.4 2055.49,388.2 2061.02,449.8 2066.56,440.9 2072.09,473.1 2077.63,425.6 2083.16,479.69 2088.7,473.06 2094.23,504.56 2099.76,446.53 2105.3,488.64 2110.83,504.56 2116.37,455.48 2121.9,514.51 2127.44,491.3 2132.97,519.48 2138.5,460.46 2144.04,522.14 2149.57,495.61 2155.11,511.86 2160.64,471.4 2166.18,499.59 2171.71,516.83 2177.24,465.43 2182.78,525.45 2188.31,499.59 2193.85,527.11 2199.38,465.43 2204.92,527.77 2210.45,501.25 2215.98,494.28 2221.52,496.27 2227.05,501.91 2232.59,527.11 2238.12,469.74 2243.66,521.81 2249.19,502.24 2254.72,527.77 2260.26,467.42 2265.79,528.44 2271.33,504.56 2276.86,472.39 2282.4,522.14 2287.93,505.56 2293.47,527.77 2299,467.42 2304.53,526.12 2310.07,503.57 2315.6,531.09 2321.14,472.39 2326.67,515.17 2332.21,517.83 2337.74,471.4 2343.27,527.77 2348.81,505.56 2354.34,529.43 2359.88,467.42 2365.41,529.43 2370.95,506.22 2376.48,522.14 2382.01,472.39 2387.55,507.88 2393.08,526.78 2398.62,471.4 2404.15,523.79 2409.69,506.55 2415.22,532.09 2420.75,469.41 2426.29,535.07 2431.82,506.88 2437.36,501.25 2442.89,487.65 2448.43,508.87 2453.96,516.17 2459.49,470.41 2465.03,534.41 2470.56,507.21 2476.1,529.43 2481.63,473.39 2487.17,525.45 2492.7,508.21 2498.23,477.7 2503.77,523.79 2509.3,511.19 2514.84,534.41 2520.37,470.41 2525.91,536.73 2531.44,509.2 2536.97,537.06 2542.51,471.4 2548.04,513.85 2553.58,520.15 2559.11,474.38 2564.65,534.41 2570.18,511.19 2575.71,536.73 2581.25,471.4 2586.78,537.06 2592.32,509.2 2597.85,530.43 2603.39,472.39 2608.92,514.51 2614.45,535.4" fill="none" stroke="#1f77b4" stroke-width="2.08" stroke-linejoin="round"/>
<g fill="#f00" stroke="#f00" stroke-width="1.39"><circle cx="1474.39" cy="435.25" r="4.17"/><circle cx="1496.53" cy="452.17" r="4.17"/><circle cx="1513.13" cy="440.56" r="4.17"/><circle cx="1524.2" cy="467.42" r="4.17"/><circle cx="1535.27" cy="438.24" r="4.17"/><circle cx="1546.33" cy="470.41" r="4.17"/><circle cx="1551.87" cy="445.2" r="4.17"/><circle cx="1562.94" cy="471.4" r="4.17"/><circle cx="1574.01" cy="440.56" r="4.17"/><circle cx="1585.07" cy="470.41" r="4.17"/><circle cx="1596.14" cy="443.21" r="4.17"/><circle cx="1612.75" cy="444.21" r="4.17"/><circle cx="1623.81" cy="474.05" r="4.17"/><circle cx="1634.88" cy="445.2" r="4.17"/><circle cx="1645.95" cy="474.05" r="4.17"/><circle cx="1657.02" cy="446.2" r="4.17"/><circle cx="1673.62" cy="448.19" r="4.17"/><circle cx="1684.69" cy="475.05" r="4.17"/><circle cx="1695.76" cy="447.19" r="4.17"/><circle cx="1717.9" cy="464.1" r="4.17"/><circle cx="1734.5" cy="451.5" r="4.17"/><circle cx="1745.57" cy="479.69" r="4.17"/><circle cx="1756.64" cy="451.5" r="4.17"/><circle cx="1767.71" cy="480.35" r="4.17"/><circle cx="1773.24" cy="451.5" r="4.17"/><circle cx="1784.31" cy="483.01" r="4.17"/><circle cx="1795.38" cy="454.16" r="4.17"/><circle cx="1817.52" cy="452.17" r="4.17"/><circle cx="1834.12" cy="455.48" r="4.17"/><circle cx="1845.19" cy="486.32" r="4.17"/><circle cx="1856.26" cy="453.16" r="4.17"/><circle cx="1867.32" cy="481.35" r="4.17"/><circle cx="1878.39" cy="448.52" r="4.17"/><circle cx="1978.01" cy="230.3" r="4.17"/><circle cx="2016.75" cy="371.6" r="4.17"/><circle cx="2038.89" cy="381.6" r="4.17"/><circle cx="2055.49" cy="388.2" r="4.17"/><circle cx="2077.63" cy="425.6" r="4.17"/><circle cx="2099.76" cy="446.53" r="4.17"/><circle cx="2116.37" cy="455.48" r="4.17"/><circle cx="2127.44" cy="491.3" r="4.17"/><circle cx="2138.5" cy="460.46" r="4.17"/><circle cx="2149.57" cy="495.61" r="4.17"/><circle cx="2160.64" cy="471.4" r="4.17"/><circle cx="2177.24" cy="465.43" r="4.17"/><circle cx="2188.31" cy="499.59" r="4.17"/><circle cx="2199.38" cy="465.43" r="4.17"/><circle cx="2238.12" cy="469.74" r="4.17"/><circle cx="2249.19" cy="502.24" r="4.17"/><circle cx="2260.26" cy="467.42" r="4.17"/><circle cx="2271.33" cy="504.56" r="4.17"/><circle cx="2276.86" cy="472.39" r="4.17"/><circle cx="2287.93" cy="505.56" r="4.17"/><circle cx="2299" cy="467.42" r="4.17"/><circle cx="2310.07" cy="503.57" r="4.17"/><circle cx="2321.14" cy="472.39" r="4.17"/><circle cx="2337.74" cy="471.4" r="4.17"/><circle cx="2348.81" cy="505.56" r="4.17"/><circle cx="2359.88" cy="467.42" r="4.17"/><circle cx="2370.95" cy="506.22" r="4.17"/><circle cx="2382.01" cy="472.39" r="4.17"/><circle cx="2398.62" cy="471.4" r="4.17"/><circle cx="2409.69" cy="506.55" r="4.17"/><circle cx="2420.75" cy="469.41" r="4.17"/><circle cx="2442.89" cy="487.65" r="4.17"/><circle cx="2459.49" cy="470.41" r="4.17"/><circle cx="2470.56" cy="507.21" r="4.17"/><circle cx="2481.63" cy="473.39" r="4.17"/><circle cx="2492.7" cy="508.21" r="4.17"/><circle cx="2498.23" cy="477.7" r="4.17"/><circle cx="2509.3" cy="511.19" r="4.17"/><circle cx="2520.37" cy="470.41" r="4.17"/><circle cx="2531.44" cy="509.2" r="4.17"/><circle cx="2542.51" cy="471.4" r="4.17"/><circle cx="2559.11" cy="474.38" r="4.17"/><circle cx="2570.18" cy="511.19" r="4.17"/><circle cx="2581.25" cy="471.4" r="4.17"/><circle cx="2592.32" cy="509.2" r="4.17"/><circle cx="2603.39" cy="472.39" r="4.17"/></g>
<g fill="none" stroke="#000" stroke-width="1.11" stroke-linecap="square"><rect x="93.5" y="30.5" width="1013" height="531"/><rect x="1169.5" y="30.5" width="27" height="531"/><rect x="1406.5" y="30.5" width="1266" height="531"/><rect x="2719.5" y="30.5" width="1266" height="531"/></g>
<g stroke="#000" fill="none"><line x1="172.5" y1="561.53" x2="172.5" y2="566.39" stroke-width="1.11"/><line x1="310.5" y1="561.53" x2="310.5" y2="566.39" stroke-width="1.11"/><line x1="448.5" y1="561.53" x2="448.5" y2="566.39" stroke-width="1.11"/><line x1="586.5" y1="561.53" x2="586.5" y2="566.39" stroke-width="1.11"/><line x1="725.5" y1="561.53" x2="725.5" y2="566.39" stroke-width="1.11"/><line x1="863.5" y1="561.53" x2="863.5" y2="566.39" stroke-width="1.11"/><line x1="1001.5" y1="561.53" x2="1001.5" y2="566.39" stroke-width="1.11"/><line x1="93.03" y1="486.5" x2="88.17" y2="486.5" stroke-width="1.11"/><line x1="93.03" y1="410.5" x2="88.17" y2="410.5" stroke-width="1.11"/><line x1="93.03" y1="334.5" x2="88.17" y2="334.5" stroke-width="1.11"/><line x1="93.03" y1="258.5" x2="88.17" y2="258.5" stroke-width="1.11"/><line x1="93.03" y1="182.5" x2="88.17" y2="182.5" stroke-width="1.11"/><line x1="93.03" y1="105.5" x2="88.17" y2="105.5" stroke-width="1.11"/><line x1="1461.5" y1="561.53" x2="1461.5" y2="566.39" stroke-width="1.11"/><line x1="1626.5" y1="561.53" x2="1626.5" y2="566.39" stroke-width="1.11"/><line x1="1790.5" y1="561.53" x2="1790.5" y2="566.39" stroke-width="1.11"/><line x1="1955.5" y1="561.53" x2="1955.5" y2="566.39" stroke-width="1.11"/><line x1="2120.5" y1="561.53" x2="2120.5" y2="566.39" stroke-width="1.11"/><line x1="2285.5" y1="561.53" x2="2285.5" y2="566.39" stroke-width="1.11"/><line x1="2450.5" y1="561.53" x2="2450.5" y2="566.39" stroke-width="1.11"/><line x1="2614.5" y1="561.53" x2="2614.5" y2="566.39" stroke-width="1.11"/><line x1="1406.01" y1="511.5" x2="1401.15" y2="511.5" stroke-width="1.11"/><line x1="1406.01" y1="435.5" x2="1401.15" y2="435.5" stroke-width="1.11"/><line x1="1406.01" y1="359.5" x2="1401.15" y2="359.5" stroke-width="1.11"/><line x1="1406.01" y1="283.5" x2="1401.15" y2="283.5" stroke-width="1.11"/><line x1="1406.01" y1="207.5" x2="1401.15" y2="207.5" stroke-width="1.11"/><line x1="1406.01" y1="131.5" x2="1401.15" y2="131.5" stroke-width="1.11"/><line x1="1406.01" y1="55.5" x2="1401.15" y2="55.5" stroke-width="1.11"/><line x1="2776.5" y1="561.53" x2="2776.5" y2="566.39" stroke-width="1.11"/><line x1="2919.5" y1="561.53" x2="2919.5" y2="566.39" stroke-width="1.11"/><line x1="3063.5" y1="561.53" x2="3063.5" y2="566.39" stroke-width="1.11"/><line x1="3206.5" y1="561.53" x2="3206.5" y2="566.39" stroke-width="1.11"/><line x1="3349.5" y1="561.53" x2="3349.5" y2="566.39" stroke-width="1.11"/><line x1="3493.5" y1="561.53" x2="3493.5" y2="566.39" stroke-width="1.11"/><line x1="3636.5" y1="561.53" x2="3636.5" y2="566.39" stroke-width="1.11"/><line x1="3779.5" y1="561.53" x2="3779.5" y2="566.39" stroke-width="1.11"/><line x1="3923.5" y1="561.53" x2="3923.5" y2="566.39" stroke-width="1.11"/><line x1="2718.99" y1="494.5" x2="2714.13" y2="494.5" stroke-width="1.11"/><line x1="2718.99" y1="396.5" x2="2714.13" y2="396.5" stroke-width="1.11"/><line x1="2718.99" y1="298.5" x2="2714.13" y2="298.5" stroke-width="1.11"/><line x1="2718.99" y1="200.5" x2="2714.13" y2="200.5" stroke-width="1.11"/><line x1="2718.99" y1="102.5" x2="2714.13" y2="102.5" stroke-width="1.11"/><line x1="1195.9" y1="530.5" x2="1198.68" y2="530.5" stroke-width="0.83"/><line x1="1195.9" y1="356.5" x2="1198.68" y2="356.5" stroke-width="0.83"/><line x1="1195.9" y1="222.5" x2="1198.68" y2="222.5" stroke-width="0.83"/><line x1="1195.9" y1="112.5" x2="1198.68" y2="112.5" stroke-width="0.83"/></g>
<text x="172.51" y="582.34" font-size="13.89" text-anchor="middle">−1</text>
<text x="311.2" y="581.83" font-size="13.89" text-anchor="middle">0</text>
<text x="449.3" y="582.44" font-size="13.89" text-anchor="middle">1</text>
<text x="587.18" y="581.48" font-size="13.89" text-anchor="middle">2</text>
<text x="725.22" y="581.54" font-size="13.89" text-anchor="middle">3</text>
<text x="864.15" y="582.38" font-size="13.89" text-anchor="middle">4</text>
<text x="1001.27" y="581.79" font-size="13.89" text-anchor="middle">5</text>
<text x="81.13" y="492.47" font-size="13.89" text-anchor="end">1419.5</text>
<text x="81.38" y="416.48" font-size="13.89" text-anchor="end">1420.0</text>
<text x="81.16" y="340.45" font-size="13.89" text-anchor="end">1420.5</text>
<text x="81.31" y="264.31" font-size="13.89" text-anchor="end">1421.0</text>
<text x="81.06" y="188.28" font-size="13.89" text-anchor="end">1421.5</text>
<text x="81.3" y="111.22" font-size="13.89" text-anchor="end">1422.0</text>
<text x="24.98" y="296.79" font-size="13.89" text-anchor="middle" transform="rotate(-90 24.98 296.79)">WX</text>
<text x="1461.26" y="581.56" font-size="13.89" text-anchor="middle">1419.0</text>
<text x="1625.06" y="581.56" font-size="13.89" text-anchor="middle">1419.5</text>
<text x="1790.25" y="581.6" font-size="13.89" text-anchor="middle">1420.0</text>
<text x="1955.1" y="581.61" font-size="13.89" text-anchor="middle">1420.5</text>
<text x="2120.3" y="581.52" font-size="13.89" text-anchor="middle">1421.0</text>
<text x="2285" y="581.53" font-size="13.89" text-anchor="middle">1421.5</text>
<text x="2450.22" y="581.52" font-size="13.89" text-anchor="middle">1422.0</text>
<text x="2613.98" y="581.52" font-size="13.89" text-anchor="middle">1422.5</text>
<text x="1394.73" y="517.31" font-size="13.89" text-anchor="end">3.3</text>
<text x="1394.92" y="441.27" font-size="13.89" text-anchor="end">3.4</text>
<text x="1394.83" y="365.5" font-size="13.89" text-anchor="end">3.5</text>
<text x="1394.84" y="289.57" font-size="13.89" text-anchor="end">3.6</text>
<text x="1395" y="213.41" font-size="13.89" text-anchor="end">3.7</text>
<text x="1394.98" y="137.43" font-size="13.89" text-anchor="end">3.8</text>
<text x="1394.87" y="61.44" font-size="13.89" text-anchor="end">3.9</text>
<text x="1405.85" y="26.04" font-size="13.89" text-anchor="start">1e11</text>
<text x="2777.24" y="581.82" font-size="13.89" text-anchor="middle">0</text>
<text x="2919.43" y="581.73" font-size="13.89" text-anchor="middle">100</text>
<text x="3063.16" y="581.72" font-size="13.89" text-anchor="middle">200</text>
<text x="3205.43" y="581.75" font-size="13.89" text-anchor="middle">300</text>
<text x="3349.32" y="581.69" font-size="13.89" text-anchor="middle">400</text>
<text x="3492.39" y="581.85" font-size="13.89" text-anchor="middle">500</text>
<text x="3636.06" y="581.93" font-size="13.89" text-anchor="middle">600</text>
<text x="3779.31" y="581.86" font-size="13.89" text-anchor="middle">700</text>
<text x="3923.07" y="581.79" font-size="13.89" text-anchor="middle">800</text>
<text x="2708.02" y="500.44" font-size="13.89" text-anchor="end">3.0</text>
<text x="2707.7" y="402.3" font-size="13.89" text-anchor="end">3.2</text>
<text x="2707.9" y="304.27" font-size="13.89" text-anchor="end">3.4</text>
<text x="2707.8" y="206.53" font-size="13.89" text-anchor="end">3.6</text>
<text x="2707.96" y="108.43" font-size="13.89" text-anchor="end">3.8</text>
<text x="2718.94" y="26.03" font-size="13.89" text-anchor="start">1e11</text>
<text><tspan x="1203.42" y="537.06" font-size="13.89">3</tspan><tspan x="1214.97" y="537.06" font-size="13.89">×</tspan><tspan x="1229.31" y="537.06" font-size="13.89">1</tspan><tspan x="1238.15" y="537.06" font-size="13.89">0</tspan><tspan x="1247.12" y="531.75" font-size="9.72">1</tspan><tspan x="1253.3" y="531.75" font-size="9.72">1</tspan></text>
<text><tspan x="1203.25" y="364.14" font-size="13.89">4</tspan><tspan x="1214.79" y="364.14" font-size="13.89">×</tspan><tspan x="1229.13" y="364.14" font-size="13.89">1</tspan><tspan x="1237.97" y="364.14" font-size="13.89">0</tspan><tspan x="1246.94" y="358.82" font-size="9.72">1</tspan><tspan x="1253.13" y="358.82" font-size="9.72">1</tspan></text>
<text><tspan x="1203.45" y="229.08" font-size="13.89">5</tspan><tspan x="1214.99" y="229.08" font-size="13.89">×</tspan><tspan x="1229.33" y="229.08" font-size="13.89">1</tspan><tspan x="1238.17" y="229.08" font-size="13.89">0</tspan><tspan x="1247.14" y="223.76" font-size="9.72">1</tspan><tspan x="1253.33" y="223.76" font-size="9.72">1</tspan></text>
<text><tspan x="1203.36" y="118.99" font-size="13.89">6</tspan><tspan x="1214.9" y="118.99" font-size="13.89">×</tspan><tspan x="1229.25" y="118.99" font-size="13.89">1</tspan><tspan x="1238.08" y="118.99" font-size="13.89">0</tspan><tspan x="1247.05" y="113.67" font-size="9.72">1</tspan><tspan x="1253.24" y="113.67" font-size="9.72">1</tspan></text>
</svg>
</div>
</body></html>
